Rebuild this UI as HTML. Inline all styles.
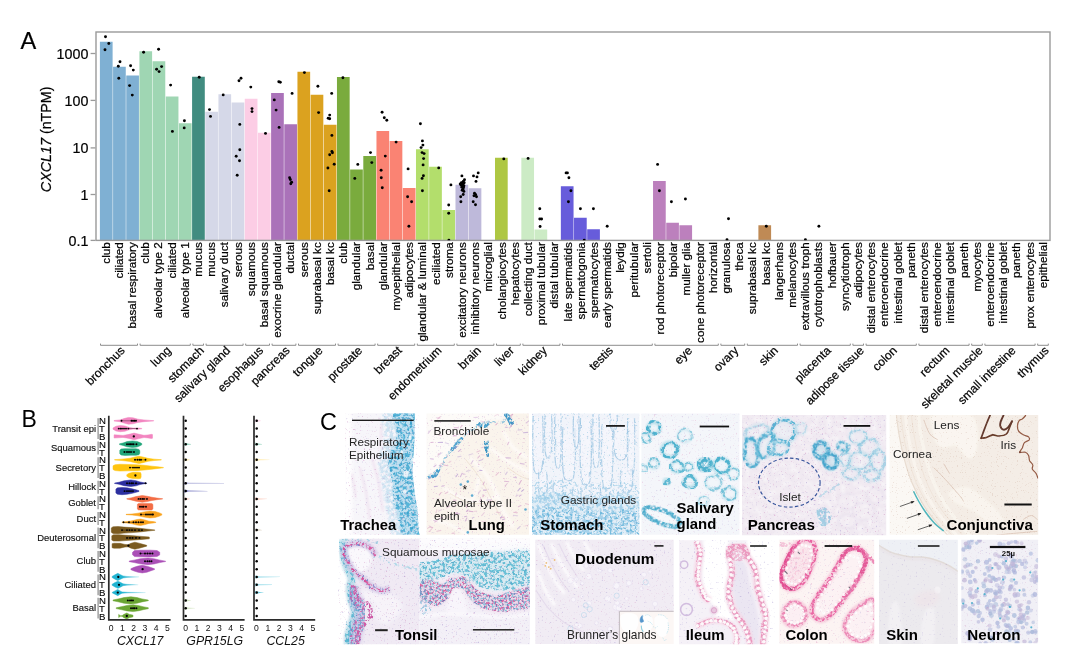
<!DOCTYPE html>
<html lang="en"><head><meta charset="utf-8"><title>CXCL17 expression figure</title>
<style>
html,body{margin:0;padding:0;background:#fff}
body{width:1080px;height:663px;overflow:hidden;font-family:"Liberation Sans", Arial, sans-serif}
svg{display:block}
</style></head><body>
<svg width="1080" height="663" viewBox="0 0 1080 663">
<rect width="1080" height="663" fill="#fff"/>
<defs><clipPath id="cp_trachea"><rect x="345" y="413.2" width="74.7" height="121.6"/></clipPath>
<clipPath id="cp_lung"><rect x="426.6" y="413.4" width="102.4" height="121.4"/></clipPath>
<clipPath id="cp_stomach"><rect x="532" y="413.4" width="107.4" height="121.4"/></clipPath>
<clipPath id="cp_salivary"><rect x="641.4" y="413.4" width="98.1" height="121.4"/></clipPath>
<clipPath id="cp_pancreas"><rect x="742" y="415" width="144.2" height="120.2"/></clipPath>
<clipPath id="cp_conj"><rect x="889.6" y="415" width="148.6" height="119.8"/></clipPath>
<clipPath id="cp_tonsil1"><rect x="338" y="538.8" width="81.6" height="105.5"/></clipPath>
<clipPath id="cp_tonsil2"><rect x="419.6" y="538.8" width="110.3" height="105.5"/></clipPath>
<clipPath id="cp_duo"><rect x="535.3" y="539.7" width="138.4" height="104.3"/></clipPath>
<clipPath id="cp_ileum"><rect x="679.1" y="540.2" width="95.3" height="104.1"/></clipPath>
<clipPath id="cp_colon"><rect x="779.3" y="539.8" width="94.9" height="104.0"/></clipPath>
<clipPath id="cp_skin"><rect x="879" y="539.8" width="78.8" height="104.2"/></clipPath>
<clipPath id="cp_neuron"><rect x="961.3" y="539.8" width="76.8" height="103.4"/></clipPath>
<filter id="spPink" x="0" y="0" width="100%" height="100%" color-interpolation-filters="sRGB"><feTurbulence type="fractalNoise" baseFrequency="0.55" numOctaves="2" seed="3"/><feColorMatrix type="matrix" values="0 0 0 0 0.753  0 0 0 0 0.439  0 0 0 0 0.690  7 0 0 0 -4.75"/><feGaussianBlur stdDeviation="0.4"/></filter>
<filter id="spPink2" x="0" y="0" width="100%" height="100%" color-interpolation-filters="sRGB"><feTurbulence type="fractalNoise" baseFrequency="0.55" numOctaves="2" seed="14"/><feColorMatrix type="matrix" values="0 0 0 0 0.851  0 0 0 0 0.522  0 0 0 0 0.710  7 0 0 0 -4.75"/><feGaussianBlur stdDeviation="0.4"/></filter>
<filter id="spPurp" x="0" y="0" width="100%" height="100%" color-interpolation-filters="sRGB"><feTurbulence type="fractalNoise" baseFrequency="0.5" numOctaves="2" seed="23"/><feColorMatrix type="matrix" values="0 0 0 0 0.561  0 0 0 0 0.486  0 0 0 0 0.769  7 0 0 0 -4.75"/><feGaussianBlur stdDeviation="0.4"/></filter>
<filter id="spBlueFine" x="0" y="0" width="100%" height="100%" color-interpolation-filters="sRGB"><feTurbulence type="fractalNoise" baseFrequency="0.55" numOctaves="2" seed="31"/><feColorMatrix type="matrix" values="0 0 0 0 0.310  0 0 0 0 0.651  0 0 0 0 0.816  7 0 0 0 -4.5"/><feGaussianBlur stdDeviation="0.4"/></filter>
<filter id="spWhite" x="0" y="0" width="100%" height="100%" color-interpolation-filters="sRGB"><feTurbulence type="fractalNoise" baseFrequency="0.22" numOctaves="2" seed="41"/><feColorMatrix type="matrix" values="0 0 0 0 1.000  0 0 0 0 1.000  0 0 0 0 1.000  6 0 0 0 -3.0"/><feGaussianBlur stdDeviation="0.8"/></filter>
<filter id="stain" x="-15%" y="-15%" width="130%" height="130%" color-interpolation-filters="sRGB"><feTurbulence type="fractalNoise" baseFrequency="0.12" numOctaves="2" seed="5" result="warp"/><feDisplacementMap in="SourceGraphic" in2="warp" scale="5" xChannelSelector="R" yChannelSelector="G" result="d"/><feGaussianBlur in="d" stdDeviation="0.5" result="db"/><feTurbulence type="fractalNoise" baseFrequency="0.42" numOctaves="3" seed="16" result="grain"/><feColorMatrix in="grain" type="matrix" values="0 0 0 0 0  0 0 0 0 0  0 0 0 0 0  5.5 0 0 0 -2.35" result="ga"/><feComposite in="db" in2="ga" operator="in"/><feGaussianBlur stdDeviation="0.4"/></filter>
<filter id="stainSoft" x="-15%" y="-15%" width="130%" height="130%" color-interpolation-filters="sRGB"><feTurbulence type="fractalNoise" baseFrequency="0.1" numOctaves="2" seed="9" result="warp"/><feDisplacementMap in="SourceGraphic" in2="warp" scale="4" xChannelSelector="R" yChannelSelector="G" result="d"/><feGaussianBlur in="d" stdDeviation="0.9" result="db"/><feTurbulence type="fractalNoise" baseFrequency="0.3" numOctaves="3" seed="20" result="grain"/><feColorMatrix in="grain" type="matrix" values="0 0 0 0 0  0 0 0 0 0  0 0 0 0 0  3.5 0 0 0 -1.1" result="ga"/><feComposite in="db" in2="ga" operator="in"/><feGaussianBlur stdDeviation="0.4"/></filter>
<filter id="stainFine" x="-15%" y="-15%" width="130%" height="130%" color-interpolation-filters="sRGB"><feTurbulence type="fractalNoise" baseFrequency="0.2" numOctaves="2" seed="17" result="warp"/><feDisplacementMap in="SourceGraphic" in2="warp" scale="2.5" xChannelSelector="R" yChannelSelector="G" result="d"/><feGaussianBlur in="d" stdDeviation="0.4" result="db"/><feTurbulence type="fractalNoise" baseFrequency="0.5" numOctaves="3" seed="28" result="grain"/><feColorMatrix in="grain" type="matrix" values="0 0 0 0 0  0 0 0 0 0  0 0 0 0 0  5 0 0 0 -2.3" result="ga"/><feComposite in="db" in2="ga" operator="in"/><feGaussianBlur stdDeviation="0.4"/></filter>
<filter id="stainDense" x="-15%" y="-15%" width="130%" height="130%" color-interpolation-filters="sRGB"><feTurbulence type="fractalNoise" baseFrequency="0.12" numOctaves="2" seed="27" result="warp"/><feDisplacementMap in="SourceGraphic" in2="warp" scale="4" xChannelSelector="R" yChannelSelector="G" result="d"/><feGaussianBlur in="d" stdDeviation="0.5" result="db"/><feTurbulence type="fractalNoise" baseFrequency="0.42" numOctaves="3" seed="38" result="grain"/><feColorMatrix in="grain" type="matrix" values="0 0 0 0 0  0 0 0 0 0  0 0 0 0 0  5 0 0 0 -1.9" result="ga"/><feComposite in="db" in2="ga" operator="in"/><feGaussianBlur stdDeviation="0.4"/></filter>
<filter id="soft" x="-2%" y="-2%" width="104%" height="104%"><feGaussianBlur stdDeviation="0.45"/></filter>
<filter id="b1" x="-20%" y="-20%" width="140%" height="140%"><feGaussianBlur stdDeviation="1.0"/></filter>
<filter id="b2" x="-20%" y="-20%" width="140%" height="140%"><feGaussianBlur stdDeviation="2.0"/></filter>
<filter id="b3" x="-20%" y="-20%" width="140%" height="140%"><feGaussianBlur stdDeviation="3.5"/></filter>
<filter id="b05" x="-20%" y="-20%" width="140%" height="140%"><feGaussianBlur stdDeviation="0.5"/></filter>
<filter id="b6" x="-20%" y="-20%" width="140%" height="140%"><feGaussianBlur stdDeviation="6"/></filter>
<filter id="stainBlob" x="-15%" y="-15%" width="130%" height="130%" color-interpolation-filters="sRGB"><feTurbulence type="fractalNoise" baseFrequency="0.12" numOctaves="2" seed="3" result="warp"/><feDisplacementMap in="SourceGraphic" in2="warp" scale="4" xChannelSelector="R" yChannelSelector="G" result="d"/><feGaussianBlur in="d" stdDeviation="0.45" result="db"/><feTurbulence type="fractalNoise" baseFrequency="0.3" numOctaves="2" seed="14" result="grain"/><feColorMatrix in="grain" type="matrix" values="0 0 0 0 0  0 0 0 0 0  0 0 0 0 0  6 0 0 0 -2.75" result="ga"/><feComposite in="db" in2="ga" operator="in"/><feGaussianBlur stdDeviation="0.4"/></filter>
<filter id="stainBlob2" x="-15%" y="-15%" width="130%" height="130%" color-interpolation-filters="sRGB"><feTurbulence type="fractalNoise" baseFrequency="0.12" numOctaves="2" seed="13" result="warp"/><feDisplacementMap in="SourceGraphic" in2="warp" scale="4" xChannelSelector="R" yChannelSelector="G" result="d"/><feGaussianBlur in="d" stdDeviation="0.4" result="db"/><feTurbulence type="fractalNoise" baseFrequency="0.4" numOctaves="2" seed="24" result="grain"/><feColorMatrix in="grain" type="matrix" values="0 0 0 0 0  0 0 0 0 0  0 0 0 0 0  7 0 0 0 -3.7" result="ga"/><feComposite in="db" in2="ga" operator="in"/><feGaussianBlur stdDeviation="0.4"/></filter>
<filter id="stainTr" x="-15%" y="-15%" width="130%" height="130%" color-interpolation-filters="sRGB"><feTurbulence type="fractalNoise" baseFrequency="0.12" numOctaves="2" seed="3" result="warp"/><feDisplacementMap in="SourceGraphic" in2="warp" scale="4" xChannelSelector="R" yChannelSelector="G" result="d"/><feGaussianBlur in="d" stdDeviation="0.45" result="db"/><feTurbulence type="fractalNoise" baseFrequency="0.3" numOctaves="2" seed="14" result="grain"/><feColorMatrix in="grain" type="matrix" values="0 0 0 0 0  0 0 0 0 0  0 0 0 0 0  6 0 0 0 -2.95" result="ga"/><feComposite in="db" in2="ga" operator="in"/><feGaussianBlur stdDeviation="0.4"/></filter>
<filter id="stainLine" x="-15%" y="-15%" width="130%" height="130%" color-interpolation-filters="sRGB"><feTurbulence type="fractalNoise" baseFrequency="0.15" numOctaves="2" seed="21" result="warp"/><feDisplacementMap in="SourceGraphic" in2="warp" scale="2.5" xChannelSelector="R" yChannelSelector="G" result="d"/><feGaussianBlur in="d" stdDeviation="0.4" result="db"/><feTurbulence type="fractalNoise" baseFrequency="0.4" numOctaves="2" seed="32" result="grain"/><feColorMatrix in="grain" type="matrix" values="0 0 0 0 0  0 0 0 0 0  0 0 0 0 0  4 0 0 0 -1.2" result="ga"/><feComposite in="db" in2="ga" operator="in"/><feGaussianBlur stdDeviation="0.4"/></filter>
<filter id="stainSal" x="-15%" y="-15%" width="130%" height="130%" color-interpolation-filters="sRGB"><feTurbulence type="fractalNoise" baseFrequency="0.1" numOctaves="2" seed="83" result="warp"/><feDisplacementMap in="SourceGraphic" in2="warp" scale="7" xChannelSelector="R" yChannelSelector="G" result="d"/><feGaussianBlur in="d" stdDeviation="0.5" result="db"/><feTurbulence type="fractalNoise" baseFrequency="0.3" numOctaves="2" seed="94" result="grain"/><feColorMatrix in="grain" type="matrix" values="0 0 0 0 0  0 0 0 0 0  0 0 0 0 0  5 0 0 0 -1.6" result="ga"/><feComposite in="db" in2="ga" operator="in"/><feGaussianBlur stdDeviation="0.4"/></filter>
<filter id="stainPan" x="-15%" y="-15%" width="130%" height="130%" color-interpolation-filters="sRGB"><feTurbulence type="fractalNoise" baseFrequency="0.1" numOctaves="2" seed="29" result="warp"/><feDisplacementMap in="SourceGraphic" in2="warp" scale="6" xChannelSelector="R" yChannelSelector="G" result="d"/><feGaussianBlur in="d" stdDeviation="0.55" result="db"/><feTurbulence type="fractalNoise" baseFrequency="0.3" numOctaves="2" seed="40" result="grain"/><feColorMatrix in="grain" type="matrix" values="0 0 0 0 0  0 0 0 0 0  0 0 0 0 0  5 0 0 0 -1.7" result="ga"/><feComposite in="db" in2="ga" operator="in"/><feGaussianBlur stdDeviation="0.4"/></filter>
<filter id="spTan" x="0" y="0" width="100%" height="100%" color-interpolation-filters="sRGB"><feTurbulence type="fractalNoise" baseFrequency="0.8" numOctaves="2" seed="51"/><feColorMatrix type="matrix" values="0 0 0 0 0.725  0 0 0 0 0.561  0 0 0 0 0.486  9 0 0 0 -5.9"/></filter>
<filter id="spMag" x="0" y="0" width="100%" height="100%" color-interpolation-filters="sRGB"><feTurbulence type="fractalNoise" baseFrequency="0.6" numOctaves="2" seed="61"/><feColorMatrix type="matrix" values="0 0 0 0 0.847  0 0 0 0 0.251  0 0 0 0 0.498  8 0 0 0 -4.8"/><feGaussianBlur stdDeviation="0.45"/></filter>
<filter id="spNavy" x="0" y="0" width="100%" height="100%" color-interpolation-filters="sRGB"><feTurbulence type="fractalNoise" baseFrequency="0.6" numOctaves="2" seed="67"/><feColorMatrix type="matrix" values="0 0 0 0 0.290  0 0 0 0 0.290  0 0 0 0 0.604  8 0 0 0 -4.9"/><feGaussianBlur stdDeviation="0.45"/></filter>
<filter id="spTeal" x="0" y="0" width="100%" height="100%" color-interpolation-filters="sRGB"><feTurbulence type="fractalNoise" baseFrequency="0.6" numOctaves="2" seed="71"/><feColorMatrix type="matrix" values="0 0 0 0 0.184  0 0 0 0 0.647  0 0 0 0 0.784  8 0 0 0 -4.7"/><feGaussianBlur stdDeviation="0.45"/></filter>
<filter id="stainPink" x="-15%" y="-15%" width="130%" height="130%" color-interpolation-filters="sRGB"><feTurbulence type="fractalNoise" baseFrequency="0.14" numOctaves="2" seed="33" result="warp"/><feDisplacementMap in="SourceGraphic" in2="warp" scale="4" xChannelSelector="R" yChannelSelector="G" result="d"/><feGaussianBlur in="d" stdDeviation="0.45" result="db"/><feTurbulence type="fractalNoise" baseFrequency="0.4" numOctaves="3" seed="44" result="grain"/><feColorMatrix in="grain" type="matrix" values="0 0 0 0 0  0 0 0 0 0  0 0 0 0 0  4.5 0 0 0 -1.7" result="ga"/><feComposite in="db" in2="ga" operator="in"/><feGaussianBlur stdDeviation="0.4"/></filter>
<filter id="stainMag" x="-15%" y="-15%" width="130%" height="130%" color-interpolation-filters="sRGB"><feTurbulence type="fractalNoise" baseFrequency="0.14" numOctaves="2" seed="43" result="warp"/><feDisplacementMap in="SourceGraphic" in2="warp" scale="3" xChannelSelector="R" yChannelSelector="G" result="d"/><feGaussianBlur in="d" stdDeviation="0.4" result="db"/><feTurbulence type="fractalNoise" baseFrequency="0.4" numOctaves="3" seed="54" result="grain"/><feColorMatrix in="grain" type="matrix" values="0 0 0 0 0  0 0 0 0 0  0 0 0 0 0  3.5 0 0 0 -1.0" result="ga"/><feComposite in="db" in2="ga" operator="in"/><feGaussianBlur stdDeviation="0.4"/></filter>
<filter id="stainBlob3" x="-15%" y="-15%" width="130%" height="130%" color-interpolation-filters="sRGB"><feTurbulence type="fractalNoise" baseFrequency="0.12" numOctaves="2" seed="37" result="warp"/><feDisplacementMap in="SourceGraphic" in2="warp" scale="5" xChannelSelector="R" yChannelSelector="G" result="d"/><feGaussianBlur in="d" stdDeviation="0.6" result="db"/><feTurbulence type="fractalNoise" baseFrequency="0.33" numOctaves="2" seed="48" result="grain"/><feColorMatrix in="grain" type="matrix" values="0 0 0 0 0  0 0 0 0 0  0 0 0 0 0  6 0 0 0 -2.9" result="ga"/><feComposite in="db" in2="ga" operator="in"/><feGaussianBlur stdDeviation="0.4"/></filter>
<filter id="stainBlob4" x="-15%" y="-15%" width="130%" height="130%" color-interpolation-filters="sRGB"><feTurbulence type="fractalNoise" baseFrequency="0.12" numOctaves="2" seed="47" result="warp"/><feDisplacementMap in="SourceGraphic" in2="warp" scale="4" xChannelSelector="R" yChannelSelector="G" result="d"/><feGaussianBlur in="d" stdDeviation="0.45" result="db"/><feTurbulence type="fractalNoise" baseFrequency="0.4" numOctaves="2" seed="58" result="grain"/><feColorMatrix in="grain" type="matrix" values="0 0 0 0 0  0 0 0 0 0  0 0 0 0 0  7 0 0 0 -3.55" result="ga"/><feComposite in="db" in2="ga" operator="in"/><feGaussianBlur stdDeviation="0.4"/></filter>
<filter id="stainBlob5" x="-15%" y="-15%" width="130%" height="130%" color-interpolation-filters="sRGB"><feTurbulence type="fractalNoise" baseFrequency="0.12" numOctaves="2" seed="57" result="warp"/><feDisplacementMap in="SourceGraphic" in2="warp" scale="4" xChannelSelector="R" yChannelSelector="G" result="d"/><feGaussianBlur in="d" stdDeviation="0.45" result="db"/><feTurbulence type="fractalNoise" baseFrequency="0.45" numOctaves="2" seed="68" result="grain"/><feColorMatrix in="grain" type="matrix" values="0 0 0 0 0  0 0 0 0 0  0 0 0 0 0  7 0 0 0 -4.0" result="ga"/><feComposite in="db" in2="ga" operator="in"/><feGaussianBlur stdDeviation="0.4"/></filter>
<filter id="stainBlob6" x="-15%" y="-15%" width="130%" height="130%" color-interpolation-filters="sRGB"><feTurbulence type="fractalNoise" baseFrequency="0.14" numOctaves="2" seed="77" result="warp"/><feDisplacementMap in="SourceGraphic" in2="warp" scale="3" xChannelSelector="R" yChannelSelector="G" result="d"/><feGaussianBlur in="d" stdDeviation="0.4" result="db"/><feTurbulence type="fractalNoise" baseFrequency="0.42" numOctaves="2" seed="88" result="grain"/><feColorMatrix in="grain" type="matrix" values="0 0 0 0 0  0 0 0 0 0  0 0 0 0 0  6 0 0 0 -2.7" result="ga"/><feComposite in="db" in2="ga" operator="in"/><feGaussianBlur stdDeviation="0.4"/></filter>
<filter id="stainIle" x="-15%" y="-15%" width="130%" height="130%" color-interpolation-filters="sRGB"><feTurbulence type="fractalNoise" baseFrequency="0.14" numOctaves="2" seed="63" result="warp"/><feDisplacementMap in="SourceGraphic" in2="warp" scale="3" xChannelSelector="R" yChannelSelector="G" result="d"/><feGaussianBlur in="d" stdDeviation="0.5" result="db"/><feTurbulence type="fractalNoise" baseFrequency="0.4" numOctaves="2" seed="74" result="grain"/><feColorMatrix in="grain" type="matrix" values="0 0 0 0 0  0 0 0 0 0  0 0 0 0 0  5 0 0 0 -1.8" result="ga"/><feComposite in="db" in2="ga" operator="in"/><feGaussianBlur stdDeviation="0.4"/></filter>
<filter id="stainCol" x="-15%" y="-15%" width="130%" height="130%" color-interpolation-filters="sRGB"><feTurbulence type="fractalNoise" baseFrequency="0.14" numOctaves="2" seed="91" result="warp"/><feDisplacementMap in="SourceGraphic" in2="warp" scale="3" xChannelSelector="R" yChannelSelector="G" result="d"/><feGaussianBlur in="d" stdDeviation="0.45" result="db"/><feTurbulence type="fractalNoise" baseFrequency="0.4" numOctaves="2" seed="102" result="grain"/><feColorMatrix in="grain" type="matrix" values="0 0 0 0 0  0 0 0 0 0  0 0 0 0 0  5 0 0 0 -1.9" result="ga"/><feComposite in="db" in2="ga" operator="in"/><feGaussianBlur stdDeviation="0.4"/></filter></defs>
<g font-family='"Liberation Sans", Arial, sans-serif'>
<text x="320" y="429.6" font-size="23.4" fill="#000">C</text>
<g clip-path="url(#cp_trachea)"><g filter="url(#soft)">
<rect x="342" y="410.2" width="80.7" height="127.6" fill="#F7F5FA"/>
<rect x="343" y="410" width="9" height="130" fill="#fff" filter="url(#b2)"/>
<path d="M359.9 467.8C360.9 471.7 364.2 483.0 365.9 491.7C367.5 500.3 369.2 514.9 369.9 519.6" fill="none" stroke="#E3C6E0" stroke-width="1.6" opacity=".55" filter="url(#b1)"/>
<path d="M371.9 457.8C373.0 462.1 377.0 474.7 378.8 483.7C380.7 492.7 382.1 506.9 382.8 511.6" fill="none" stroke="#E3C6E0" stroke-width="1.6" opacity=".55" filter="url(#b1)"/>
<path d="M351.9 473.7 L355.9 497.6" fill="none" stroke="#E3C6E0" stroke-width="1.6" opacity=".55" filter="url(#b1)"/>
<path d="M381.8 423.9 L380.2 447.8" fill="none" stroke="#E3C6E0" stroke-width="1.6" opacity=".55" filter="url(#b1)"/>
<path d="M382.8 412.0C376.8 416.3 385.5 430.2 384.8 437.9C384.1 445.5 379.5 451.2 378.8 457.8C378.2 464.4 380.0 471.1 380.8 477.7C381.7 484.4 382.6 491.0 383.8 497.6C385.0 504.3 386.7 511.3 388.2 517.6C389.7 523.9 387.4 532.5 392.8 535.5C398.2 538.5 416.0 556.1 420.7 535.5C425.3 514.9 427.0 432.6 420.7 412.0C414.4 391.4 388.8 407.7 382.8 412.0Z" fill="#A9D3EA" opacity=".6" filter="url(#stainSoft)"/>
<path d="M394.2 412.0C390.0 414.6 395.3 423.3 395.8 427.9C396.2 432.6 397.8 435.4 396.8 439.9C395.7 444.4 390.8 450.5 389.4 454.8C388.0 459.1 387.7 462.0 388.2 465.8C388.7 469.6 391.4 473.1 392.2 477.7C393.0 482.4 392.4 488.7 393.0 493.7C393.6 498.6 394.7 503.0 395.8 507.6C396.8 512.2 398.2 516.9 399.3 521.5C400.5 526.2 399.2 533.2 402.7 535.5C406.3 537.8 417.7 556.1 420.7 535.5C423.6 514.9 425.1 432.6 420.7 412.0C416.2 391.4 398.3 409.3 394.2 412.0Z" fill="#B4DBEE" opacity=".85" filter="url(#b1)"/>
<path d="M394.2 412.0C390.0 414.6 395.3 423.3 395.8 427.9C396.2 432.6 397.8 435.4 396.8 439.9C395.7 444.4 390.8 450.5 389.4 454.8C388.0 459.1 387.7 462.0 388.2 465.8C388.7 469.6 391.4 473.1 392.2 477.7C393.0 482.4 392.4 488.7 393.0 493.7C393.6 498.6 394.7 503.0 395.8 507.6C396.8 512.2 398.2 516.9 399.3 521.5C400.5 526.2 399.2 533.2 402.7 535.5C406.3 537.8 417.7 556.1 420.7 535.5C423.6 514.9 425.1 432.6 420.7 412.0C416.2 391.4 398.3 409.3 394.2 412.0Z" fill="#30A5D0" opacity=".85" filter="url(#stainTr)"/>
<path d="M394.2 412.0C390.0 414.6 395.3 423.3 395.8 427.9C396.2 432.6 397.8 435.4 396.8 439.9C395.7 444.4 390.8 450.5 389.4 454.8C388.0 459.1 387.7 462.0 388.2 465.8C388.7 469.6 391.4 473.1 392.2 477.7C393.0 482.4 392.4 488.7 393.0 493.7C393.6 498.6 394.7 503.0 395.8 507.6C396.8 512.2 398.2 516.9 399.3 521.5C400.5 526.2 399.2 533.2 402.7 535.5C406.3 537.8 417.7 556.1 420.7 535.5C423.6 514.9 425.1 432.6 420.7 412.0C416.2 391.4 398.3 409.3 394.2 412.0Z" fill="#1B8FC2" opacity=".65" filter="url(#stainBlob2)"/>
<ellipse cx="406.1" cy="473.7" rx="2.6" ry="3.0" fill="#EEF6FB" opacity=".9" filter="url(#b05)"/>
<ellipse cx="404.7" cy="491.7" rx="1.8" ry="2.4" fill="#EEF6FB" opacity=".9" filter="url(#b05)"/>
<ellipse cx="410.1" cy="437.9" rx="1.6" ry="2.4" fill="#EEF6FB" opacity=".9" filter="url(#b05)"/>
<ellipse cx="401.7" cy="451.8" rx="1.4" ry="1.8" fill="#EEF6FB" opacity=".9" filter="url(#b05)"/>
<ellipse cx="412.7" cy="459.8" rx="1.6" ry="2.0" fill="#EEF6FB" opacity=".9" filter="url(#b05)"/>
<path d="M414.9 412L414.6 440L412.4 470L414.6 492L417.3 508L419 533L422 536L422 412Z" fill="#fff" filter="url(#b05)"/>
<rect x="345" y="413.2" width="74.7" height="121.6" filter="url(#spPink)" opacity="0.4"/>
<rect x="345" y="413.2" width="74.7" height="121.6" filter="url(#spPurp)" opacity="0.3"/>
<rect x="342" y="410.2" width="80.7" height="127.6" fill="#fff" opacity="0.1"/>
</g></g>
<rect x="352" y="419.65" width="61.7" height="1.3" fill="#111"/>
<text x="349" y="445.8" font-size="11.7" fill="#232323" text-anchor="start">Respiratory</text>
<text x="349" y="459.4" font-size="11.7" fill="#232323" text-anchor="start">Epithelium</text>
<text x="340.2" y="529.9" font-size="14.8" font-weight="700" fill="#000" text-anchor="start">Trachea</text>
<g clip-path="url(#cp_lung)"><g filter="url(#soft)">
<rect x="423.6" y="410.4" width="108.4" height="127.4" fill="#FAF3EA"/>
<path d="M426.0 412.0 L426.0 476.7 L433.9 472.7 L439.9 466.7 L449.9 450.8 L456.8 440.8 L462.8 434.9 L479.7 422.9 L487.7 420.3 L499.6 420.3 L507.6 414.0 L507.6 412.0Z" fill="#FDFBF8" filter="url(#b1)"/>
<path d="M469.8 457.8C472.4 460.4 481.4 468.0 485.7 473.7C490.0 479.3 492.6 485.3 495.6 491.6C498.6 497.9 500.6 505.5 503.6 511.5C506.6 517.5 511.9 524.7 513.5 527.4" fill="none" stroke="#FFFDFA" stroke-width="3.2" opacity=".8" filter="url(#b1)"/>
<path d="M489.7 447.8C492.3 449.8 500.6 456.4 505.6 459.7C510.5 463.1 515.5 465.4 519.5 467.7C523.5 470.0 527.8 472.7 529.5 473.7" fill="none" stroke="#FFFDFA" stroke-width="3.2" opacity=".8" filter="url(#b1)"/>
<path d="M443.9 487.6C446.5 489.3 453.8 495.2 459.8 497.6C465.8 499.9 473.1 501.9 479.7 501.5C486.3 501.2 496.3 496.6 499.6 495.6" fill="none" stroke="#FFFDFA" stroke-width="3.2" opacity=".8" filter="url(#b1)"/>
<path d="M503.6 431.9C505.2 434.5 509.6 443.5 513.5 447.8C517.5 452.1 525.1 456.1 527.5 457.8" fill="none" stroke="#FFFDFA" stroke-width="3.2" opacity=".8" filter="url(#b1)"/>
<path d="M431.9 519.4C435.3 520.4 445.9 522.8 451.8 525.4C457.8 528.1 465.1 533.7 467.8 535.4" fill="none" stroke="#FFFDFA" stroke-width="3.2" opacity=".8" filter="url(#b1)"/>
<path d="M479.7 475.7C479.0 478.3 477.4 486.3 475.7 491.6C474.1 496.9 470.7 504.8 469.8 507.5" fill="none" stroke="#FFFDFA" stroke-width="3.2" opacity=".8" filter="url(#b1)"/>
<path d="M465.8 459.7C468.1 462.7 475.7 471.7 479.7 477.7C483.7 483.6 486.3 489.3 489.7 495.6C493.0 501.9 497.9 512.1 499.6 515.5" fill="none" stroke="#EAD9C6" stroke-width="1" opacity=".7" filter="url(#b05)"/>
<path d="M507.6 467.7C509.6 469.0 515.9 473.7 519.5 475.7C523.1 477.7 527.5 479.0 529.1 479.6" fill="none" stroke="#EAD9C6" stroke-width="1" opacity=".7" filter="url(#b05)"/>
<path d="M449.9 493.6C453.5 495.2 464.1 502.2 471.7 503.5C479.4 504.8 491.6 501.9 495.6 501.5" fill="none" stroke="#EAD9C6" stroke-width="1" opacity=".7" filter="url(#b05)"/>
<path d="M427.0 478.0C428.1 477.4 431.8 475.7 433.9 474.1C436.1 472.4 437.2 471.7 439.9 468.1C442.6 464.5 447.0 456.5 449.9 452.2C452.7 447.9 454.7 444.9 456.8 442.2C459.0 439.6 459.0 439.2 462.8 436.3C466.6 433.3 475.6 426.7 479.7 424.3C483.8 421.9 484.3 422.3 487.7 421.9C491.0 421.5 496.1 422.9 499.6 421.9C503.1 420.9 507.1 417.0 508.6 416.0" fill="none" stroke="#58ABD4" stroke-width="2.4" opacity=".7" filter="url(#stain)"/>
<path d="M485.3 440.8C485.6 442.2 486.7 446.1 487.3 448.8C487.8 451.4 488.3 455.4 488.5 456.8" fill="none" stroke="#2389BE" stroke-width="4" filter="url(#stainLine)"/>
<path d="M505.2 413.0C505.7 413.8 507.4 416.0 508.6 418.0C509.8 419.9 511.7 423.8 512.3 424.9" fill="none" stroke="#1F86BE" stroke-width="4.6" filter="url(#stainLine)"/>
<path d="M477.7 422.9C478.7 423.6 481.9 426.9 483.7 426.9C485.5 426.9 487.8 423.6 488.7 422.9" fill="none" stroke="#2F93C6" stroke-width="3.4" filter="url(#stainLine)"/>
<path d="M428.0 476.7C429.1 476.5 433.1 477.0 434.9 475.7C436.7 474.3 438.2 469.9 438.9 468.7" fill="none" stroke="#2F93C6" stroke-width="3.6" filter="url(#stainLine)"/>
<path d="M451.8 450.8C453.0 449.3 457.0 444.0 458.8 441.8C460.6 439.7 462.1 438.5 462.8 437.9" fill="none" stroke="#2F93C6" stroke-width="3.4" filter="url(#stainLine)"/>
<circle cx="460.8" cy="484.6" r="1.3" fill="#2F93C6" opacity=".85" filter="url(#b05)"/>
<circle cx="467.8" cy="481.6" r="1.3" fill="#2F93C6" opacity=".85" filter="url(#b05)"/>
<circle cx="472.1" cy="495.6" r="1.3" fill="#2F93C6" opacity=".85" filter="url(#b05)"/>
<circle cx="467.8" cy="532.4" r="1.3" fill="#2F93C6" opacity=".85" filter="url(#b05)"/>
<circle cx="525.5" cy="509.5" r="1.3" fill="#2F93C6" opacity=".85" filter="url(#b05)"/>
<g filter="url(#b05)">
<line x1="483.5" y1="490.1" x2="486.2" y2="490.1" stroke="#B98AC8" stroke-width="1.1" stroke-linecap="round" opacity="0.69"/>
<line x1="517.5" y1="528.8" x2="520.2" y2="526.4" stroke="#A98ACB" stroke-width="1.1" stroke-linecap="round" opacity="0.51"/>
<line x1="521.7" y1="491.4" x2="523.7" y2="489.6" stroke="#A98ACB" stroke-width="1.1" stroke-linecap="round" opacity="0.66"/>
<line x1="500.4" y1="517.9" x2="504.3" y2="517.1" stroke="#D79ABF" stroke-width="1.1" stroke-linecap="round" opacity="0.67"/>
<line x1="482.8" y1="496.9" x2="483.9" y2="495.1" stroke="#D79ABF" stroke-width="1.1" stroke-linecap="round" opacity="0.70"/>
<line x1="526.1" y1="423.0" x2="528.9" y2="420.9" stroke="#B98AC8" stroke-width="1.1" stroke-linecap="round" opacity="0.53"/>
<line x1="457.8" y1="456.9" x2="461.1" y2="456.2" stroke="#A98ACB" stroke-width="1.1" stroke-linecap="round" opacity="0.41"/>
<line x1="436.3" y1="417.7" x2="440.0" y2="418.1" stroke="#C98BC0" stroke-width="1.1" stroke-linecap="round" opacity="0.37"/>
<line x1="435.9" y1="512.7" x2="437.0" y2="509.9" stroke="#D79ABF" stroke-width="1.1" stroke-linecap="round" opacity="0.42"/>
<line x1="445.2" y1="493.4" x2="447.9" y2="491.9" stroke="#D79ABF" stroke-width="1.1" stroke-linecap="round" opacity="0.56"/>
<line x1="472.2" y1="518.1" x2="474.0" y2="517.2" stroke="#A98ACB" stroke-width="1.1" stroke-linecap="round" opacity="0.48"/>
<line x1="505.2" y1="427.2" x2="507.2" y2="427.4" stroke="#A98ACB" stroke-width="1.1" stroke-linecap="round" opacity="0.60"/>
<line x1="513.4" y1="515.4" x2="517.6" y2="515.8" stroke="#A98ACB" stroke-width="1.1" stroke-linecap="round" opacity="0.36"/>
<line x1="434.3" y1="486.6" x2="437.4" y2="486.3" stroke="#A98ACB" stroke-width="1.1" stroke-linecap="round" opacity="0.68"/>
<line x1="466.4" y1="471.4" x2="470.1" y2="470.4" stroke="#A98ACB" stroke-width="1.1" stroke-linecap="round" opacity="0.36"/>
<line x1="466.4" y1="511.4" x2="468.1" y2="509.9" stroke="#B98AC8" stroke-width="1.1" stroke-linecap="round" opacity="0.67"/>
<line x1="458.2" y1="528.4" x2="460.6" y2="528.8" stroke="#D79ABF" stroke-width="1.1" stroke-linecap="round" opacity="0.64"/>
<line x1="469.0" y1="511.1" x2="473.0" y2="511.8" stroke="#C98BC0" stroke-width="1.1" stroke-linecap="round" opacity="0.65"/>
<line x1="489.7" y1="501.6" x2="491.1" y2="500.0" stroke="#D79ABF" stroke-width="1.1" stroke-linecap="round" opacity="0.65"/>
<line x1="433.7" y1="428.0" x2="436.1" y2="428.2" stroke="#C98BC0" stroke-width="1.1" stroke-linecap="round" opacity="0.37"/>
<line x1="494.6" y1="416.1" x2="497.4" y2="414.4" stroke="#D79ABF" stroke-width="1.1" stroke-linecap="round" opacity="0.35"/>
<line x1="520.3" y1="463.4" x2="524.2" y2="464.1" stroke="#B98AC8" stroke-width="1.1" stroke-linecap="round" opacity="0.51"/>
<line x1="505.1" y1="486.1" x2="507.2" y2="483.5" stroke="#C98BC0" stroke-width="1.1" stroke-linecap="round" opacity="0.47"/>
<line x1="434.7" y1="522.0" x2="437.2" y2="520.8" stroke="#C98BC0" stroke-width="1.1" stroke-linecap="round" opacity="0.61"/>
<line x1="511.0" y1="417.8" x2="512.5" y2="414.1" stroke="#D79ABF" stroke-width="1.1" stroke-linecap="round" opacity="0.46"/>
<line x1="438.7" y1="455.0" x2="441.2" y2="453.0" stroke="#A98ACB" stroke-width="1.1" stroke-linecap="round" opacity="0.44"/>
<line x1="513.7" y1="477.4" x2="516.3" y2="477.6" stroke="#B98AC8" stroke-width="1.1" stroke-linecap="round" opacity="0.50"/>
<line x1="438.7" y1="510.9" x2="441.6" y2="509.7" stroke="#B98AC8" stroke-width="1.1" stroke-linecap="round" opacity="0.35"/>
<line x1="428.2" y1="433.4" x2="430.5" y2="430.4" stroke="#B98AC8" stroke-width="1.1" stroke-linecap="round" opacity="0.46"/>
<line x1="510.3" y1="415.7" x2="512.8" y2="414.3" stroke="#D79ABF" stroke-width="1.1" stroke-linecap="round" opacity="0.69"/>
<line x1="453.2" y1="506.8" x2="455.3" y2="504.7" stroke="#C98BC0" stroke-width="1.1" stroke-linecap="round" opacity="0.47"/>
<line x1="436.8" y1="531.4" x2="440.9" y2="530.4" stroke="#D79ABF" stroke-width="1.1" stroke-linecap="round" opacity="0.43"/>
<line x1="464.4" y1="516.8" x2="466.7" y2="516.3" stroke="#B98AC8" stroke-width="1.1" stroke-linecap="round" opacity="0.63"/>
<line x1="465.3" y1="521.0" x2="466.9" y2="517.9" stroke="#B98AC8" stroke-width="1.1" stroke-linecap="round" opacity="0.62"/>
<line x1="513.8" y1="512.4" x2="517.4" y2="512.7" stroke="#D79ABF" stroke-width="1.1" stroke-linecap="round" opacity="0.61"/>
<line x1="517.9" y1="490.8" x2="520.3" y2="488.1" stroke="#A98ACB" stroke-width="1.1" stroke-linecap="round" opacity="0.63"/>
<line x1="471.1" y1="463.7" x2="473.0" y2="460.4" stroke="#B98AC8" stroke-width="1.1" stroke-linecap="round" opacity="0.45"/>
<line x1="509.9" y1="427.5" x2="511.6" y2="425.3" stroke="#B98AC8" stroke-width="1.1" stroke-linecap="round" opacity="0.64"/>
<line x1="438.2" y1="442.5" x2="442.5" y2="442.4" stroke="#A98ACB" stroke-width="1.1" stroke-linecap="round" opacity="0.67"/>
<line x1="519.1" y1="484.3" x2="521.1" y2="480.7" stroke="#C98BC0" stroke-width="1.1" stroke-linecap="round" opacity="0.66"/>
<line x1="479.0" y1="460.7" x2="482.7" y2="459.4" stroke="#A98ACB" stroke-width="1.1" stroke-linecap="round" opacity="0.52"/>
<line x1="476.9" y1="452.0" x2="479.9" y2="450.7" stroke="#D79ABF" stroke-width="1.1" stroke-linecap="round" opacity="0.56"/>
<line x1="519.4" y1="496.1" x2="521.1" y2="495.0" stroke="#B98AC8" stroke-width="1.1" stroke-linecap="round" opacity="0.65"/>
<line x1="455.7" y1="513.1" x2="459.8" y2="513.9" stroke="#B98AC8" stroke-width="1.1" stroke-linecap="round" opacity="0.46"/>
<line x1="429.9" y1="530.9" x2="432.0" y2="528.6" stroke="#D79ABF" stroke-width="1.1" stroke-linecap="round" opacity="0.47"/>
<line x1="437.8" y1="418.8" x2="440.3" y2="416.6" stroke="#D79ABF" stroke-width="1.1" stroke-linecap="round" opacity="0.57"/>
<line x1="525.4" y1="503.6" x2="528.7" y2="504.5" stroke="#D79ABF" stroke-width="1.1" stroke-linecap="round" opacity="0.47"/>
<line x1="454.2" y1="427.8" x2="458.4" y2="427.7" stroke="#C98BC0" stroke-width="1.1" stroke-linecap="round" opacity="0.65"/>
<line x1="454.9" y1="513.8" x2="457.4" y2="512.6" stroke="#C98BC0" stroke-width="1.1" stroke-linecap="round" opacity="0.50"/>
<line x1="477.9" y1="457.8" x2="479.7" y2="455.9" stroke="#C98BC0" stroke-width="1.1" stroke-linecap="round" opacity="0.56"/>
<line x1="479.8" y1="470.4" x2="482.0" y2="470.5" stroke="#A98ACB" stroke-width="1.1" stroke-linecap="round" opacity="0.70"/>
<line x1="434.0" y1="466.7" x2="435.9" y2="465.2" stroke="#B98AC8" stroke-width="1.1" stroke-linecap="round" opacity="0.60"/>
<line x1="438.9" y1="435.3" x2="441.8" y2="435.3" stroke="#D79ABF" stroke-width="1.1" stroke-linecap="round" opacity="0.61"/>
<line x1="455.6" y1="495.3" x2="456.5" y2="493.1" stroke="#C98BC0" stroke-width="1.1" stroke-linecap="round" opacity="0.50"/>
<line x1="500.5" y1="518.0" x2="502.0" y2="516.1" stroke="#A98ACB" stroke-width="1.1" stroke-linecap="round" opacity="0.58"/>
<line x1="467.4" y1="434.3" x2="470.0" y2="433.6" stroke="#B98AC8" stroke-width="1.1" stroke-linecap="round" opacity="0.50"/>
<line x1="516.1" y1="496.0" x2="518.1" y2="495.0" stroke="#B98AC8" stroke-width="1.1" stroke-linecap="round" opacity="0.41"/>
<line x1="481.2" y1="447.8" x2="484.2" y2="447.0" stroke="#D79ABF" stroke-width="1.1" stroke-linecap="round" opacity="0.41"/>
<line x1="453.8" y1="500.1" x2="456.0" y2="500.3" stroke="#C98BC0" stroke-width="1.1" stroke-linecap="round" opacity="0.61"/>
<line x1="518.3" y1="506.7" x2="521.0" y2="505.6" stroke="#C98BC0" stroke-width="1.1" stroke-linecap="round" opacity="0.58"/>
<line x1="486.9" y1="500.1" x2="491.1" y2="499.8" stroke="#A98ACB" stroke-width="1.1" stroke-linecap="round" opacity="0.48"/>
<line x1="506.4" y1="457.9" x2="510.5" y2="458.0" stroke="#B98AC8" stroke-width="1.1" stroke-linecap="round" opacity="0.67"/>
<line x1="496.0" y1="475.2" x2="498.5" y2="472.7" stroke="#D79ABF" stroke-width="1.1" stroke-linecap="round" opacity="0.61"/>
<line x1="478.5" y1="493.4" x2="480.4" y2="490.6" stroke="#B98AC8" stroke-width="1.1" stroke-linecap="round" opacity="0.39"/>
<line x1="481.7" y1="515.6" x2="484.3" y2="512.7" stroke="#C98BC0" stroke-width="1.1" stroke-linecap="round" opacity="0.39"/>
<line x1="448.9" y1="462.5" x2="450.8" y2="461.4" stroke="#D79ABF" stroke-width="1.1" stroke-linecap="round" opacity="0.44"/>
<line x1="460.4" y1="476.7" x2="462.1" y2="473.2" stroke="#B98AC8" stroke-width="1.1" stroke-linecap="round" opacity="0.58"/>
<line x1="445.2" y1="442.8" x2="448.6" y2="443.8" stroke="#A98ACB" stroke-width="1.1" stroke-linecap="round" opacity="0.40"/>
<line x1="480.6" y1="421.0" x2="484.1" y2="421.8" stroke="#C98BC0" stroke-width="1.1" stroke-linecap="round" opacity="0.36"/>
<line x1="481.2" y1="454.8" x2="484.1" y2="455.0" stroke="#D79ABF" stroke-width="1.1" stroke-linecap="round" opacity="0.43"/>
<line x1="437.9" y1="455.1" x2="439.1" y2="453.4" stroke="#D79ABF" stroke-width="1.1" stroke-linecap="round" opacity="0.54"/>
<line x1="428.7" y1="479.2" x2="430.6" y2="476.7" stroke="#A98ACB" stroke-width="1.1" stroke-linecap="round" opacity="0.49"/>
<line x1="505.7" y1="474.6" x2="507.1" y2="472.0" stroke="#A98ACB" stroke-width="1.1" stroke-linecap="round" opacity="0.48"/>
<line x1="496.3" y1="512.1" x2="500.3" y2="512.9" stroke="#D79ABF" stroke-width="1.1" stroke-linecap="round" opacity="0.47"/>
<line x1="458.6" y1="451.3" x2="460.8" y2="449.4" stroke="#B98AC8" stroke-width="1.1" stroke-linecap="round" opacity="0.67"/>
<line x1="502.0" y1="523.5" x2="504.8" y2="522.6" stroke="#B98AC8" stroke-width="1.1" stroke-linecap="round" opacity="0.43"/>
<line x1="495.7" y1="424.9" x2="497.3" y2="423.1" stroke="#D79ABF" stroke-width="1.1" stroke-linecap="round" opacity="0.58"/>
<line x1="502.4" y1="519.7" x2="504.8" y2="518.9" stroke="#B98AC8" stroke-width="1.1" stroke-linecap="round" opacity="0.69"/>
<line x1="427.6" y1="528.4" x2="430.4" y2="526.4" stroke="#D79ABF" stroke-width="1.1" stroke-linecap="round" opacity="0.49"/>
<line x1="443.8" y1="465.0" x2="447.9" y2="465.7" stroke="#C98BC0" stroke-width="1.1" stroke-linecap="round" opacity="0.59"/>
<line x1="525.0" y1="526.1" x2="527.2" y2="525.3" stroke="#D79ABF" stroke-width="1.1" stroke-linecap="round" opacity="0.37"/>
<line x1="446.7" y1="507.9" x2="449.1" y2="506.4" stroke="#C98BC0" stroke-width="1.1" stroke-linecap="round" opacity="0.61"/>
<line x1="519.5" y1="454.8" x2="521.1" y2="453.1" stroke="#D79ABF" stroke-width="1.1" stroke-linecap="round" opacity="0.69"/>
<line x1="439.3" y1="465.4" x2="441.6" y2="466.1" stroke="#A98ACB" stroke-width="1.1" stroke-linecap="round" opacity="0.61"/>
<line x1="452.0" y1="533.2" x2="454.3" y2="533.1" stroke="#D79ABF" stroke-width="1.1" stroke-linecap="round" opacity="0.66"/>
<line x1="473.9" y1="417.5" x2="477.3" y2="417.4" stroke="#B98AC8" stroke-width="1.1" stroke-linecap="round" opacity="0.38"/>
<line x1="474.4" y1="511.4" x2="476.8" y2="511.1" stroke="#D79ABF" stroke-width="1.1" stroke-linecap="round" opacity="0.37"/>
<line x1="441.7" y1="486.3" x2="443.8" y2="485.9" stroke="#B98AC8" stroke-width="1.1" stroke-linecap="round" opacity="0.57"/>
<line x1="439.0" y1="518.9" x2="442.8" y2="517.2" stroke="#B98AC8" stroke-width="1.1" stroke-linecap="round" opacity="0.57"/>
<line x1="455.9" y1="476.7" x2="457.7" y2="474.2" stroke="#A98ACB" stroke-width="1.1" stroke-linecap="round" opacity="0.69"/>
<line x1="504.5" y1="481.2" x2="508.8" y2="481.7" stroke="#C98BC0" stroke-width="1.1" stroke-linecap="round" opacity="0.61"/>
<line x1="439.3" y1="494.9" x2="441.2" y2="492.5" stroke="#D79ABF" stroke-width="1.1" stroke-linecap="round" opacity="0.69"/>
<line x1="497.0" y1="460.6" x2="499.6" y2="459.6" stroke="#D79ABF" stroke-width="1.1" stroke-linecap="round" opacity="0.36"/>
<line x1="517.6" y1="458.3" x2="518.5" y2="456.2" stroke="#D79ABF" stroke-width="1.1" stroke-linecap="round" opacity="0.38"/>
<line x1="441.0" y1="463.8" x2="444.0" y2="462.9" stroke="#D79ABF" stroke-width="1.1" stroke-linecap="round" opacity="0.42"/>
<line x1="430.4" y1="458.7" x2="433.3" y2="459.1" stroke="#B98AC8" stroke-width="1.1" stroke-linecap="round" opacity="0.59"/>
<line x1="460.5" y1="427.8" x2="461.9" y2="425.4" stroke="#D79ABF" stroke-width="1.1" stroke-linecap="round" opacity="0.62"/>
<line x1="466.6" y1="507.5" x2="467.7" y2="504.8" stroke="#C98BC0" stroke-width="1.1" stroke-linecap="round" opacity="0.70"/>
<line x1="518.0" y1="430.0" x2="521.9" y2="429.7" stroke="#A98ACB" stroke-width="1.1" stroke-linecap="round" opacity="0.53"/>
<line x1="523.4" y1="432.7" x2="527.7" y2="432.4" stroke="#A98ACB" stroke-width="1.1" stroke-linecap="round" opacity="0.61"/>
<line x1="430.0" y1="527.0" x2="432.7" y2="527.6" stroke="#D79ABF" stroke-width="1.1" stroke-linecap="round" opacity="0.68"/>
<line x1="468.9" y1="455.0" x2="472.6" y2="453.8" stroke="#A98ACB" stroke-width="1.1" stroke-linecap="round" opacity="0.37"/>
<line x1="462.6" y1="473.8" x2="465.0" y2="474.3" stroke="#B98AC8" stroke-width="1.1" stroke-linecap="round" opacity="0.49"/>
<line x1="454.6" y1="448.3" x2="456.9" y2="446.5" stroke="#A98ACB" stroke-width="1.1" stroke-linecap="round" opacity="0.67"/>
<line x1="430.9" y1="442.5" x2="433.1" y2="442.3" stroke="#C98BC0" stroke-width="1.1" stroke-linecap="round" opacity="0.67"/>
<line x1="453.2" y1="435.9" x2="456.6" y2="435.8" stroke="#C98BC0" stroke-width="1.1" stroke-linecap="round" opacity="0.66"/>
<line x1="482.1" y1="521.5" x2="485.7" y2="521.2" stroke="#D79ABF" stroke-width="1.1" stroke-linecap="round" opacity="0.38"/>
<line x1="507.6" y1="444.7" x2="508.7" y2="442.2" stroke="#C98BC0" stroke-width="1.1" stroke-linecap="round" opacity="0.55"/>
<line x1="479.8" y1="500.9" x2="480.8" y2="499.0" stroke="#C98BC0" stroke-width="1.1" stroke-linecap="round" opacity="0.68"/>
<line x1="483.1" y1="484.4" x2="484.3" y2="482.1" stroke="#C98BC0" stroke-width="1.1" stroke-linecap="round" opacity="0.65"/>
</g>
<rect x="426.6" y="413.4" width="102.4" height="121.4" filter="url(#spPink)" opacity="0.35"/>
<rect x="426.6" y="413.4" width="102.4" height="121.4" filter="url(#spPurp)" opacity="0.25"/>
<rect x="423.6" y="410.4" width="108.4" height="127.4" fill="#fff" opacity="0.12"/>
</g></g>
<rect x="434.3" y="420.15" width="36.4" height="1.5" fill="#111"/>
<text x="433.5" y="434.9" font-size="11.8" fill="#232323" text-anchor="start">Bronchiole</text>
<text x="462.6" y="494.2" font-size="12" fill="#111" text-anchor="start">*</text>
<text x="434" y="506.9" font-size="11.8" fill="#232323" text-anchor="start">Alveolar type II</text>
<text x="434" y="520.4" font-size="11.8" fill="#232323" text-anchor="start">epith</text>
<text x="468.6" y="530.4" font-size="14.8" font-weight="700" fill="#000" text-anchor="start">Lung</text>
<g clip-path="url(#cp_stomach)"><g filter="url(#soft)">
<rect x="529" y="410.4" width="113.4" height="127.4" fill="#EEF1F9"/>
<path d="M533.2 416.0C533.1 420.8 532.5 435.9 532.7 444.8C532.8 453.8 533.2 464.9 534.1 469.7C535.0 474.5 536.7 473.7 537.9 473.7C539.2 473.7 540.9 474.5 541.8 469.7C542.6 464.9 543.0 453.8 543.2 444.8C543.4 435.9 542.8 420.8 542.7 416.0" fill="#F6F6FC" fill-opacity=".7" stroke="#86B8DC" stroke-width="1.3" opacity=".8" filter="url(#stainLine)"/>
<path d="M544.9 414.0C544.8 417.6 544.5 429.2 544.6 435.9C544.7 442.5 545.0 450.1 545.6 453.8C546.2 457.4 547.4 457.8 548.3 457.8C549.2 457.8 550.4 457.4 551.0 453.8C551.6 450.1 551.9 442.5 552.0 435.9C552.1 429.2 551.7 417.6 551.7 414.0" fill="#F6F6FC" fill-opacity=".7" stroke="#86B8DC" stroke-width="1.3" opacity=".8" filter="url(#stainLine)"/>
<path d="M562.8 427.9C562.7 432.3 562.0 446.1 562.2 454.3C562.4 462.4 562.9 472.3 564.0 476.7C565.1 481.1 567.2 480.6 568.8 480.6C570.4 480.6 572.5 481.1 573.6 476.7C574.7 472.3 575.2 462.4 575.4 454.3C575.6 446.1 574.9 432.3 574.8 427.9" fill="#F6F6FC" fill-opacity=".7" stroke="#86B8DC" stroke-width="1.3" opacity=".8" filter="url(#stainLine)"/>
<path d="M554.9 412.0C554.8 416.6 554.5 431.2 554.6 439.8C554.7 448.5 554.9 459.1 555.5 463.7C556.0 468.4 557.0 467.7 557.8 467.7C558.6 467.7 559.7 468.4 560.2 463.7C560.8 459.1 561.0 448.5 561.1 439.8C561.2 431.2 560.9 416.6 560.8 412.0" fill="#F6F6FC" fill-opacity=".7" stroke="#86B8DC" stroke-width="1.3" opacity=".8" filter="url(#stainLine)"/>
<path d="M580.5 418.0C580.4 423.5 579.8 440.8 580.0 451.3C580.2 461.7 580.6 475.1 581.6 480.6C582.5 486.2 584.3 484.6 585.7 484.6C587.1 484.6 588.9 486.2 589.8 480.6C590.8 475.1 591.2 461.7 591.4 451.3C591.6 440.8 591.0 423.5 590.9 418.0" fill="#F6F6FC" fill-opacity=".7" stroke="#86B8DC" stroke-width="1.3" opacity=".8" filter="url(#stainLine)"/>
<path d="M593.1 414.0C593.0 418.4 592.7 432.5 592.8 440.8C592.9 449.1 593.1 459.2 593.7 463.7C594.2 468.2 595.3 467.7 596.0 467.7C596.8 467.7 597.9 468.2 598.4 463.7C599.0 459.2 599.2 449.1 599.3 440.8C599.4 432.5 599.1 418.4 599.0 414.0" fill="#F6F6FC" fill-opacity=".7" stroke="#86B8DC" stroke-width="1.3" opacity=".8" filter="url(#stainLine)"/>
<path d="M602.0 423.9C601.9 429.3 601.3 446.1 601.5 456.3C601.7 466.4 602.1 479.2 603.1 484.6C604.0 490.0 605.8 488.6 607.2 488.6C608.6 488.6 610.4 490.0 611.3 484.6C612.3 479.2 612.7 466.4 612.9 456.3C613.1 446.1 612.5 429.3 612.4 423.9" fill="#F6F6FC" fill-opacity=".7" stroke="#86B8DC" stroke-width="1.3" opacity=".8" filter="url(#stainLine)"/>
<path d="M614.4 427.9C614.2 430.6 613.5 439.3 613.7 444.0C613.9 448.7 614.5 453.5 615.7 456.2C617.0 458.8 619.3 460.1 621.1 460.1C622.9 460.1 625.3 458.8 626.5 456.2C627.8 453.5 628.3 448.7 628.6 444.0C628.8 439.3 628.0 430.6 627.9 427.9" fill="#F6F6FC" fill-opacity=".7" stroke="#86B8DC" stroke-width="1.3" opacity=".8" filter="url(#stainLine)"/>
<path d="M627.7 418.0C627.6 422.7 627.2 437.5 627.4 446.3C627.5 455.1 627.7 466.0 628.4 470.7C629.0 475.4 630.2 474.7 631.1 474.7C632.0 474.7 633.2 475.4 633.8 470.7C634.4 466.0 634.7 455.1 634.8 446.3C634.9 437.5 634.5 422.7 634.5 418.0" fill="#F6F6FC" fill-opacity=".7" stroke="#86B8DC" stroke-width="1.3" opacity=".8" filter="url(#stainLine)"/>
<path d="M573.6 412.0C573.5 415.0 573.2 424.6 573.3 429.9C573.4 435.2 573.6 440.8 574.1 443.8C574.6 446.8 575.5 447.8 576.1 447.8C576.8 447.8 577.7 446.8 578.2 443.8C578.7 440.8 578.9 435.2 579.0 429.9C579.1 424.6 578.8 415.0 578.7 412.0" fill="#F6F6FC" fill-opacity=".7" stroke="#86B8DC" stroke-width="1.3" opacity=".8" filter="url(#stainLine)"/>
<path d="M610.2 412.0C610.1 413.6 609.7 419.3 609.8 421.9C610.0 424.6 610.2 426.2 610.9 427.9C611.5 429.6 612.7 431.9 613.6 431.9C614.5 431.9 615.6 429.6 616.3 427.9C616.9 426.2 617.2 424.6 617.3 421.9C617.4 419.3 617.0 413.6 616.9 412.0" fill="#F6F6FC" fill-opacity=".7" stroke="#86B8DC" stroke-width="1.3" opacity=".8" filter="url(#stainLine)"/>
<path d="M538.9 471.7C538.9 474.1 538.4 482.0 538.5 486.1C538.7 490.3 539.0 494.2 539.7 496.6C540.5 499.0 541.9 500.5 542.9 500.5C544.0 500.5 545.4 499.0 546.1 496.6C546.8 494.2 547.2 490.3 547.3 486.1C547.4 482.0 547.0 474.1 546.9 471.7" fill="#F6F6FC" fill-opacity=".7" stroke="#86B8DC" stroke-width="1.3" opacity=".8" filter="url(#stainLine)"/>
<path d="M620.9 467.7C620.8 469.9 620.2 477.0 620.4 480.6C620.6 484.3 621.0 487.4 622.0 489.6C623.1 491.7 625.0 493.6 626.5 493.6C628.0 493.6 629.9 491.7 631.0 489.6C632.0 487.4 632.4 484.3 632.6 480.6C632.8 477.0 632.2 469.9 632.1 467.7" fill="#F6F6FC" fill-opacity=".7" stroke="#86B8DC" stroke-width="1.3" opacity=".8" filter="url(#stainLine)"/>
<path d="M591.3 483.6C591.2 485.1 590.7 490.3 590.8 492.6C591.0 494.9 591.3 496.1 592.1 497.6C593.0 499.0 594.5 501.5 595.7 501.5C596.8 501.5 598.4 499.0 599.2 497.6C600.0 496.1 600.3 494.9 600.5 492.6C600.6 490.3 600.1 485.1 600.0 483.6" fill="#F6F6FC" fill-opacity=".7" stroke="#86B8DC" stroke-width="1.3" opacity=".8" filter="url(#stainLine)"/>
<path d="M553.5 479.6C553.4 481.5 552.9 487.6 553.0 490.6C553.2 493.6 553.5 495.7 554.3 497.6C555.1 499.4 556.7 501.5 557.8 501.5C559.0 501.5 560.5 499.4 561.3 497.6C562.1 495.7 562.5 493.6 562.7 490.6C562.8 487.6 562.3 481.5 562.2 479.6" fill="#F6F6FC" fill-opacity=".7" stroke="#86B8DC" stroke-width="1.3" opacity=".8" filter="url(#stainLine)"/>
<path d="M572.8 487.6C572.7 488.9 572.2 493.6 572.4 495.6C572.5 497.6 572.8 498.2 573.6 499.5C574.3 500.9 575.7 503.5 576.7 503.5C577.8 503.5 579.2 500.9 579.9 499.5C580.7 498.2 581.0 497.6 581.1 495.6C581.3 493.6 580.8 488.9 580.7 487.6" fill="#F6F6FC" fill-opacity=".7" stroke="#86B8DC" stroke-width="1.3" opacity=".8" filter="url(#stainLine)"/>
<path d="M609.6 491.6C609.5 492.6 609.1 496.2 609.2 497.6C609.3 498.9 609.6 498.5 610.4 499.5C611.1 500.5 612.5 503.5 613.6 503.5C614.6 503.5 616.0 500.5 616.7 499.5C617.5 498.5 617.8 498.9 617.9 497.6C618.1 496.2 617.6 492.6 617.5 491.6" fill="#F6F6FC" fill-opacity=".7" stroke="#86B8DC" stroke-width="1.3" opacity=".8" filter="url(#stainLine)"/>
<path d="M531.0 498.5C535.1 491.6 546.7 493.7 555.9 493.6C565.0 493.4 575.8 497.4 585.7 497.6C595.7 497.7 606.4 494.2 615.6 494.6C624.7 494.9 636.3 492.7 640.4 499.5C644.6 506.3 658.7 529.4 640.4 535.4C622.2 541.3 549.2 541.5 531.0 535.4C512.7 529.2 526.8 505.5 531.0 498.5Z" fill="#CFE6F3" opacity=".6" filter="url(#b2)"/>
<path d="M531.0 498.5C535.1 491.6 546.7 493.7 555.9 493.6C565.0 493.4 575.8 497.4 585.7 497.6C595.7 497.7 606.4 494.2 615.6 494.6C624.7 494.9 636.3 492.7 640.4 499.5C644.6 506.3 658.7 529.4 640.4 535.4C622.2 541.3 549.2 541.5 531.0 535.4C512.7 529.2 526.8 505.5 531.0 498.5Z" fill="#6DB6DE" opacity=".7" filter="url(#stainBlob)"/>
<path d="M531.0 511.5C536.8 506.8 553.4 507.5 565.8 507.5C578.2 507.5 593.2 511.3 605.6 511.5C618.0 511.6 634.6 504.5 640.4 508.5C646.2 512.5 658.7 530.9 640.4 535.4C622.2 539.8 549.2 539.3 531.0 535.4C512.7 531.4 525.2 516.1 531.0 511.5Z" fill="#3A9FD0" opacity=".8" filter="url(#stainBlob2)"/>
<path d="M531.0 483.6C535.1 480.0 546.7 479.5 555.9 479.6C565.0 479.8 575.8 484.3 585.7 484.6C595.7 484.9 606.4 481.5 615.6 481.6C624.7 481.8 636.3 482.3 640.4 485.6C644.6 488.9 658.7 498.9 640.4 501.5C622.2 504.2 549.2 504.5 531.0 501.5C512.7 498.5 526.8 487.3 531.0 483.6Z" fill="#7DBDE0" opacity=".6" filter="url(#stainBlob2)"/>
<rect x="532" y="413.4" width="107.4" height="121.4" filter="url(#spBlueFine)" opacity="0.4"/>
<rect x="532" y="413.4" width="107.4" height="121.4" filter="url(#spPurp)" opacity="0.25"/>
<rect x="529" y="410.4" width="113.4" height="127.4" fill="#fff" opacity="0.22"/>
</g></g>
<rect x="606" y="425.05" width="18.9" height="1.7" fill="#111"/>
<text x="560.8" y="504.1" font-size="11.8" fill="#232323" text-anchor="start">Gastric glands</text>
<text x="540.2" y="529.8" font-size="15" font-weight="700" fill="#000" text-anchor="start">Stomach</text>
<g clip-path="url(#cp_salivary)"><g filter="url(#soft)">
<rect x="638.4" y="410.4" width="104.1" height="127.4" fill="#F3F5FA"/>
<ellipse cx="653.9" cy="427.9" rx="6.0" ry="5.5" fill="#E4F3F8" fill-opacity=".7" stroke="#8FD0E0" stroke-width="3.8" opacity="0.70" filter="url(#b1)"/>
<ellipse cx="653.9" cy="427.9" rx="6.0" ry="5.5" fill="none" stroke="#2FA5C6" stroke-width="2.9" opacity="1" filter="url(#stainSal)"/>
<ellipse cx="684.7" cy="435.9" rx="7.0" ry="6.4" fill="#E4F3F8" fill-opacity=".7" stroke="#8FD0E0" stroke-width="2.3" opacity="0.39" filter="url(#b1)"/>
<ellipse cx="684.7" cy="435.9" rx="7.0" ry="6.4" fill="none" stroke="#2FA5C6" stroke-width="1.8" opacity="0.55" filter="url(#stainSal)"/>
<ellipse cx="669.8" cy="449.8" rx="8.0" ry="7.3" fill="#E4F3F8" fill-opacity=".7" stroke="#8FD0E0" stroke-width="3.8" opacity="0.70" filter="url(#b1)"/>
<ellipse cx="669.8" cy="449.8" rx="8.0" ry="7.3" fill="none" stroke="#2FA5C6" stroke-width="2.9" opacity="1" filter="url(#stainSal)"/>
<ellipse cx="653.9" cy="463.7" rx="5.0" ry="4.6" fill="#E4F3F8" fill-opacity=".7" stroke="#8FD0E0" stroke-width="2.7" opacity="0.49" filter="url(#b1)"/>
<ellipse cx="653.9" cy="463.7" rx="5.0" ry="4.6" fill="none" stroke="#2FA5C6" stroke-width="2.1" opacity="0.7" filter="url(#stainSal)"/>
<ellipse cx="676.8" cy="466.7" rx="6.0" ry="5.5" fill="#E4F3F8" fill-opacity=".7" stroke="#8FD0E0" stroke-width="3.1" opacity="0.59" filter="url(#b1)"/>
<ellipse cx="676.8" cy="466.7" rx="6.0" ry="5.5" fill="none" stroke="#2FA5C6" stroke-width="2.4" opacity="0.85" filter="url(#stainSal)"/>
<ellipse cx="688.7" cy="466.7" rx="4.4" ry="4.0" fill="#E4F3F8" fill-opacity=".7" stroke="#8FD0E0" stroke-width="2.7" opacity="0.49" filter="url(#b1)"/>
<ellipse cx="688.7" cy="466.7" rx="4.4" ry="4.0" fill="none" stroke="#2FA5C6" stroke-width="2.1" opacity="0.7" filter="url(#stainSal)"/>
<ellipse cx="705.0" cy="464.7" rx="6.0" ry="5.5" fill="#E4F3F8" fill-opacity=".7" stroke="#8FD0E0" stroke-width="5.4" opacity="0.70" filter="url(#b1)"/>
<ellipse cx="705.0" cy="464.7" rx="6.0" ry="5.5" fill="none" stroke="#2FA5C6" stroke-width="4.2" opacity="1" filter="url(#stainSal)"/>
<ellipse cx="721.6" cy="465.7" rx="8.0" ry="7.3" fill="#E4F3F8" fill-opacity=".7" stroke="#8FD0E0" stroke-width="3.6" opacity="0.70" filter="url(#b1)"/>
<ellipse cx="721.6" cy="465.7" rx="8.0" ry="7.3" fill="none" stroke="#2FA5C6" stroke-width="2.8" opacity="1" filter="url(#stainSal)"/>
<ellipse cx="689.7" cy="481.6" rx="6.0" ry="5.5" fill="#E4F3F8" fill-opacity=".7" stroke="#8FD0E0" stroke-width="3.6" opacity="0.63" filter="url(#b1)"/>
<ellipse cx="689.7" cy="481.6" rx="6.0" ry="5.5" fill="none" stroke="#2FA5C6" stroke-width="2.8" opacity="0.9" filter="url(#stainSal)"/>
<ellipse cx="713.6" cy="482.6" rx="8.0" ry="7.3" fill="#E4F3F8" fill-opacity=".7" stroke="#8FD0E0" stroke-width="2.7" opacity="0.42" filter="url(#b1)"/>
<ellipse cx="713.6" cy="482.6" rx="8.0" ry="7.3" fill="none" stroke="#2FA5C6" stroke-width="2.1" opacity="0.6" filter="url(#stainSal)"/>
<ellipse cx="733.5" cy="473.7" rx="6.0" ry="5.5" fill="#E4F3F8" fill-opacity=".7" stroke="#8FD0E0" stroke-width="2.7" opacity="0.45" filter="url(#b1)"/>
<ellipse cx="733.5" cy="473.7" rx="6.0" ry="5.5" fill="none" stroke="#2FA5C6" stroke-width="2.1" opacity="0.65" filter="url(#stainSal)"/>
<ellipse cx="729.5" cy="493.6" rx="7.0" ry="6.4" fill="#E4F3F8" fill-opacity=".7" stroke="#8FD0E0" stroke-width="2.9" opacity="0.49" filter="url(#b1)"/>
<ellipse cx="729.5" cy="493.6" rx="7.0" ry="6.4" fill="none" stroke="#2FA5C6" stroke-width="2.2" opacity="0.7" filter="url(#stainSal)"/>
<ellipse cx="666.8" cy="481.6" rx="2.8" ry="2.6" fill="#E4F3F8" fill-opacity=".7" stroke="#8FD0E0" stroke-width="3.2" opacity="0.63" filter="url(#b1)"/>
<ellipse cx="666.8" cy="481.6" rx="2.8" ry="2.6" fill="none" stroke="#2FA5C6" stroke-width="2.5" opacity="0.9" filter="url(#stainSal)"/>
<ellipse cx="645.9" cy="437.9" rx="4.4" ry="4.0" fill="#E4F3F8" fill-opacity=".7" stroke="#8FD0E0" stroke-width="2.7" opacity="0.49" filter="url(#b1)"/>
<ellipse cx="645.9" cy="437.9" rx="4.4" ry="4.0" fill="none" stroke="#2FA5C6" stroke-width="2.1" opacity="0.7" filter="url(#stainSal)"/>
<ellipse cx="703.7" cy="501.5" rx="5.2" ry="4.8" fill="#E4F3F8" fill-opacity=".7" stroke="#8FD0E0" stroke-width="2.3" opacity="0.35" filter="url(#b1)"/>
<ellipse cx="703.7" cy="501.5" rx="5.2" ry="4.8" fill="none" stroke="#2FA5C6" stroke-width="1.8" opacity="0.5" filter="url(#stainSal)"/>
<ellipse cx="643.0" cy="467.7" rx="3.6" ry="3.3" fill="#E4F3F8" fill-opacity=".7" stroke="#8FD0E0" stroke-width="2.2" opacity="0.35" filter="url(#b1)"/>
<ellipse cx="643.0" cy="467.7" rx="3.6" ry="3.3" fill="none" stroke="#2FA5C6" stroke-width="1.7" opacity="0.5" filter="url(#stainSal)"/>
<ellipse cx="662" cy="517" rx="20" ry="6.5" transform="rotate(22 662 517)" fill="#F4F8FB" stroke="#2F9FC4" stroke-width="4.6" filter="url(#stainLine)"/>
<ellipse cx="705" cy="464.7" rx="5" ry="5.5" fill="#2F9FC4" opacity=".55" filter="url(#stain)"/>
<rect x="641.4" y="413.4" width="98.1" height="121.4" filter="url(#spPurp)" opacity="0.35"/>
<rect x="641.4" y="413.4" width="98.1" height="121.4" filter="url(#spPink2)" opacity="0.3"/>
<rect x="638.4" y="410.4" width="104.1" height="127.4" fill="#fff" opacity="0.15"/>
</g></g>
<rect x="699.7" y="425.60" width="29.4" height="1.8" fill="#111"/>
<text x="676.6" y="512.5" font-size="14.9" font-weight="700" fill="#000" text-anchor="start">Salivary</text>
<text x="676.6" y="529.4" font-size="14.9" font-weight="700" fill="#000" text-anchor="start">gland</text>
<g clip-path="url(#cp_pancreas)"><g filter="url(#soft)">
<rect x="739" y="412" width="150.2" height="126.2" fill="#EEE6EF"/>
<rect x="742" y="415" width="144.2" height="120.2" filter="url(#spWhite)" opacity="0.5"/>
<ellipse cx="756.7" cy="432.8" rx="12.5" ry="7.6" transform="rotate(-20 756.7 432.8)" fill="#CDE8F2" fill-opacity="0.4" stroke="#A8D8E8" stroke-width="3.4000000000000004" opacity="0.33" filter="url(#b1)"/>
<ellipse cx="756.7" cy="432.8" rx="12.5" ry="7.6" transform="rotate(-20 756.7 432.8)" fill="none" stroke="#6FBBD8" stroke-width="2.2" opacity="0.55" filter="url(#stainPan)"/>
<ellipse cx="751.1" cy="452.3" rx="6.9" ry="13.9" transform="rotate(-10 751.1 452.3)" fill="#CDE8F2" fill-opacity="0.4" stroke="#A8D8E8" stroke-width="4.6" opacity="0.60" filter="url(#b1)"/>
<ellipse cx="751.1" cy="452.3" rx="6.9" ry="13.9" transform="rotate(-10 751.1 452.3)" fill="none" stroke="#2F9FC8" stroke-width="3.4" opacity="1" filter="url(#stainPan)"/>
<ellipse cx="766.4" cy="445.3" rx="8.1" ry="12.5" transform="rotate(20 766.4 445.3)" fill="#CDE8F2" fill-opacity="0.4" stroke="#A8D8E8" stroke-width="4.4" opacity="0.57" filter="url(#b1)"/>
<ellipse cx="766.4" cy="445.3" rx="8.1" ry="12.5" transform="rotate(20 766.4 445.3)" fill="none" stroke="#36A3CA" stroke-width="3.2" opacity="0.95" filter="url(#stainPan)"/>
<ellipse cx="783.8" cy="431.4" rx="11.8" ry="11.8" transform="rotate(0 783.8 431.4)" fill="#CDE8F2" fill-opacity="0.4" stroke="#A8D8E8" stroke-width="4.4" opacity="0.57" filter="url(#b1)"/>
<ellipse cx="783.8" cy="431.4" rx="11.8" ry="11.8" transform="rotate(0 783.8 431.4)" fill="none" stroke="#36A3CA" stroke-width="3.2" opacity="0.95" filter="url(#stainPan)"/>
<ellipse cx="778.2" cy="447.4" rx="10.0" ry="7.6" transform="rotate(0 778.2 447.4)" fill="#CDE8F2" fill-opacity="0.4" stroke="#A8D8E8" stroke-width="4.0" opacity="0.54" filter="url(#b1)"/>
<ellipse cx="778.2" cy="447.4" rx="10.0" ry="7.6" transform="rotate(0 778.2 447.4)" fill="none" stroke="#3FA8CE" stroke-width="2.8" opacity="0.9" filter="url(#stainPan)"/>
<ellipse cx="801.1" cy="428.7" rx="4.9" ry="5.6" transform="rotate(0 801.1 428.7)" fill="#CDE8F2" fill-opacity="0.4" stroke="#A8D8E8" stroke-width="3.0" opacity="0.30" filter="url(#b1)"/>
<ellipse cx="801.1" cy="428.7" rx="4.9" ry="5.6" transform="rotate(0 801.1 428.7)" fill="none" stroke="#8CC8E0" stroke-width="1.8" opacity="0.5" filter="url(#stainPan)"/>
<ellipse cx="821.2" cy="450.2" rx="6.9" ry="7.8" transform="rotate(-15 821.2 450.2)" fill="#8FCDE3" fill-opacity="0.6" stroke="#A8D8E8" stroke-width="5.8" opacity="0.60" filter="url(#b1)"/>
<ellipse cx="821.2" cy="450.2" rx="6.9" ry="7.8" transform="rotate(-15 821.2 450.2)" fill="none" stroke="#2496C4" stroke-width="4.6" opacity="1" filter="url(#stainLine)"/>
<ellipse cx="830.6" cy="460.9" rx="6.4" ry="7.5" transform="rotate(-15 830.6 460.9)" fill="#8FCDE3" fill-opacity="0.6" stroke="#A8D8E8" stroke-width="5.6000000000000005" opacity="0.60" filter="url(#b1)"/>
<ellipse cx="830.6" cy="460.9" rx="6.4" ry="7.5" transform="rotate(-15 830.6 460.9)" fill="none" stroke="#2496C4" stroke-width="4.4" opacity="1" filter="url(#stainLine)"/>
<ellipse cx="858.1" cy="437.0" rx="8.3" ry="6.9" transform="rotate(0 858.1 437.0)" fill="#D9EDF5" fill-opacity="0.35" stroke="#A8D8E8" stroke-width="3.5999999999999996" opacity="0.36" filter="url(#b1)"/>
<ellipse cx="858.1" cy="437.0" rx="8.3" ry="6.9" transform="rotate(0 858.1 437.0)" fill="none" stroke="#74BDDA" stroke-width="2.4" opacity="0.6" filter="url(#stainPan)"/>
<ellipse cx="869.2" cy="447.4" rx="9.7" ry="8.3" transform="rotate(0 869.2 447.4)" fill="#D9EDF5" fill-opacity="0.35" stroke="#A8D8E8" stroke-width="3.5999999999999996" opacity="0.36" filter="url(#b1)"/>
<ellipse cx="869.2" cy="447.4" rx="9.7" ry="8.3" transform="rotate(0 869.2 447.4)" fill="none" stroke="#74BDDA" stroke-width="2.4" opacity="0.6" filter="url(#stainPan)"/>
<ellipse cx="859.4" cy="460.6" rx="11.1" ry="8.1" transform="rotate(0 859.4 460.6)" fill="#D9EDF5" fill-opacity="0.35" stroke="#A8D8E8" stroke-width="3.5999999999999996" opacity="0.36" filter="url(#b1)"/>
<ellipse cx="859.4" cy="460.6" rx="11.1" ry="8.1" transform="rotate(0 859.4 460.6)" fill="none" stroke="#74BDDA" stroke-width="2.4" opacity="0.6" filter="url(#stainPan)"/>
<ellipse cx="877.5" cy="460.6" rx="6.9" ry="11.1" transform="rotate(0 877.5 460.6)" fill="#D9EDF5" fill-opacity="0.35" stroke="#A8D8E8" stroke-width="3.5999999999999996" opacity="0.36" filter="url(#b1)"/>
<ellipse cx="877.5" cy="460.6" rx="6.9" ry="11.1" transform="rotate(0 877.5 460.6)" fill="none" stroke="#74BDDA" stroke-width="2.4" opacity="0.6" filter="url(#stainPan)"/>
<ellipse cx="851.1" cy="473.8" rx="8.3" ry="5.6" transform="rotate(0 851.1 473.8)" fill="#D9EDF5" fill-opacity="0.35" stroke="#A8D8E8" stroke-width="3.5999999999999996" opacity="0.36" filter="url(#b1)"/>
<ellipse cx="851.1" cy="473.8" rx="8.3" ry="5.6" transform="rotate(0 851.1 473.8)" fill="none" stroke="#74BDDA" stroke-width="2.4" opacity="0.6" filter="url(#stainPan)"/>
<ellipse cx="871.9" cy="475.2" rx="8.3" ry="5.6" transform="rotate(0 871.9 475.2)" fill="#D9EDF5" fill-opacity="0.35" stroke="#A8D8E8" stroke-width="3.5999999999999996" opacity="0.36" filter="url(#b1)"/>
<ellipse cx="871.9" cy="475.2" rx="8.3" ry="5.6" transform="rotate(0 871.9 475.2)" fill="none" stroke="#74BDDA" stroke-width="2.4" opacity="0.6" filter="url(#stainPan)"/>
<ellipse cx="845.6" cy="459.2" rx="5.6" ry="6.9" transform="rotate(0 845.6 459.2)" fill="#D9EDF5" fill-opacity="0.35" stroke="#A8D8E8" stroke-width="3.5999999999999996" opacity="0.36" filter="url(#b1)"/>
<ellipse cx="845.6" cy="459.2" rx="5.6" ry="6.9" transform="rotate(0 845.6 459.2)" fill="none" stroke="#74BDDA" stroke-width="2.4" opacity="0.6" filter="url(#stainPan)"/>
<ellipse cx="843.1" cy="446.7" rx="5.6" ry="3.9" transform="rotate(20 843.1 446.7)" fill="#CDE8F2" fill-opacity="0.4" stroke="#A8D8E8" stroke-width="4.6" opacity="0.54" filter="url(#b1)"/>
<ellipse cx="843.1" cy="446.7" rx="5.6" ry="3.9" transform="rotate(20 843.1 446.7)" fill="none" stroke="#36A3CA" stroke-width="3.4" opacity="0.9" filter="url(#stainPan)"/>
<path d="M816.6 511.5C816.9 508.5 821.1 507.2 823.6 507.5C826.0 507.8 830.5 510.8 831.5 513.5C832.5 516.1 831.2 521.4 829.5 523.4C827.9 525.4 823.7 527.4 821.6 525.4C819.4 523.4 816.3 514.5 816.6 511.5Z" fill="#6FB8D8" opacity=".7" filter="url(#stainPan)"/>
<path d="M819.6 495.6C821.2 494.9 826.2 493.6 829.5 491.6C832.8 489.6 837.8 484.9 839.5 483.6" fill="none" stroke="#7FC0DD" stroke-width="2" opacity=".5" filter="url(#stainPan)"/>
<ellipse cx="847.4" cy="501.5" rx="10.0" ry="8.0" fill="#F3EDF4" fill-opacity=".5" stroke="#D6C9E2" stroke-width="1" opacity=".6" filter="url(#b1)"/>
<ellipse cx="863.4" cy="511.5" rx="10.9" ry="9.0" fill="#F3EDF4" fill-opacity=".5" stroke="#D6C9E2" stroke-width="1" opacity=".6" filter="url(#b1)"/>
<ellipse cx="847.4" cy="521.4" rx="9.0" ry="7.0" fill="#F3EDF4" fill-opacity=".5" stroke="#D6C9E2" stroke-width="1" opacity=".6" filter="url(#b1)"/>
<ellipse cx="875.3" cy="495.6" rx="8.0" ry="8.0" fill="#F3EDF4" fill-opacity=".5" stroke="#D6C9E2" stroke-width="1" opacity=".6" filter="url(#b1)"/>
<rect x="742" y="415" width="144.2" height="120.2" filter="url(#spPink)" opacity="0.4"/>
<rect x="742" y="415" width="144.2" height="120.2" filter="url(#spPurp)" opacity="0.4"/>
<rect x="739" y="412" width="150.2" height="126.2" fill="#fff" opacity="0.14"/>
</g></g>
<rect x="843.5" y="425.00" width="26.8" height="1.8" fill="#111"/>
<ellipse cx="789.3" cy="482.6" rx="30.8" ry="24.5" fill="none" stroke="#34529A" stroke-width="1.15" stroke-dasharray="3.4 2.3"/>
<text x="779.2" y="501.1" font-size="11.8" fill="#232323" text-anchor="start">Islet</text>
<text x="747.7" y="529.8" font-size="15.1" font-weight="700" fill="#000" text-anchor="start">Pancreas</text>
<g clip-path="url(#cp_conj)"><g filter="url(#soft)">
<rect x="886.6" y="412" width="154.6" height="125.8" fill="#F4ECE4"/>
<path d="M888.0 414.0C889.4 393.7 894.5 410.7 896.3 414.0C898.2 417.3 897.7 426.6 898.9 433.9C900.2 441.2 901.7 449.5 903.9 457.8C906.1 466.0 908.5 475.3 911.9 483.6C915.2 491.9 919.8 500.9 923.8 507.5C927.8 514.1 932.1 518.8 935.7 523.4C939.4 528.1 953.7 533.4 945.7 535.4C937.7 537.4 897.6 555.6 888.0 535.4C878.4 515.1 886.6 434.2 888.0 414.0Z" fill="#FBF8F3" filter="url(#b05)"/>
<path d="M896.3 414.0C896.8 417.3 897.7 426.6 898.9 433.9C900.2 441.2 901.7 449.6 903.9 457.8C906.1 465.9 908.5 474.7 911.9 482.6C915.2 490.6 919.8 499.0 923.8 505.5C927.8 512.0 931.8 516.5 935.7 521.4C939.7 526.4 945.7 533.0 947.7 535.4" fill="none" stroke="#E6D8CB" stroke-width="1.2" opacity="0.9" filter="url(#b05)"/>
<path d="M900.7 414.0C901.1 417.3 902.0 426.6 903.3 433.9C904.6 441.2 906.1 449.6 908.3 457.8C910.4 465.9 912.9 474.7 916.2 482.6C919.6 490.6 924.2 499.0 928.2 505.5C932.2 512.0 936.1 516.5 940.1 521.4C944.1 526.4 950.1 533.0 952.1 535.4" fill="none" stroke="#EADCCF" stroke-width="0.9" opacity="0.7" filter="url(#b05)"/>
<path d="M905.3 414.0C905.7 417.3 906.6 426.6 907.9 433.9C909.1 441.2 910.7 449.6 912.9 457.8C915.0 465.9 917.5 474.7 920.8 482.6C924.1 490.6 928.8 499.0 932.8 505.5C936.7 512.0 940.7 516.5 944.7 521.4C948.7 526.4 954.6 533.0 956.6 535.4" fill="none" stroke="#FBF6F0" stroke-width="3" opacity="0.8" filter="url(#b05)"/>
<path d="M911.3 414.0C911.7 417.3 912.6 426.6 913.9 433.9C915.1 441.2 916.7 449.6 918.8 457.8C921.0 465.9 923.5 474.7 926.8 482.6C930.1 490.6 934.7 499.0 938.7 505.5C942.7 512.0 946.7 516.5 950.7 521.4C954.6 526.4 960.6 533.0 962.6 535.4" fill="none" stroke="#E9DACD" stroke-width="0.9" opacity="0.6" filter="url(#b05)"/>
<path d="M918.2 414.0C918.7 417.3 919.6 426.6 920.8 433.9C922.1 441.2 923.6 449.6 925.8 457.8C927.9 465.9 930.4 474.7 933.8 482.6C937.1 490.6 941.7 499.0 945.7 505.5C949.7 512.0 953.7 516.5 957.6 521.4C961.6 526.4 967.6 533.0 969.6 535.4" fill="none" stroke="#FBF6F0" stroke-width="3.5" opacity="0.7" filter="url(#b05)"/>
<path d="M933.8 415.0C940.1 413.1 962.3 412.1 969.6 415.0C976.9 417.8 976.5 425.4 977.5 431.9C978.5 438.3 977.2 449.5 975.5 453.8C973.9 458.1 970.9 459.1 967.6 457.8C964.3 456.4 959.6 447.5 955.6 445.8C951.7 444.2 947.0 448.5 943.7 447.8C940.4 447.1 937.7 445.5 935.7 441.8C933.8 438.2 932.1 430.4 931.8 425.9C931.4 421.4 927.4 416.8 933.8 415.0Z" fill="#FBF7F1" opacity=".9" filter="url(#b1)"/>
<path d="M949.7 491.6C952.0 489.3 961.3 485.9 967.6 487.6C973.9 489.3 981.5 496.2 987.5 501.5C993.5 506.8 1002.1 515.1 1003.4 519.4C1004.7 523.8 1000.4 528.7 995.4 527.4C990.5 526.1 980.5 515.8 973.6 511.5C966.6 507.2 957.6 504.8 953.7 501.5C949.7 498.2 947.3 493.9 949.7 491.6Z" fill="#FBF7F1" opacity=".75" filter="url(#b1)"/>
<path d="M913.5 491.2C914.3 492.9 916.8 498.0 918.8 501.5C920.9 505.1 923.3 509.0 925.8 512.5C928.3 516.0 930.8 519.3 933.8 522.4C936.7 525.5 942.0 529.6 943.7 531.0" fill="none" stroke="#3FB0B8" stroke-width="1.5" filter="url(#b05)"/>
<path d="M990.3 414.7C989.7 416.1 988.0 419.9 986.9 422.7C985.8 425.4 984.7 428.5 983.7 431.1C982.8 433.7 981.5 437.1 981.1 438.3" fill="none" stroke="#54281A" stroke-width="1.7" stroke-linecap="round" filter="url(#b05)"/>
<path d="M981.1 438.3C982.0 438.1 984.4 438.0 986.4 437.4C988.3 436.9 990.6 435.2 992.7 434.9C994.8 434.7 996.8 436.1 999.0 436.0C1001.3 435.8 1004.7 435.4 1006.4 434.0C1008.2 432.5 1008.7 429.6 1009.6 427.4C1010.5 425.3 1011.6 422.1 1012.0 421.1" fill="none" stroke="#5A2A18" stroke-width="1.6" stroke-linecap="round" filter="url(#b05)"/>
<path d="M1003.5 415.3C1003.0 416.3 1001.3 419.8 1000.7 421.6C1000.2 423.4 999.8 424.5 1000.2 425.8C1000.6 427.2 1002.0 429.3 1003.3 429.6C1004.5 429.9 1006.4 429.1 1007.8 427.7C1009.2 426.4 1011.2 422.5 1011.9 421.4" fill="none" stroke="#54281A" stroke-width="1.9" stroke-linecap="round" filter="url(#b05)"/>
<path d="M1025.6 415.5C1025.1 416.1 1023.4 418.1 1022.3 419.0C1021.2 419.8 1019.9 419.4 1019.1 420.6C1018.3 421.7 1017.6 424.1 1017.5 425.8C1017.4 427.6 1017.6 429.6 1018.6 431.1C1019.5 432.6 1021.6 433.8 1023.3 434.8C1025.0 435.8 1027.6 436.0 1028.6 436.9C1029.6 437.8 1029.8 439.1 1029.1 440.1C1028.4 441.0 1025.5 441.4 1024.4 442.7C1023.2 444.0 1023.0 446.4 1022.3 448.0C1021.5 449.6 1019.4 451.5 1019.9 452.2C1020.5 452.9 1024.0 451.7 1025.4 452.2C1026.9 452.7 1027.9 454.0 1028.6 455.4C1029.3 456.8 1028.9 459.1 1029.6 460.7C1030.4 462.2 1032.4 463.5 1032.8 464.9C1033.3 466.3 1031.8 467.7 1032.3 469.1C1032.8 470.5 1035.0 471.8 1036.0 473.3C1036.9 474.8 1037.6 477.3 1037.9 478.1" fill="none" stroke="#8A4C34" stroke-width="1.2" stroke-linecap="round" filter="url(#b05)"/>
<circle cx="1019.9" cy="452.2" r="1" fill="#6B3220" filter="url(#b05)"/>
<path d="M923.8 419.9C924.8 422.3 927.4 430.6 929.8 433.9C932.1 437.2 936.4 438.8 937.7 439.8" fill="none" stroke="#C9A895" stroke-width="0.9" opacity=".6" filter="url(#b05)"/>
<path d="M933.8 467.7C935.4 469.4 939.4 473.0 943.7 477.7C948.0 482.3 956.3 491.6 959.6 495.6C962.9 499.5 962.9 500.5 963.6 501.5" fill="none" stroke="#C9A895" stroke-width="0.9" opacity=".6" filter="url(#b05)"/>
<path d="M943.7 463.7 L949.7 473.7" fill="none" stroke="#C9A895" stroke-width="0.9" opacity=".6" filter="url(#b05)"/>
<path d="M1023.3 519.4C1024.6 518.8 1028.9 515.5 1031.3 515.5C1033.6 515.5 1036.2 518.8 1037.2 519.4" fill="none" stroke="#C9A895" stroke-width="0.9" opacity=".6" filter="url(#b05)"/>
<path d="M995.4 535.4C998.4 535.0 1006.4 534.0 1013.4 533.4C1020.3 532.7 1033.3 531.7 1037.2 531.4" fill="none" stroke="#C9A895" stroke-width="0.9" opacity=".6" filter="url(#b05)"/>
<rect x="889.6" y="415" width="148.6" height="119.8" filter="url(#spTan)" opacity="0.22"/>
<rect x="886.6" y="412" width="154.6" height="125.8" fill="#fff" opacity="0.08"/>
</g></g>
<rect x="1004.4" y="503.50" width="27.3" height="2" fill="#111"/>
<text x="933.8" y="428.9" font-size="11.8" fill="#232323" text-anchor="start">Lens</text>
<text x="893" y="457.8" font-size="11.8" fill="#232323" text-anchor="start">Cornea</text>
<text x="1000.4" y="449.2" font-size="11.8" fill="#232323" text-anchor="start">Iris</text>
<text x="946.5" y="529.8" font-size="15.1" font-weight="700" fill="#000" text-anchor="start">Conjunctiva</text>
<line x1="899.9" y1="506.5" x2="913.9" y2="501.5" stroke="#222" stroke-width="0.7"/>
<polygon points="914.5,501.3 911.7,503.8 910.7,501.2" fill="#222"/>
<line x1="906.9" y1="518.4" x2="920.8" y2="513.5" stroke="#222" stroke-width="0.7"/>
<polygon points="921.4,513.3 918.5,515.8 917.6,513.1" fill="#222"/>
<line x1="917.8" y1="529.8" x2="931.8" y2="525" stroke="#222" stroke-width="0.7"/>
<polygon points="932.4,524.8 929.5,527.3 928.6,524.6" fill="#222"/>
<g clip-path="url(#cp_tonsil1)"><g filter="url(#soft)">
<rect x="335" y="535.8" width="87.6" height="111.5" fill="#EEE8F3"/>
<path d="M335.7 537.7C336.5 519.7 339.9 535.2 340.8 537.7C341.7 540.2 340.6 548.1 341.1 552.9C341.6 557.7 342.7 562.2 343.8 566.4C344.9 570.6 347.5 574.6 347.9 578.2C348.2 581.9 346.2 584.7 346.2 588.4C346.1 592.0 346.8 596.2 347.5 600.2C348.2 604.1 350.6 608.1 350.6 612.0C350.6 616.0 348.6 619.9 347.5 623.8C346.4 627.8 344.8 632.0 344.1 635.7C343.5 639.3 345.2 644.1 343.8 645.8C342.4 647.5 337.0 663.8 335.7 645.8C334.3 627.8 334.8 555.7 335.7 537.7Z" fill="#FFFFFF" filter="url(#b1)"/>
<path d="M348.4 550.4C349.5 547.4 356.0 547.0 359.3 547.0C362.7 547.0 366.5 548.5 368.6 550.4C370.7 552.2 372.1 555.0 372.0 558.0C371.9 560.9 369.9 565.7 367.8 568.1C365.7 570.5 361.9 572.9 359.3 572.3C356.8 571.8 354.4 568.4 352.6 564.7C350.8 561.1 347.2 553.3 348.4 550.4Z" fill="#FBF9FD" opacity=".95" filter="url(#b1)"/>
<path d="M359.3 591.7C360.7 590.3 367.8 591.3 372.9 591.7C377.9 592.2 385.0 592.3 389.7 594.3C394.5 596.2 400.2 600.0 401.6 603.6C403.0 607.1 401.0 612.0 398.2 615.4C395.4 618.8 388.6 623.8 384.7 623.8C380.7 623.8 376.4 618.8 374.5 615.4C372.7 612.0 375.4 606.1 373.7 603.6C372.0 601.0 366.8 602.2 364.4 600.2C362.0 598.2 357.9 593.2 359.3 591.7Z" fill="#F8F5FB" opacity=".8" filter="url(#b2)"/>
<path d="M341.8 539.4C342.0 541.6 342.3 548.4 343.1 552.9C343.9 557.4 345.1 562.2 346.5 566.4C347.9 570.6 351.0 574.6 351.6 578.2C352.1 581.9 349.9 584.7 349.9 588.4C349.9 592.0 350.7 596.2 351.6 600.2C352.4 604.1 354.9 608.1 354.9 612.0C354.9 616.0 352.6 619.9 351.6 623.8C350.5 627.8 349.1 632.1 348.5 635.7C348.0 639.2 348.2 643.4 348.2 645.0" fill="none" stroke="#A6D9E6" stroke-width="8" opacity=".75" filter="url(#b1)"/>
<path d="M341.8 539.4C342.0 541.6 342.3 548.4 343.1 552.9C343.9 557.4 345.1 562.2 346.5 566.4C347.9 570.6 351.0 574.6 351.6 578.2C352.1 581.9 349.9 584.7 349.9 588.4C349.9 592.0 350.7 596.2 351.6 600.2C352.4 604.1 354.9 608.1 354.9 612.0C354.9 616.0 352.6 619.9 351.6 623.8C350.5 627.8 349.1 632.1 348.5 635.7C348.0 639.2 348.2 643.4 348.2 645.0" fill="none" stroke="#46B0CC" stroke-width="6.5" filter="url(#stainBlob3)"/>
<path d="M340.8 540.1C343.0 539.9 349.8 539.3 354.3 539.4C358.8 539.4 363.8 539.8 367.8 540.4C371.7 541.0 376.2 542.4 377.9 542.8" fill="none" stroke="#7CC4DA" stroke-width="3.5" opacity=".7" filter="url(#stainBlob3)"/>
<path d="M374.5 556.3C377.1 557.1 384.7 559.6 389.7 561.3C394.8 563.0 399.9 565.0 404.9 566.4C410.0 567.8 417.6 569.2 420.1 569.8" fill="none" stroke="#8CCBE0" stroke-width="4" opacity=".7" filter="url(#stainBlob3)"/>
<path d="M347.5 620.5C348.1 622.9 350.5 630.7 350.9 634.8C351.3 638.9 350.2 643.3 350.0 645.0" fill="none" stroke="#2FA0C4" stroke-width="6" opacity=".8" filter="url(#stainBlob4)"/>
<path d="M389.7 588.4C388.6 588.8 385.5 590.9 383.0 590.9C380.5 590.9 377.4 589.9 374.5 588.4C371.7 586.8 368.6 583.7 366.1 581.6C363.6 579.5 361.6 577.7 359.3 575.7C357.1 573.7 354.7 572.5 352.6 569.8C350.5 567.1 348.1 563.0 346.7 559.6C345.3 556.3 343.7 552.0 344.1 549.5C344.6 547.0 346.7 545.4 349.2 544.4C351.7 543.5 356.2 543.3 359.3 543.6C362.4 543.9 365.4 544.7 367.8 546.1C370.2 547.5 372.6 550.4 373.7 552.0C374.8 553.7 374.4 555.6 374.5 556.3" fill="none" stroke="#C3B2DE" stroke-width="7" opacity=".55" filter="url(#b1)"/>
<path d="M351.7 586.7C351.9 588.1 351.7 592.0 352.9 595.1C354.2 598.2 357.7 602.2 359.3 605.3C361.0 608.4 362.7 610.6 362.7 613.7C362.7 616.8 360.6 620.5 359.3 623.8C358.1 627.2 356.1 630.5 355.1 634.0C354.1 637.5 353.7 643.1 353.4 645.0" fill="none" stroke="#B7A8DC" stroke-width="13" opacity=".6" filter="url(#b2)"/>
<path d="M389.7 588.4C388.6 588.8 385.5 590.9 383.0 590.9C380.5 590.9 377.4 589.9 374.5 588.4C371.7 586.8 368.6 583.7 366.1 581.6C363.6 579.5 361.6 577.7 359.3 575.7C357.1 573.7 354.7 572.5 352.6 569.8C350.5 567.1 348.1 563.0 346.7 559.6C345.3 556.3 343.7 552.0 344.1 549.5C344.6 547.0 346.7 545.4 349.2 544.4C351.7 543.5 356.2 543.3 359.3 543.6C362.4 543.9 365.4 544.7 367.8 546.1C370.2 547.5 372.6 550.4 373.7 552.0C374.8 553.7 374.4 555.6 374.5 556.3" fill="none" stroke="#5C66BC" stroke-width="6" opacity=".8" filter="url(#stainBlob5)"/>
<path d="M351.7 586.7C351.9 588.1 351.7 592.0 352.9 595.1C354.2 598.2 357.7 602.2 359.3 605.3C361.0 608.4 362.7 610.6 362.7 613.7C362.7 616.8 360.6 620.5 359.3 623.8C358.1 627.2 356.1 630.5 355.1 634.0C354.1 637.5 353.7 643.1 353.4 645.0" fill="none" stroke="#5C66BC" stroke-width="12" opacity=".85" filter="url(#stainBlob5)"/>
<path d="M351.7 586.7C351.9 588.1 351.7 592.0 352.9 595.1C354.2 598.2 357.7 602.2 359.3 605.3C361.0 608.4 362.7 610.6 362.7 613.7C362.7 616.8 360.6 620.5 359.3 623.8C358.1 627.2 356.1 630.5 355.1 634.0C354.1 637.5 353.7 643.1 353.4 645.0" fill="none" stroke="#3FA6C8" stroke-width="11" opacity=".7" filter="url(#stainFine)"/>
<path d="M389.7 588.4C388.6 588.8 385.5 590.9 383.0 590.9C380.5 590.9 377.4 589.9 374.5 588.4C371.7 586.8 368.6 583.7 366.1 581.6C363.6 579.5 361.6 577.7 359.3 575.7C357.1 573.7 354.7 572.5 352.6 569.8C350.5 567.1 348.1 563.0 346.7 559.6C345.3 556.3 343.7 552.0 344.1 549.5C344.6 547.0 346.7 545.4 349.2 544.4C351.7 543.5 356.2 543.3 359.3 543.6C362.4 543.9 365.4 544.7 367.8 546.1C370.2 547.5 372.6 550.4 373.7 552.0C374.8 553.7 374.4 555.6 374.5 556.3" fill="none" stroke="#D44C98" stroke-width="3" filter="url(#stainBlob6)"/>
<path d="M366.1 581.6C365.0 580.6 361.6 577.7 359.3 575.7C357.1 573.7 354.7 572.5 352.6 569.8C350.5 567.1 348.1 563.0 346.7 559.6C345.3 556.3 343.7 552.0 344.1 549.5C344.6 547.0 346.7 545.4 349.2 544.4C351.7 543.5 357.6 543.7 359.3 543.6" fill="none" stroke="#CE3A8C" stroke-width="2.4" filter="url(#stainBlob6)"/>
<path d="M352.6 585.0C353.0 586.1 354.3 589.5 355.1 591.7C356.0 594.0 355.8 596.5 357.6 598.5C359.5 600.5 364.0 601.9 366.1 603.6C368.2 605.3 369.8 606.4 370.3 608.6C370.9 610.9 370.5 614.5 369.5 617.1C368.5 619.6 366.1 621.3 364.4 623.8C362.7 626.4 360.5 628.9 359.3 632.3C358.2 635.7 357.9 642.1 357.6 644.1" fill="none" stroke="#C6469A" stroke-width="4.5" filter="url(#stainBlob6)"/>
<path d="M351.7 586.7C351.9 588.1 351.7 592.0 352.9 595.1C354.2 598.2 357.7 602.2 359.3 605.3C361.0 608.4 362.7 610.6 362.7 613.7C362.7 616.8 360.6 620.5 359.3 623.8C358.1 627.2 356.1 630.5 355.1 634.0C354.1 637.5 353.7 643.1 353.4 645.0" fill="none" stroke="#C6469A" stroke-width="9" opacity=".8" filter="url(#stainBlob4)"/>
<rect x="338" y="538.8" width="81.6" height="105.5" filter="url(#spPink)" opacity="0.45"/>
<rect x="338" y="538.8" width="81.6" height="105.5" filter="url(#spPurp)" opacity="0.4"/>
<rect x="335" y="535.8" width="87.6" height="111.5" fill="#fff" opacity="0.12"/>
</g></g>
<g clip-path="url(#cp_tonsil2)"><g filter="url(#soft)">
<rect x="416.6" y="535.8" width="116.3" height="111.5" fill="#F1EDF6"/>
<rect x="419.6" y="538.8" width="110.3" height="11.5" fill="#FDFCFE"/>
<path d="M419.8 550.5C424.3 551.1 437.0 547.7 446.7 547.6C456.3 547.4 463.8 549.3 477.8 549.5C491.7 549.7 521.5 549.5 530.3 548.5C539.0 547.6 548.7 544.5 530.3 543.7C511.9 542.9 438.2 542.5 419.8 543.7C401.4 544.8 415.4 549.8 419.8 550.5Z" fill="#FBFAFD" filter="url(#b1)"/>
<path d="M418.5 564.1C420.6 560.4 426.4 562.4 431.1 561.2C435.8 560.0 439.2 558.2 446.7 556.9C454.1 555.5 466.1 553.9 475.8 553.0C485.6 552.1 495.8 551.5 505.0 551.4C514.2 551.3 526.9 547.6 531.2 552.4C535.6 557.3 534.0 574.6 531.2 580.6C528.5 586.6 520.7 586.8 514.7 588.4C508.7 590.0 501.4 590.8 495.3 590.3C489.1 589.8 483.0 587.9 477.8 585.5C472.6 583.0 468.1 577.9 464.2 575.7C460.3 573.6 458.7 572.5 454.4 572.8C450.2 573.2 444.9 575.9 438.9 577.7C432.9 579.5 421.9 585.8 418.5 583.5C415.1 581.3 416.4 567.8 418.5 564.1Z" fill="#BDE3EC" opacity=".6" filter="url(#b2)"/>
<path d="M418.5 564.1C420.6 560.4 426.4 562.4 431.1 561.2C435.8 560.0 439.2 558.2 446.7 556.9C454.1 555.5 466.1 553.9 475.8 553.0C485.6 552.1 495.8 551.5 505.0 551.4C514.2 551.3 526.9 547.6 531.2 552.4C535.6 557.3 534.0 574.6 531.2 580.6C528.5 586.6 520.7 586.8 514.7 588.4C508.7 590.0 501.4 590.8 495.3 590.3C489.1 589.8 483.0 587.9 477.8 585.5C472.6 583.0 468.1 577.9 464.2 575.7C460.3 573.6 458.7 572.5 454.4 572.8C450.2 573.2 444.9 575.9 438.9 577.7C432.9 579.5 421.9 585.8 418.5 583.5C415.1 581.3 416.4 567.8 418.5 564.1Z" fill="#43B2CD" filter="url(#stainBlob3)"/>
<path d="M418.5 564.1C420.6 560.4 426.4 562.4 431.1 561.2C435.8 560.0 439.2 558.2 446.7 556.9C454.1 555.5 466.1 553.9 475.8 553.0C485.6 552.1 495.8 551.5 505.0 551.4C514.2 551.3 526.9 547.6 531.2 552.4C535.6 557.3 534.0 574.6 531.2 580.6C528.5 586.6 520.7 586.8 514.7 588.4C508.7 590.0 501.4 590.8 495.3 590.3C489.1 589.8 483.0 587.9 477.8 585.5C472.6 583.0 468.1 577.9 464.2 575.7C460.3 573.6 458.7 572.5 454.4 572.8C450.2 573.2 444.9 575.9 438.9 577.7C432.9 579.5 421.9 585.8 418.5 583.5C415.1 581.3 416.4 567.8 418.5 564.1Z" fill="#2397BE" opacity=".8" filter="url(#stainBlob5)"/>
<path d="M418.5 583.5C420.6 580.6 427.1 580.6 431.1 580.6C435.2 580.6 439.2 584.0 442.8 583.5C446.3 583.0 448.6 578.5 452.5 577.7C456.4 576.9 461.9 576.6 466.1 578.7C470.3 580.8 472.9 587.6 477.8 590.3C482.6 593.1 489.1 595.2 495.3 595.2C501.4 595.2 508.7 591.6 514.7 590.3C520.7 589.0 528.5 584.7 531.2 587.4C534.0 590.2 534.0 603.1 531.2 606.9C528.5 610.6 520.1 609.0 514.7 609.8C509.4 610.6 504.7 612.0 499.2 611.7C493.7 611.4 486.5 609.9 481.7 607.8C476.8 605.7 472.9 602.0 470.0 599.1C467.1 596.2 466.8 592.1 464.2 590.3C461.6 588.5 457.4 586.8 454.4 588.4C451.5 590.0 449.9 597.1 446.7 600.1C443.4 603.0 439.7 606.2 435.0 605.9C430.3 605.6 421.2 601.8 418.5 598.1C415.7 594.4 416.4 586.4 418.5 583.5Z" fill="#EBC3DF" opacity=".7" filter="url(#b2)"/>
<path d="M418.5 583.5C420.6 580.6 427.1 580.6 431.1 580.6C435.2 580.6 439.2 584.0 442.8 583.5C446.3 583.0 448.6 578.5 452.5 577.7C456.4 576.9 461.9 576.6 466.1 578.7C470.3 580.8 472.9 587.6 477.8 590.3C482.6 593.1 489.1 595.2 495.3 595.2C501.4 595.2 508.7 591.6 514.7 590.3C520.7 589.0 528.5 584.7 531.2 587.4C534.0 590.2 534.0 603.1 531.2 606.9C528.5 610.6 520.1 609.0 514.7 609.8C509.4 610.6 504.7 612.0 499.2 611.7C493.7 611.4 486.5 609.9 481.7 607.8C476.8 605.7 472.9 602.0 470.0 599.1C467.1 596.2 466.8 592.1 464.2 590.3C461.6 588.5 457.4 586.8 454.4 588.4C451.5 590.0 449.9 597.1 446.7 600.1C443.4 603.0 439.7 606.2 435.0 605.9C430.3 605.6 421.2 601.8 418.5 598.1C415.7 594.4 416.4 586.4 418.5 583.5Z" fill="#D9408A" filter="url(#stainBlob4)"/>
<path d="M418.5 583.5C420.6 580.6 427.1 580.6 431.1 580.6C435.2 580.6 439.2 584.0 442.8 583.5C446.3 583.0 448.6 578.5 452.5 577.7C456.4 576.9 461.9 576.6 466.1 578.7C470.3 580.8 472.9 587.6 477.8 590.3C482.6 593.1 489.1 595.2 495.3 595.2C501.4 595.2 508.7 591.6 514.7 590.3C520.7 589.0 528.5 584.7 531.2 587.4C534.0 590.2 534.0 603.1 531.2 606.9C528.5 610.6 520.1 609.0 514.7 609.8C509.4 610.6 504.7 612.0 499.2 611.7C493.7 611.4 486.5 609.9 481.7 607.8C476.8 605.7 472.9 602.0 470.0 599.1C467.1 596.2 466.8 592.1 464.2 590.3C461.6 588.5 457.4 586.8 454.4 588.4C451.5 590.0 449.9 597.1 446.7 600.1C443.4 603.0 439.7 606.2 435.0 605.9C430.3 605.6 421.2 601.8 418.5 598.1C415.7 594.4 416.4 586.4 418.5 583.5Z" fill="#4450A6" opacity=".85" filter="url(#stainBlob5)"/>
<path d="M418.5 583.5C420.6 580.6 427.1 580.6 431.1 580.6C435.2 580.6 439.2 584.0 442.8 583.5C446.3 583.0 448.6 578.5 452.5 577.7C456.4 576.9 461.9 576.6 466.1 578.7C470.3 580.8 472.9 587.6 477.8 590.3C482.6 593.1 489.1 595.2 495.3 595.2C501.4 595.2 508.7 591.6 514.7 590.3C520.7 589.0 528.5 584.7 531.2 587.4C534.0 590.2 534.0 603.1 531.2 606.9C528.5 610.6 520.1 609.0 514.7 609.8C509.4 610.6 504.7 612.0 499.2 611.7C493.7 611.4 486.5 609.9 481.7 607.8C476.8 605.7 472.9 602.0 470.0 599.1C467.1 596.2 466.8 592.1 464.2 590.3C461.6 588.5 457.4 586.8 454.4 588.4C451.5 590.0 449.9 597.1 446.7 600.1C443.4 603.0 439.7 606.2 435.0 605.9C430.3 605.6 421.2 601.8 418.5 598.1C415.7 594.4 416.4 586.4 418.5 583.5Z" fill="#49AFCB" opacity=".7" filter="url(#stainFine)"/>
<path d="M418.5 588.4C419.4 585.5 425.1 592.6 427.2 596.2C429.3 599.7 432.1 606.9 431.1 609.8C430.1 612.7 423.5 617.2 421.4 613.7C419.3 610.1 417.5 591.3 418.5 588.4Z" fill="#3F9FC8" opacity=".6" filter="url(#stainBlob4)"/>
<path d="M447.6 613.7C444.9 611.1 448.4 602.2 449.6 598.1C450.7 594.1 452.7 590.7 454.4 589.4C456.2 588.1 458.7 588.5 460.3 590.3C461.9 592.1 463.2 596.2 464.2 600.1C465.1 603.9 468.9 611.4 466.1 613.7C463.4 615.9 450.4 616.3 447.6 613.7Z" fill="#F7F3FA" filter="url(#b1)"/>
<path d="M418.5 617.6C423.2 616.9 436.8 614.0 446.7 613.7C456.5 613.3 468.1 615.0 477.8 615.6C487.5 616.3 496.1 617.9 505.0 617.6C513.9 617.2 526.9 614.3 531.2 613.7" fill="none" stroke="#FAF8FC" stroke-width="4" opacity=".8" filter="url(#b1)"/>
<rect x="419.6" y="538.8" width="110.3" height="105.5" filter="url(#spPurp)" opacity="0.6"/>
<rect x="419.6" y="538.8" width="110.3" height="105.5" filter="url(#spPink)" opacity="0.35"/>
<rect x="416.6" y="535.8" width="116.3" height="111.5" fill="#fff" opacity="0.2"/>
</g></g>
<text x="382.1" y="556.3" font-size="11.8" fill="#232323" text-anchor="start">Squamous mucosae</text>
<rect x="375.1" y="629.20" width="12.6" height="2" fill="#222"/>
<text x="395" y="639.5" font-size="14.8" font-weight="700" fill="#000" text-anchor="start">Tonsil</text>
<rect x="472.9" y="629.05" width="41.4" height="1.5" fill="#222"/>
<g clip-path="url(#cp_duo)"><g filter="url(#soft)">
<rect x="532.3" y="536.7" width="144.4" height="110.3" fill="#EDE6F0"/>
<path d="M537.6 543.6C538.9 546.5 542.4 554.8 545.3 561.0C548.2 567.1 551.7 574.8 555.0 580.3C558.2 585.7 563.0 591.5 564.6 593.8" fill="none" stroke="#FBF9FC" stroke-width="3.4" opacity=".95" filter="url(#b1)"/>
<path d="M551.1 543.6C552.7 546.8 557.5 557.1 560.7 562.9C564.0 568.7 567.5 574.1 570.4 578.3C573.3 582.5 576.8 586.4 578.1 588.0" fill="none" stroke="#FBF9FC" stroke-width="3.4" opacity=".95" filter="url(#b1)"/>
<path d="M566.5 541.7C567.8 544.2 571.4 552.3 574.3 557.1C577.2 561.9 582.3 568.4 583.9 570.6" fill="none" stroke="#FBF9FC" stroke-width="3.4" opacity=".95" filter="url(#b1)"/>
<path d="M537.6 570.6C538.9 573.8 542.4 584.1 545.3 589.9C548.2 595.7 553.3 602.8 555.0 605.4" fill="none" stroke="#FBF9FC" stroke-width="3.4" opacity=".95" filter="url(#b1)"/>
<path d="M583.9 541.7C584.9 543.3 587.1 548.1 589.7 551.3C592.3 554.5 597.8 559.3 599.4 561.0" fill="none" stroke="#FBF9FC" stroke-width="3.4" opacity=".95" filter="url(#b1)"/>
<path d="M543.4 545.5C544.7 548.4 548.2 557.1 551.1 562.9C554.0 568.7 557.7 575.4 560.7 580.3C563.8 585.1 568.0 589.9 569.4 591.8" fill="none" stroke="#CDBBDD" stroke-width="1.1" opacity=".5" filter="url(#b05)"/>
<path d="M558.8 543.6C560.3 546.5 564.4 555.5 567.5 561.0C570.6 566.4 575.5 573.8 577.2 576.4" fill="none" stroke="#CDBBDD" stroke-width="1.1" opacity=".5" filter="url(#b05)"/>
<path d="M535.7 589.9C537.9 593.1 544.3 603.8 549.2 609.2C554.0 614.7 558.8 618.9 564.6 622.7C570.4 626.6 580.7 630.8 583.9 632.4" fill="none" stroke="#CDBBDD" stroke-width="1.1" opacity=".5" filter="url(#b05)"/>
<circle cx="615.8" cy="607.0" r="3.1" fill="#F7F4FA" stroke="#D5CBE6" stroke-width=".5" opacity=".8" filter="url(#b05)"/>
<circle cx="617.1" cy="603.1" r="2.5" fill="#F7F4FA" stroke="#D5CBE6" stroke-width=".5" opacity=".8" filter="url(#b05)"/>
<circle cx="588.9" cy="603.4" r="2.6" fill="#F7F4FA" stroke="#D5CBE6" stroke-width=".5" opacity=".8" filter="url(#b05)"/>
<circle cx="650.0" cy="571.9" r="2.1" fill="#F7F4FA" stroke="#D5CBE6" stroke-width=".5" opacity=".8" filter="url(#b05)"/>
<circle cx="579.5" cy="625.8" r="2.7" fill="#F7F4FA" stroke="#D5CBE6" stroke-width=".5" opacity=".8" filter="url(#b05)"/>
<circle cx="574.6" cy="638.8" r="3.1" fill="#F7F4FA" stroke="#D5CBE6" stroke-width=".5" opacity=".8" filter="url(#b05)"/>
<circle cx="586.2" cy="565.9" r="2.4" fill="#F7F4FA" stroke="#D5CBE6" stroke-width=".5" opacity=".8" filter="url(#b05)"/>
<circle cx="576.4" cy="579.1" r="2.0" fill="#F7F4FA" stroke="#D5CBE6" stroke-width=".5" opacity=".8" filter="url(#b05)"/>
<circle cx="573.4" cy="599.7" r="2.3" fill="#F7F4FA" stroke="#D5CBE6" stroke-width=".5" opacity=".8" filter="url(#b05)"/>
<circle cx="655.0" cy="603.9" r="2.6" fill="#F7F4FA" stroke="#D5CBE6" stroke-width=".5" opacity=".8" filter="url(#b05)"/>
<circle cx="616.3" cy="585.8" r="3.2" fill="#F7F4FA" stroke="#D5CBE6" stroke-width=".5" opacity=".8" filter="url(#b05)"/>
<circle cx="641.5" cy="588.6" r="2.0" fill="#F7F4FA" stroke="#D5CBE6" stroke-width=".5" opacity=".8" filter="url(#b05)"/>
<circle cx="599.4" cy="570.1" r="2.8" fill="#F7F4FA" stroke="#D5CBE6" stroke-width=".5" opacity=".8" filter="url(#b05)"/>
<circle cx="610.6" cy="628.6" r="2.2" fill="#F7F4FA" stroke="#D5CBE6" stroke-width=".5" opacity=".8" filter="url(#b05)"/>
<circle cx="570.5" cy="580.6" r="3.1" fill="#F7F4FA" stroke="#D5CBE6" stroke-width=".5" opacity=".8" filter="url(#b05)"/>
<circle cx="610.3" cy="570.3" r="2.6" fill="#F7F4FA" stroke="#D5CBE6" stroke-width=".5" opacity=".8" filter="url(#b05)"/>
<circle cx="648.6" cy="585.1" r="1.7" fill="#F7F4FA" stroke="#D5CBE6" stroke-width=".5" opacity=".8" filter="url(#b05)"/>
<circle cx="603.8" cy="637.4" r="2.8" fill="#F7F4FA" stroke="#D5CBE6" stroke-width=".5" opacity=".8" filter="url(#b05)"/>
<circle cx="582.2" cy="583.4" r="1.8" fill="#F7F4FA" stroke="#D5CBE6" stroke-width=".5" opacity=".8" filter="url(#b05)"/>
<circle cx="576.4" cy="624.8" r="1.9" fill="#F7F4FA" stroke="#D5CBE6" stroke-width=".5" opacity=".8" filter="url(#b05)"/>
<circle cx="626.5" cy="598.5" r="1.9" fill="#F7F4FA" stroke="#D5CBE6" stroke-width=".5" opacity=".8" filter="url(#b05)"/>
<circle cx="643.9" cy="574.7" r="2.6" fill="#F7F4FA" stroke="#D5CBE6" stroke-width=".5" opacity=".8" filter="url(#b05)"/>
<circle cx="582.1" cy="596.5" r="1.9" fill="#F7F4FA" stroke="#D5CBE6" stroke-width=".5" opacity=".8" filter="url(#b05)"/>
<circle cx="597.5" cy="637.9" r="2.9" fill="#F7F4FA" stroke="#D5CBE6" stroke-width=".5" opacity=".8" filter="url(#b05)"/>
<circle cx="600.9" cy="631.4" r="1.9" fill="#F7F4FA" stroke="#D5CBE6" stroke-width=".5" opacity=".8" filter="url(#b05)"/>
<circle cx="610.0" cy="629.1" r="2.6" fill="#F7F4FA" stroke="#D5CBE6" stroke-width=".5" opacity=".8" filter="url(#b05)"/>
<circle cx="580.5" cy="639.3" r="1.9" fill="#F7F4FA" stroke="#D5CBE6" stroke-width=".5" opacity=".8" filter="url(#b05)"/>
<circle cx="596.3" cy="623.0" r="2.1" fill="#F7F4FA" stroke="#D5CBE6" stroke-width=".5" opacity=".8" filter="url(#b05)"/>
<circle cx="600.1" cy="570.3" r="1.7" fill="#F7F4FA" stroke="#D5CBE6" stroke-width=".5" opacity=".8" filter="url(#b05)"/>
<circle cx="628.9" cy="583.1" r="2.6" fill="#F7F4FA" stroke="#D5CBE6" stroke-width=".5" opacity=".8" filter="url(#b05)"/>
<circle cx="607.7" cy="598.9" r="3.1" fill="#F7F4FA" stroke="#D5CBE6" stroke-width=".5" opacity=".8" filter="url(#b05)"/>
<circle cx="619.0" cy="608.1" r="3.0" fill="#F7F4FA" stroke="#D5CBE6" stroke-width=".5" opacity=".8" filter="url(#b05)"/>
<circle cx="588.8" cy="576.4" r="3.1" fill="#F7F4FA" stroke="#D5CBE6" stroke-width=".5" opacity=".8" filter="url(#b05)"/>
<circle cx="585.8" cy="605.4" r="2.6" fill="none" stroke="#9CC8E4" stroke-width=".8" opacity=".7" filter="url(#b05)"/>
<circle cx="589.7" cy="609.2" r="2.6" fill="none" stroke="#9CC8E4" stroke-width=".8" opacity=".7" filter="url(#b05)"/>
<circle cx="583.9" cy="615.0" r="2.6" fill="none" stroke="#9CC8E4" stroke-width=".8" opacity=".7" filter="url(#b05)"/>
<circle cx="616.7" cy="595.7" r="2.6" fill="none" stroke="#9CC8E4" stroke-width=".8" opacity=".7" filter="url(#b05)"/>
<circle cx="645.7" cy="582.2" r="2.6" fill="none" stroke="#9CC8E4" stroke-width=".8" opacity=".7" filter="url(#b05)"/>
<circle cx="570.4" cy="628.5" r="2.6" fill="none" stroke="#9CC8E4" stroke-width=".8" opacity=".7" filter="url(#b05)"/>
<circle cx="545.3" cy="565.8" r="0.9" fill="#E6A23A" opacity=".9"/>
<circle cx="548.8" cy="567.1" r="0.9" fill="#E6A23A" opacity=".9"/>
<circle cx="550.7" cy="568.7" r="0.9" fill="#E6A23A" opacity=".9"/>
<circle cx="554.6" cy="560.0" r="0.9" fill="#E6A23A" opacity=".9"/>
<circle cx="546.3" cy="562.9" r="0.9" fill="#E6A23A" opacity=".9"/>
<rect x="535.3" y="539.7" width="138.4" height="104.3" filter="url(#spPurp)" opacity="0.4"/>
<rect x="535.3" y="539.7" width="138.4" height="104.3" filter="url(#spPink)" opacity="0.3"/>
<rect x="619.4" y="611.3" width="54.6" height="33" fill="#FBF5F2"/>
<path d="M619.4 644.3V611.3H674" fill="none" stroke="#ADA4AA" stroke-width="1"/>
<path d="M621.3 615.1C622.7 613.5 626.3 613.2 628.9 613.2C631.4 613.2 634.8 613.5 636.4 615.1C638.0 616.7 638.4 620.1 638.3 622.6C638.2 625.1 637.2 628.5 635.6 630.2C634.1 631.8 631.0 632.6 628.9 632.4C626.7 632.3 624.2 631.0 622.8 629.4C621.4 627.8 620.8 625.0 620.6 622.6C620.3 620.2 619.9 616.7 621.3 615.1Z" fill="#FFFFFF" opacity=".95" filter="url(#b05)"/>
<path d="M642.4 615.8C643.4 614.3 646.1 614.3 647.7 614.7C649.3 615.1 651.4 616.3 652.2 618.1C653.0 619.9 653.1 623.4 652.6 625.6C652.1 627.9 650.7 630.8 649.2 631.7C647.8 632.6 645.2 632.2 643.9 630.9C642.7 629.7 641.9 626.6 641.7 624.1C641.4 621.6 641.4 617.4 642.4 615.8Z" fill="#FFFFFF" opacity=".95" filter="url(#b05)"/>
<path d="M655.2 617.3C656.4 616.0 659.3 614.5 661.3 614.7C663.3 615.0 666.1 616.8 667.3 618.9C668.5 620.9 668.7 624.4 668.4 627.1C668.2 629.9 667.3 633.9 665.8 635.4C664.4 637.0 661.4 637.1 659.8 636.2C658.1 635.3 656.9 632.4 656.0 630.2C655.1 627.9 654.6 624.8 654.5 622.6C654.4 620.5 654.1 618.7 655.2 617.3Z" fill="#FFFFFF" opacity=".95" filter="url(#b05)"/>
<path d="M642.3 615.5C641.9 615.5 640.4 617.7 640.2 618.9C639.9 620.0 640.1 621.8 640.6 622.2C641.2 622.7 643.2 622.1 643.6 621.5C643.9 620.9 642.8 619.5 642.6 618.5C642.4 617.5 642.7 615.4 642.3 615.5Z" fill="#1C72BA" stroke="#1C72BA" stroke-width=".5"/>
<path d="M641.3 625.6C641.4 626.2 641.4 628.0 641.7 629.0C642.0 630.0 642.9 631.2 643.2 631.7" fill="none" stroke="#4FB8D0" stroke-width="1.1" opacity=".85" filter="url(#b05)"/>
<path d="M643.2 616.2C643.9 616.0 646.4 614.6 647.7 614.7C649.0 614.8 650.5 616.6 651.1 617.0" fill="none" stroke="#86CBE0" stroke-width=".8" stroke-dasharray="1.2 1" opacity=".8" filter="url(#b05)"/>
<path d="M647.7 621.1C648.2 621.4 649.9 622.0 650.7 622.6C651.5 623.3 652.3 624.5 652.6 624.9" fill="none" stroke="#86CBE0" stroke-width=".8" stroke-dasharray="1.2 1" opacity=".8" filter="url(#b05)"/>
<path d="M658.3 614.7C659.1 614.8 662.0 614.8 663.5 615.5C665.1 616.2 666.7 618.3 667.3 618.9" fill="none" stroke="#86CBE0" stroke-width=".8" stroke-dasharray="1.2 1" opacity=".8" filter="url(#b05)"/>
<path d="M668.1 622.6C668.1 623.6 668.7 626.8 668.4 628.7C668.2 630.5 666.9 633.1 666.6 633.9" fill="none" stroke="#86CBE0" stroke-width=".8" stroke-dasharray="1.2 1" opacity=".8" filter="url(#b05)"/>
<path d="M662.8 637.7C663.1 638.2 664.1 640.5 664.7 640.7C665.2 641.0 665.9 639.5 666.2 639.2" fill="none" stroke="#86CBE0" stroke-width=".8" stroke-dasharray="1.2 1" opacity=".8" filter="url(#b05)"/>
<path d="M653.0 626.4C653.4 626.6 654.5 627.9 655.2 627.9C656.0 627.9 657.1 626.6 657.5 626.4" fill="none" stroke="#86CBE0" stroke-width=".8" stroke-dasharray="1.2 1" opacity=".8" filter="url(#b05)"/>
<rect x="532.3" y="536.7" width="144.4" height="110.3" fill="#fff" opacity="0.25"/>
</g></g>
<rect x="654.4" y="545.15" width="9.1" height="1.5" fill="#111"/>
<text x="575" y="563.9" font-size="15.2" font-weight="700" fill="#000" text-anchor="start">Duodenum</text>
<text x="567.1" y="638.6" font-size="11.9" fill="#232323" text-anchor="start">Brunner’s glands</text>
<g clip-path="url(#cp_ileum)"><g filter="url(#soft)">
<rect x="676.1" y="537.2" width="101.3" height="110.1" fill="#F3EEF6"/>
<path d="M705.6 538.5C709.5 536.4 724.0 535.6 727.5 538.5C731.0 541.5 726.5 550.5 726.7 556.3C726.8 562.0 728.6 567.5 728.4 573.2C728.1 578.8 725.3 584.4 725.3 590.1C725.3 595.7 726.9 602.2 728.4 606.9C729.9 611.7 734.6 616.5 734.3 618.8C734.0 621.0 729.6 620.6 726.7 620.5C723.7 620.3 718.9 620.7 716.5 617.9C714.1 615.1 713.7 606.5 712.3 603.6C710.9 600.6 709.6 603.0 708.1 600.2C706.5 597.4 703.9 592.3 703.0 586.7C702.2 581.0 702.9 572.3 703.0 566.4C703.2 560.5 703.4 555.8 703.9 551.2C704.3 546.6 701.6 540.6 705.6 538.5Z" fill="#FFFFFF" filter="url(#b1)"/>
<path d="M748.6 538.5C753.1 535.6 772.6 520.7 777.4 538.5C782.1 556.4 779.2 627.9 777.4 645.8C775.5 663.7 767.9 650.6 766.4 645.8C764.8 641.0 768.3 624.1 768.1 617.1C767.8 610.0 766.1 608.6 764.7 603.6C763.3 598.5 760.7 592.3 759.6 586.7C758.5 581.0 759.5 574.9 757.9 569.8C756.4 564.7 751.9 561.5 750.3 556.3C748.8 551.1 744.1 541.5 748.6 538.5Z" fill="#FFFFFF" filter="url(#b1)"/>
<path d="M736.8 559.6C738.6 558.5 743.0 560.2 745.3 564.7C747.5 569.2 748.6 580.2 750.3 586.7C752.0 593.2 754.0 597.4 755.4 603.6C756.8 609.8 758.3 616.8 758.8 623.8C759.2 630.9 758.9 642.1 757.9 645.8C756.9 649.5 754.7 648.3 752.9 645.8C751.0 643.3 749.1 635.4 746.9 630.6C744.8 625.8 742.2 621.6 740.2 617.1C738.2 612.6 736.4 608.6 735.1 603.6C733.9 598.5 732.7 592.0 732.6 586.7C732.4 581.3 733.6 576.0 734.3 571.5C735.0 567.0 735.0 560.8 736.8 559.6Z" fill="#E7E0EF" filter="url(#b1)"/>
<path d="M730.4 558.0C730.7 560.5 732.4 567.8 732.1 573.2C731.8 578.5 728.7 584.4 728.7 590.1C728.7 595.7 730.4 602.3 732.1 606.9C733.8 611.6 736.4 614.0 738.8 617.9C741.3 621.9 745.0 626.1 746.9 630.6C748.9 635.1 749.8 642.6 750.3 645.0" fill="none" stroke="#F4CCDF" stroke-width="7.4" opacity=".8" filter="url(#b1)"/>
<path d="M730.4 558.0C730.7 560.5 732.4 567.8 732.1 573.2C731.8 578.5 728.7 584.4 728.7 590.1C728.7 595.7 730.4 602.3 732.1 606.9C733.8 611.6 736.4 614.0 738.8 617.9C741.3 621.9 745.0 626.1 746.9 630.6C748.9 635.1 749.8 642.6 750.3 645.0" fill="none" stroke="#E577A9" stroke-width="5.4" opacity=".9" filter="url(#stainIle)"/>
<path d="M746.9 556.3C748.3 558.5 753.4 564.7 755.1 569.8C756.7 574.9 755.9 581.0 757.1 586.7C758.3 592.3 760.7 598.5 762.1 603.6C763.6 608.6 765.2 612.6 765.5 617.1C765.9 621.6 764.7 625.9 764.2 630.6C763.7 635.2 762.8 642.6 762.5 645.0" fill="none" stroke="#F4CCDF" stroke-width="7.4" opacity=".8" filter="url(#b1)"/>
<path d="M746.9 556.3C748.3 558.5 753.4 564.7 755.1 569.8C756.7 574.9 755.9 581.0 757.1 586.7C758.3 592.3 760.7 598.5 762.1 603.6C763.6 608.6 765.2 612.6 765.5 617.1C765.9 621.6 764.7 625.9 764.2 630.6C763.7 635.2 762.8 642.6 762.5 645.0" fill="none" stroke="#E577A9" stroke-width="5.4" opacity=".9" filter="url(#stainIle)"/>
<path d="M730.4 558.8C730.3 557.5 728.9 553.3 729.7 551.2C730.5 549.1 733.0 547.1 735.1 546.5C737.3 545.8 740.7 545.5 742.7 547.1C744.7 548.8 746.5 554.8 747.3 556.3" fill="none" stroke="#F4CCDF" stroke-width="9" opacity=".8" filter="url(#b1)"/>
<path d="M730.4 558.8C730.3 557.5 728.9 553.3 729.7 551.2C730.5 549.1 733.0 547.1 735.1 546.5C737.3 545.8 740.7 545.5 742.7 547.1C744.7 548.8 746.5 554.8 747.3 556.3" fill="none" stroke="#E577A9" stroke-width="7" opacity=".9" filter="url(#stainIle)"/>
<path d="M696.6 541.1C697.2 543.0 699.8 548.7 700.0 552.9C700.2 557.1 698.4 562.2 698.0 566.4C697.5 570.6 696.7 574.3 697.3 578.2C697.8 582.2 699.9 586.7 701.3 590.1C702.7 593.4 704.3 596.4 705.7 598.2C707.2 599.9 709.4 600.1 710.1 600.5" fill="none" stroke="#F4CCDF" stroke-width="7.2" opacity=".8" filter="url(#b1)"/>
<path d="M696.6 541.1C697.2 543.0 699.8 548.7 700.0 552.9C700.2 557.1 698.4 562.2 698.0 566.4C697.5 570.6 696.7 574.3 697.3 578.2C697.8 582.2 699.9 586.7 701.3 590.1C702.7 593.4 704.3 596.4 705.7 598.2C707.2 599.9 709.4 600.1 710.1 600.5" fill="none" stroke="#E577A9" stroke-width="5.2" opacity=".9" filter="url(#stainIle)"/>
<path d="M696.3 626.4C698.5 625.4 705.3 621.6 709.8 620.8C714.3 620.0 719.4 620.4 723.3 621.5C727.2 622.5 730.8 624.6 733.1 627.2C735.3 629.9 736.4 634.4 736.8 637.4C737.2 640.3 735.7 643.7 735.5 645.0" fill="none" stroke="#F4CCDF" stroke-width="6.4" opacity=".8" filter="url(#b1)"/>
<path d="M696.3 626.4C698.5 625.4 705.3 621.6 709.8 620.8C714.3 620.0 719.4 620.4 723.3 621.5C727.2 622.5 730.8 624.6 733.1 627.2C735.3 629.9 736.4 634.4 736.8 637.4C737.2 640.3 735.7 643.7 735.5 645.0" fill="none" stroke="#E577A9" stroke-width="4.4" opacity=".9" filter="url(#stainIle)"/>
<path d="M730.9 556.3C730.5 554.4 733.9 551.1 736.0 550.4C738.1 549.7 741.9 550.8 743.6 552.0C745.3 553.3 746.9 556.4 746.1 558.0C745.3 559.5 741.0 561.6 738.5 561.3C736.0 561.1 731.3 558.1 730.9 556.3Z" fill="#E890B8" opacity=".7" filter="url(#stainIle)"/>
<circle cx="729.9" cy="559.5" r="1.8" fill="#FFFFFF" opacity=".92" filter="url(#b05)"/>
<circle cx="730.4" cy="564.6" r="1.8" fill="#FFFFFF" opacity=".92" filter="url(#b05)"/>
<circle cx="731.0" cy="569.8" r="1.8" fill="#FFFFFF" opacity=".92" filter="url(#b05)"/>
<circle cx="731.0" cy="574.9" r="1.8" fill="#FFFFFF" opacity=".92" filter="url(#b05)"/>
<circle cx="729.9" cy="580.6" r="1.8" fill="#FFFFFF" opacity=".92" filter="url(#b05)"/>
<circle cx="728.7" cy="586.3" r="1.8" fill="#FFFFFF" opacity=".92" filter="url(#b05)"/>
<circle cx="728.3" cy="591.7" r="1.8" fill="#FFFFFF" opacity=".92" filter="url(#b05)"/>
<circle cx="729.5" cy="597.5" r="1.8" fill="#FFFFFF" opacity=".92" filter="url(#b05)"/>
<circle cx="730.6" cy="603.2" r="1.8" fill="#FFFFFF" opacity=".92" filter="url(#b05)"/>
<circle cx="732.1" cy="608.0" r="1.8" fill="#FFFFFF" opacity=".92" filter="url(#b05)"/>
<circle cx="734.4" cy="611.8" r="1.8" fill="#FFFFFF" opacity=".92" filter="url(#b05)"/>
<circle cx="736.7" cy="615.5" r="1.8" fill="#FFFFFF" opacity=".92" filter="url(#b05)"/>
<circle cx="738.9" cy="619.2" r="1.8" fill="#FFFFFF" opacity=".92" filter="url(#b05)"/>
<circle cx="741.7" cy="623.5" r="1.8" fill="#FFFFFF" opacity=".92" filter="url(#b05)"/>
<circle cx="744.5" cy="627.8" r="1.8" fill="#FFFFFF" opacity=".92" filter="url(#b05)"/>
<circle cx="746.6" cy="632.0" r="1.8" fill="#FFFFFF" opacity=".92" filter="url(#b05)"/>
<circle cx="747.7" cy="636.9" r="1.8" fill="#FFFFFF" opacity=".92" filter="url(#b05)"/>
<circle cx="748.9" cy="641.8" r="1.8" fill="#FFFFFF" opacity=".92" filter="url(#b05)"/>
<circle cx="748.6" cy="557.6" r="1.8" fill="#FFFFFF" opacity=".92" filter="url(#b05)"/>
<circle cx="751.3" cy="562.2" r="1.8" fill="#FFFFFF" opacity=".92" filter="url(#b05)"/>
<circle cx="754.1" cy="566.8" r="1.8" fill="#FFFFFF" opacity=".92" filter="url(#b05)"/>
<circle cx="756.1" cy="571.5" r="1.8" fill="#FFFFFF" opacity=".92" filter="url(#b05)"/>
<circle cx="756.7" cy="577.2" r="1.8" fill="#FFFFFF" opacity=".92" filter="url(#b05)"/>
<circle cx="757.4" cy="583.0" r="1.8" fill="#FFFFFF" opacity=".92" filter="url(#b05)"/>
<circle cx="758.4" cy="588.4" r="1.8" fill="#FFFFFF" opacity=".92" filter="url(#b05)"/>
<circle cx="760.1" cy="594.1" r="1.8" fill="#FFFFFF" opacity=".92" filter="url(#b05)"/>
<circle cx="761.8" cy="599.9" r="1.8" fill="#FFFFFF" opacity=".92" filter="url(#b05)"/>
<circle cx="763.3" cy="604.9" r="1.8" fill="#FFFFFF" opacity=".92" filter="url(#b05)"/>
<circle cx="764.4" cy="609.5" r="1.8" fill="#FFFFFF" opacity=".92" filter="url(#b05)"/>
<circle cx="765.6" cy="614.1" r="1.8" fill="#FFFFFF" opacity=".92" filter="url(#b05)"/>
<circle cx="766.2" cy="618.4" r="1.8" fill="#FFFFFF" opacity=".92" filter="url(#b05)"/>
<circle cx="765.7" cy="623.0" r="1.8" fill="#FFFFFF" opacity=".92" filter="url(#b05)"/>
<circle cx="765.3" cy="627.6" r="1.8" fill="#FFFFFF" opacity=".92" filter="url(#b05)"/>
<circle cx="764.8" cy="632.0" r="1.8" fill="#FFFFFF" opacity=".92" filter="url(#b05)"/>
<circle cx="764.2" cy="636.9" r="1.8" fill="#FFFFFF" opacity=".92" filter="url(#b05)"/>
<circle cx="763.7" cy="641.8" r="1.8" fill="#FFFFFF" opacity=".92" filter="url(#b05)"/>
<circle cx="697.7" cy="542.2" r="1.8" fill="#FFFFFF" opacity=".92" filter="url(#b05)"/>
<circle cx="698.9" cy="546.3" r="1.8" fill="#FFFFFF" opacity=".92" filter="url(#b05)"/>
<circle cx="700.0" cy="550.3" r="1.8" fill="#FFFFFF" opacity=".92" filter="url(#b05)"/>
<circle cx="700.6" cy="554.2" r="1.8" fill="#FFFFFF" opacity=".92" filter="url(#b05)"/>
<circle cx="699.9" cy="558.8" r="1.8" fill="#FFFFFF" opacity=".92" filter="url(#b05)"/>
<circle cx="699.2" cy="563.4" r="1.8" fill="#FFFFFF" opacity=".92" filter="url(#b05)"/>
<circle cx="698.7" cy="567.6" r="1.8" fill="#FFFFFF" opacity=".92" filter="url(#b05)"/>
<circle cx="698.5" cy="571.6" r="1.8" fill="#FFFFFF" opacity=".92" filter="url(#b05)"/>
<circle cx="698.2" cy="575.6" r="1.8" fill="#FFFFFF" opacity=".92" filter="url(#b05)"/>
<circle cx="698.5" cy="579.4" r="1.8" fill="#FFFFFF" opacity=".92" filter="url(#b05)"/>
<circle cx="699.9" cy="583.4" r="1.8" fill="#FFFFFF" opacity=".92" filter="url(#b05)"/>
<circle cx="701.2" cy="587.5" r="1.8" fill="#FFFFFF" opacity=".92" filter="url(#b05)"/>
<circle cx="702.6" cy="590.9" r="1.8" fill="#FFFFFF" opacity=".92" filter="url(#b05)"/>
<circle cx="704.1" cy="593.6" r="1.8" fill="#FFFFFF" opacity=".92" filter="url(#b05)"/>
<circle cx="705.6" cy="596.4" r="1.8" fill="#FFFFFF" opacity=".92" filter="url(#b05)"/>
<circle cx="707.0" cy="598.4" r="1.8" fill="#FFFFFF" opacity=".92" filter="url(#b05)"/>
<circle cx="708.5" cy="599.2" r="1.8" fill="#FFFFFF" opacity=".92" filter="url(#b05)"/>
<circle cx="710.0" cy="600.0" r="1.8" fill="#FFFFFF" opacity=".92" filter="url(#b05)"/>
<circle cx="697.6" cy="625.8" r="1.8" fill="#FFFFFF" opacity=".92" filter="url(#b05)"/>
<circle cx="702.2" cy="623.9" r="1.8" fill="#FFFFFF" opacity=".92" filter="url(#b05)"/>
<circle cx="706.8" cy="622.0" r="1.8" fill="#FFFFFF" opacity=".92" filter="url(#b05)"/>
<circle cx="711.1" cy="620.9" r="1.8" fill="#FFFFFF" opacity=".92" filter="url(#b05)"/>
<circle cx="715.7" cy="621.1" r="1.8" fill="#FFFFFF" opacity=".92" filter="url(#b05)"/>
<circle cx="720.3" cy="621.3" r="1.8" fill="#FFFFFF" opacity=".92" filter="url(#b05)"/>
<circle cx="724.3" cy="622.0" r="1.8" fill="#FFFFFF" opacity=".92" filter="url(#b05)"/>
<circle cx="727.6" cy="624.0" r="1.8" fill="#FFFFFF" opacity=".92" filter="url(#b05)"/>
<circle cx="730.9" cy="626.0" r="1.8" fill="#FFFFFF" opacity=".92" filter="url(#b05)"/>
<circle cx="733.5" cy="628.2" r="1.8" fill="#FFFFFF" opacity=".92" filter="url(#b05)"/>
<circle cx="734.7" cy="631.7" r="1.8" fill="#FFFFFF" opacity=".92" filter="url(#b05)"/>
<circle cx="736.0" cy="635.1" r="1.8" fill="#FFFFFF" opacity=".92" filter="url(#b05)"/>
<circle cx="736.7" cy="638.1" r="1.8" fill="#FFFFFF" opacity=".92" filter="url(#b05)"/>
<circle cx="736.2" cy="640.7" r="1.8" fill="#FFFFFF" opacity=".92" filter="url(#b05)"/>
<circle cx="735.8" cy="643.3" r="1.8" fill="#FFFFFF" opacity=".92" filter="url(#b05)"/>
<circle cx="684.1" cy="564.7" r="3.7" fill="#F3EEF7" stroke="#C0A2D2" stroke-width="1.5" opacity=".85" filter="url(#b05)"/>
<circle cx="686.5" cy="609.5" r="5.9" fill="#F3EEF7" stroke="#C0A2D2" stroke-width="1.5" opacity=".85" filter="url(#b05)"/>
<circle cx="714.0" cy="610.3" r="3.8" fill="#DDA6CC" opacity=".75" filter="url(#b1)"/>
<circle cx="714.0" cy="610.3" r="2.6" fill="none" stroke="#C978B0" stroke-width="1" opacity=".7" filter="url(#b05)"/>
<rect x="679.1" y="540.2" width="95.3" height="104.1" filter="url(#spPurp)" opacity="0.45"/>
<rect x="676.1" y="537.2" width="101.3" height="110.1" fill="#fff" opacity="0.2"/>
</g></g>
<rect x="750.1" y="545.25" width="16.7" height="1.5" fill="#111"/>
<text x="685.7" y="639.5" font-size="14.9" font-weight="700" fill="#000" text-anchor="start">Ileum</text>
<g clip-path="url(#cp_colon)"><g filter="url(#soft)">
<rect x="776.3" y="536.8" width="100.9" height="110.0" fill="#FBF1F0"/>
<path d="M794.6 546.1C791.8 549.7 788.4 556.3 786.1 561.3C783.9 566.4 781.2 572.3 781.1 576.5C780.9 580.8 783.0 584.6 785.3 586.7C787.5 588.7 791.3 589.8 794.6 588.7C797.8 587.6 801.9 584.0 804.7 580.3C807.5 576.5 809.7 571.0 811.5 566.4C813.2 561.8 815.0 557.0 815.2 552.9C815.3 548.8 814.3 544.0 812.3 541.9C810.3 539.8 806.0 539.5 803.0 540.2C800.1 540.9 797.4 542.6 794.6 546.1Z" fill="#F9DCE6" stroke="#F4B4CE" stroke-width="6.2" opacity=".85" filter="url(#b1)"/>
<path d="M794.6 546.1C791.8 549.7 788.4 556.3 786.1 561.3C783.9 566.4 781.2 572.3 781.1 576.5C780.9 580.8 783.0 584.6 785.3 586.7C787.5 588.7 791.3 589.8 794.6 588.7C797.8 587.6 801.9 584.0 804.7 580.3C807.5 576.5 809.7 571.0 811.5 566.4C813.2 561.8 815.0 557.0 815.2 552.9C815.3 548.8 814.3 544.0 812.3 541.9C810.3 539.8 806.0 539.5 803.0 540.2C800.1 540.9 797.4 542.6 794.6 546.1Z" fill="none" stroke="#E33B88" stroke-width="4.2" filter="url(#stainCol)"/>
<path d="M843.6 554.6C840.3 558.7 837.1 567.2 833.4 573.2C829.8 579.1 825.0 585.0 821.6 590.1C818.2 595.1 814.8 599.6 813.2 603.6C811.6 607.5 810.9 611.0 812.0 613.7C813.1 616.4 816.9 619.6 819.9 620.0C822.9 620.3 826.7 618.5 830.1 615.7C833.4 613.0 836.8 607.8 840.2 603.6C843.6 599.3 846.9 594.8 850.3 590.1C853.7 585.3 857.9 579.6 860.5 574.9C863.0 570.1 865.5 565.3 865.9 561.3C866.2 557.4 864.7 553.4 862.5 551.2C860.3 549.0 856.0 547.6 852.9 548.2C849.7 548.7 846.8 550.4 843.6 554.6Z" fill="#FCEFF2" stroke="#F4B4CE" stroke-width="6.2" opacity=".85" filter="url(#b1)"/>
<path d="M843.6 554.6C840.3 558.7 837.1 567.2 833.4 573.2C829.8 579.1 825.0 585.0 821.6 590.1C818.2 595.1 814.8 599.6 813.2 603.6C811.6 607.5 810.9 611.0 812.0 613.7C813.1 616.4 816.9 619.6 819.9 620.0C822.9 620.3 826.7 618.5 830.1 615.7C833.4 613.0 836.8 607.8 840.2 603.6C843.6 599.3 846.9 594.8 850.3 590.1C853.7 585.3 857.9 579.6 860.5 574.9C863.0 570.1 865.5 565.3 865.9 561.3C866.2 557.4 864.7 553.4 862.5 551.2C860.3 549.0 856.0 547.6 852.9 548.2C849.7 548.7 846.8 550.4 843.6 554.6Z" fill="none" stroke="#E4408C" stroke-width="4.2" filter="url(#stainCol)"/>
<path d="M794.6 602.2C791.8 602.4 788.0 604.8 786.1 606.9C784.2 609.1 783.0 612.7 783.1 615.4C783.2 618.1 784.6 621.2 786.5 623.0C788.4 624.7 791.9 625.9 794.6 625.9C797.3 625.8 800.8 624.5 802.7 622.5C804.6 620.5 806.0 616.8 806.1 614.0C806.1 611.3 804.9 608.1 803.0 606.1C801.1 604.1 797.4 602.1 794.6 602.2Z" fill="#FCEBF0" stroke="#F4B4CE" stroke-width="5.2" opacity=".85" filter="url(#b1)"/>
<path d="M794.6 602.2C791.8 602.4 788.0 604.8 786.1 606.9C784.2 609.1 783.0 612.7 783.1 615.4C783.2 618.1 784.6 621.2 786.5 623.0C788.4 624.7 791.9 625.9 794.6 625.9C797.3 625.8 800.8 624.5 802.7 622.5C804.6 620.5 806.0 616.8 806.1 614.0C806.1 611.3 804.9 608.1 803.0 606.1C801.1 604.1 797.4 602.1 794.6 602.2Z" fill="none" stroke="#E76AA2" stroke-width="3.2" filter="url(#stainCol)"/>
<path d="M873.1 599.9C870.6 597.3 864.5 602.7 860.5 605.3C856.4 607.8 851.6 611.7 849.0 615.4C846.3 619.1 844.2 623.6 844.4 627.2C844.6 630.9 847.4 635.0 850.3 637.4C853.3 639.7 858.7 641.3 862.1 641.1C865.6 640.8 868.7 639.4 870.9 636.0C873.2 632.6 875.3 626.5 875.7 620.5C876.0 614.4 875.7 602.4 873.1 599.9Z" fill="#FCEEF2" stroke="#F4B4CE" stroke-width="5.4" opacity=".85" filter="url(#b1)"/>
<path d="M873.1 599.9C870.6 597.3 864.5 602.7 860.5 605.3C856.4 607.8 851.6 611.7 849.0 615.4C846.3 619.1 844.2 623.6 844.4 627.2C844.6 630.9 847.4 635.0 850.3 637.4C853.3 639.7 858.7 641.3 862.1 641.1C865.6 640.8 868.7 639.4 870.9 636.0C873.2 632.6 875.3 626.5 875.7 620.5C876.0 614.4 875.7 602.4 873.1 599.9Z" fill="none" stroke="#E86CA4" stroke-width="3.4" filter="url(#stainCol)"/>
<path d="M794.6 546.1C793.2 548.7 788.4 556.3 786.1 561.3C783.9 566.4 781.2 572.3 781.1 576.5C780.9 580.8 783.0 584.6 785.3 586.7C787.5 588.7 793.0 588.4 794.6 588.7" fill="none" stroke="#DA1F74" stroke-width="4" filter="url(#stainMag)"/>
<path d="M840.2 563.0C840.8 561.6 841.5 557.1 843.6 554.6C845.7 552.1 849.7 548.7 852.9 548.2C856.0 547.6 860.3 549.0 862.5 551.2C864.7 553.4 866.1 557.5 865.9 561.3C865.7 565.1 862.1 571.9 861.3 574.0" fill="none" stroke="#DC2A7A" stroke-width="4.4" filter="url(#stainMag)"/>
<path d="M861.3 574.0C859.8 576.4 855.0 584.1 852.0 588.4C849.1 592.6 845.0 597.5 843.6 599.3" fill="none" stroke="#E0468C" stroke-width="3" opacity=".8" filter="url(#stainMag)"/>
<path d="M865.5 554.6C866.4 555.1 869.0 556.6 870.6 558.0C872.1 559.4 874.1 562.2 874.8 563.0" fill="none" stroke="#E86CA4" stroke-width="4" filter="url(#stainCol)"/>
<path d="M779.4 542.8C780.5 543.3 784.0 546.0 786.1 546.1C788.2 546.3 791.1 544.0 792.0 543.6" fill="none" stroke="#EE9ABF" stroke-width="5" opacity=".7" filter="url(#stainCol)"/>
<path d="M796.3 551.2C792.9 554.0 790.9 561.6 789.5 566.4C788.1 571.2 787.0 577.1 787.8 579.9C788.7 582.7 792.0 584.1 794.6 583.3C797.1 582.5 800.6 578.5 803.0 574.9C805.4 571.2 807.8 565.6 808.9 561.3C810.1 557.1 811.9 551.2 809.8 549.5C807.7 547.8 799.6 548.4 796.3 551.2Z" fill="#F4A9C8" opacity=".5" filter="url(#stainBlob4)"/>
<circle cx="795.4" cy="549.7" r="1.5" fill="#FFFFFF" opacity=".85" filter="url(#b05)"/>
<circle cx="792.1" cy="555.8" r="1.5" fill="#FFFFFF" opacity=".85" filter="url(#b05)"/>
<circle cx="788.7" cy="561.9" r="1.5" fill="#FFFFFF" opacity=".85" filter="url(#b05)"/>
<circle cx="786.6" cy="568.0" r="1.5" fill="#FFFFFF" opacity=".85" filter="url(#b05)"/>
<circle cx="784.6" cy="574.1" r="1.5" fill="#FFFFFF" opacity=".85" filter="url(#b05)"/>
<circle cx="786.3" cy="578.1" r="1.5" fill="#FFFFFF" opacity=".85" filter="url(#b05)"/>
<circle cx="788.0" cy="582.2" r="1.5" fill="#FFFFFF" opacity=".85" filter="url(#b05)"/>
<circle cx="791.7" cy="583.0" r="1.5" fill="#FFFFFF" opacity=".85" filter="url(#b05)"/>
<circle cx="795.4" cy="583.8" r="1.5" fill="#FFFFFF" opacity=".85" filter="url(#b05)"/>
<circle cx="799.5" cy="580.4" r="1.5" fill="#FFFFFF" opacity=".85" filter="url(#b05)"/>
<circle cx="803.5" cy="577.0" r="1.5" fill="#FFFFFF" opacity=".85" filter="url(#b05)"/>
<circle cx="806.2" cy="571.5" r="1.5" fill="#FFFFFF" opacity=".85" filter="url(#b05)"/>
<circle cx="808.9" cy="565.9" r="1.5" fill="#FFFFFF" opacity=".85" filter="url(#b05)"/>
<circle cx="810.4" cy="560.5" r="1.5" fill="#FFFFFF" opacity=".85" filter="url(#b05)"/>
<circle cx="811.9" cy="555.1" r="1.5" fill="#FFFFFF" opacity=".85" filter="url(#b05)"/>
<circle cx="810.8" cy="550.7" r="1.5" fill="#FFFFFF" opacity=".85" filter="url(#b05)"/>
<circle cx="809.6" cy="546.4" r="1.5" fill="#FFFFFF" opacity=".85" filter="url(#b05)"/>
<circle cx="805.9" cy="545.7" r="1.5" fill="#FFFFFF" opacity=".85" filter="url(#b05)"/>
<circle cx="802.2" cy="545.0" r="1.5" fill="#FFFFFF" opacity=".85" filter="url(#b05)"/>
<circle cx="798.8" cy="547.4" r="1.5" fill="#FFFFFF" opacity=".85" filter="url(#b05)"/>
<circle cx="842.6" cy="560.6" r="1.5" fill="#FFFFFF" opacity=".85" filter="url(#b05)"/>
<circle cx="838.6" cy="568.0" r="1.5" fill="#FFFFFF" opacity=".85" filter="url(#b05)"/>
<circle cx="834.5" cy="575.5" r="1.5" fill="#FFFFFF" opacity=".85" filter="url(#b05)"/>
<circle cx="829.8" cy="582.2" r="1.5" fill="#FFFFFF" opacity=".85" filter="url(#b05)"/>
<circle cx="825.1" cy="589.0" r="1.5" fill="#FFFFFF" opacity=".85" filter="url(#b05)"/>
<circle cx="821.7" cy="594.4" r="1.5" fill="#FFFFFF" opacity=".85" filter="url(#b05)"/>
<circle cx="818.3" cy="599.8" r="1.5" fill="#FFFFFF" opacity=".85" filter="url(#b05)"/>
<circle cx="817.8" cy="603.8" r="1.5" fill="#FFFFFF" opacity=".85" filter="url(#b05)"/>
<circle cx="817.4" cy="607.9" r="1.5" fill="#FFFFFF" opacity=".85" filter="url(#b05)"/>
<circle cx="820.5" cy="610.4" r="1.5" fill="#FFFFFF" opacity=".85" filter="url(#b05)"/>
<circle cx="823.7" cy="612.9" r="1.5" fill="#FFFFFF" opacity=".85" filter="url(#b05)"/>
<circle cx="827.8" cy="611.2" r="1.5" fill="#FFFFFF" opacity=".85" filter="url(#b05)"/>
<circle cx="831.8" cy="609.5" r="1.5" fill="#FFFFFF" opacity=".85" filter="url(#b05)"/>
<circle cx="835.9" cy="604.6" r="1.5" fill="#FFFFFF" opacity=".85" filter="url(#b05)"/>
<circle cx="839.9" cy="599.8" r="1.5" fill="#FFFFFF" opacity=".85" filter="url(#b05)"/>
<circle cx="844.0" cy="594.4" r="1.5" fill="#FFFFFF" opacity=".85" filter="url(#b05)"/>
<circle cx="848.0" cy="589.0" r="1.5" fill="#FFFFFF" opacity=".85" filter="url(#b05)"/>
<circle cx="852.1" cy="582.9" r="1.5" fill="#FFFFFF" opacity=".85" filter="url(#b05)"/>
<circle cx="856.2" cy="576.8" r="1.5" fill="#FFFFFF" opacity=".85" filter="url(#b05)"/>
<circle cx="858.3" cy="571.4" r="1.5" fill="#FFFFFF" opacity=".85" filter="url(#b05)"/>
<circle cx="860.5" cy="566.0" r="1.5" fill="#FFFFFF" opacity=".85" filter="url(#b05)"/>
<circle cx="859.1" cy="561.9" r="1.5" fill="#FFFFFF" opacity=".85" filter="url(#b05)"/>
<circle cx="857.8" cy="557.9" r="1.5" fill="#FFFFFF" opacity=".85" filter="url(#b05)"/>
<circle cx="853.9" cy="556.7" r="1.5" fill="#FFFFFF" opacity=".85" filter="url(#b05)"/>
<circle cx="850.1" cy="555.5" r="1.5" fill="#FFFFFF" opacity=".85" filter="url(#b05)"/>
<circle cx="846.4" cy="558.0" r="1.5" fill="#FFFFFF" opacity=".85" filter="url(#b05)"/>
<circle cx="794.6" cy="604.7" r="1.5" fill="#FFFFFF" opacity=".85" filter="url(#b05)"/>
<circle cx="791.2" cy="606.6" r="1.5" fill="#FFFFFF" opacity=".85" filter="url(#b05)"/>
<circle cx="787.8" cy="608.5" r="1.5" fill="#FFFFFF" opacity=".85" filter="url(#b05)"/>
<circle cx="786.6" cy="611.8" r="1.5" fill="#FFFFFF" opacity=".85" filter="url(#b05)"/>
<circle cx="785.4" cy="615.2" r="1.5" fill="#FFFFFF" opacity=".85" filter="url(#b05)"/>
<circle cx="786.7" cy="618.3" r="1.5" fill="#FFFFFF" opacity=".85" filter="url(#b05)"/>
<circle cx="788.1" cy="621.3" r="1.5" fill="#FFFFFF" opacity=".85" filter="url(#b05)"/>
<circle cx="791.3" cy="622.4" r="1.5" fill="#FFFFFF" opacity=".85" filter="url(#b05)"/>
<circle cx="794.6" cy="623.6" r="1.5" fill="#FFFFFF" opacity=".85" filter="url(#b05)"/>
<circle cx="797.8" cy="622.2" r="1.5" fill="#FFFFFF" opacity=".85" filter="url(#b05)"/>
<circle cx="801.1" cy="620.9" r="1.5" fill="#FFFFFF" opacity=".85" filter="url(#b05)"/>
<circle cx="802.4" cy="617.5" r="1.5" fill="#FFFFFF" opacity=".85" filter="url(#b05)"/>
<circle cx="803.8" cy="614.1" r="1.5" fill="#FFFFFF" opacity=".85" filter="url(#b05)"/>
<circle cx="802.6" cy="611.0" r="1.5" fill="#FFFFFF" opacity=".85" filter="url(#b05)"/>
<circle cx="801.3" cy="607.8" r="1.5" fill="#FFFFFF" opacity=".85" filter="url(#b05)"/>
<circle cx="798.0" cy="606.2" r="1.5" fill="#FFFFFF" opacity=".85" filter="url(#b05)"/>
<circle cx="870.7" cy="604.4" r="1.5" fill="#FFFFFF" opacity=".85" filter="url(#b05)"/>
<circle cx="865.6" cy="606.6" r="1.5" fill="#FFFFFF" opacity=".85" filter="url(#b05)"/>
<circle cx="860.5" cy="608.8" r="1.5" fill="#FFFFFF" opacity=".85" filter="url(#b05)"/>
<circle cx="855.9" cy="612.8" r="1.5" fill="#FFFFFF" opacity=".85" filter="url(#b05)"/>
<circle cx="851.3" cy="616.9" r="1.5" fill="#FFFFFF" opacity=".85" filter="url(#b05)"/>
<circle cx="849.5" cy="621.6" r="1.5" fill="#FFFFFF" opacity=".85" filter="url(#b05)"/>
<circle cx="847.7" cy="626.3" r="1.5" fill="#FFFFFF" opacity=".85" filter="url(#b05)"/>
<circle cx="850.0" cy="630.4" r="1.5" fill="#FFFFFF" opacity=".85" filter="url(#b05)"/>
<circle cx="852.4" cy="634.4" r="1.5" fill="#FFFFFF" opacity=".85" filter="url(#b05)"/>
<circle cx="857.1" cy="635.9" r="1.5" fill="#FFFFFF" opacity=".85" filter="url(#b05)"/>
<circle cx="861.9" cy="637.4" r="1.5" fill="#FFFFFF" opacity=".85" filter="url(#b05)"/>
<circle cx="865.4" cy="635.4" r="1.5" fill="#FFFFFF" opacity=".85" filter="url(#b05)"/>
<circle cx="868.9" cy="633.4" r="1.5" fill="#FFFFFF" opacity=".85" filter="url(#b05)"/>
<circle cx="870.8" cy="627.1" r="1.5" fill="#FFFFFF" opacity=".85" filter="url(#b05)"/>
<circle cx="872.7" cy="620.9" r="1.5" fill="#FFFFFF" opacity=".85" filter="url(#b05)"/>
<circle cx="871.7" cy="612.7" r="1.5" fill="#FFFFFF" opacity=".85" filter="url(#b05)"/>
<line x1="798.1" y1="552.2" x2="799.5" y2="553.6" stroke="#2a2a3a" stroke-width="1.1" stroke-linecap="round" opacity=".85"/>
<line x1="785.1" y1="571.3" x2="787.1" y2="573.3" stroke="#2a2a3a" stroke-width="1.1" stroke-linecap="round" opacity=".85"/>
<line x1="790.4" y1="588.8" x2="791.3" y2="589.6" stroke="#2a2a3a" stroke-width="1.1" stroke-linecap="round" opacity=".85"/>
<line x1="849.1" y1="587.2" x2="849.8" y2="587.9" stroke="#2a2a3a" stroke-width="1.1" stroke-linecap="round" opacity=".85"/>
<line x1="786.7" y1="610.1" x2="787.2" y2="610.6" stroke="#2a2a3a" stroke-width="1.1" stroke-linecap="round" opacity=".85"/>
<rect x="779.3" y="539.8" width="94.9" height="104.0" filter="url(#spPink2)" opacity="0.45"/>
<rect x="779.3" y="539.8" width="94.9" height="104.0" filter="url(#spPurp)" opacity="0.3"/>
<rect x="776.3" y="536.8" width="100.9" height="110.0" fill="#fff" opacity="0.22"/>
</g></g>
<rect x="824.6" y="545.10" width="27.6" height="1.8" fill="#111"/>
<text x="785.5" y="639.5" font-size="14.9" font-weight="700" fill="#000" text-anchor="start">Colon</text>
<g clip-path="url(#cp_skin)"><g filter="url(#soft)">
<rect x="876" y="536.8" width="84.8" height="110.2" fill="#ECEAEE"/>
<path d="M877.7 537.8C864.1 539.1 876.0 543.5 877.7 545.6C879.3 547.7 884.5 549.1 887.4 550.5C890.3 551.8 891.3 552.7 895.2 553.8C899.1 554.8 905.9 556.3 910.7 556.9C915.6 557.5 919.8 556.6 924.3 557.3C928.9 557.9 933.7 559.3 937.9 560.8C942.2 562.2 946.1 564.2 949.6 566.0C953.1 567.9 957.4 576.6 958.9 571.9C960.5 567.2 972.5 543.5 958.9 537.8C945.4 532.2 891.2 536.5 877.7 537.8Z" fill="#EEF0F5"/>
<path d="M878.6 545.2C880.1 546.1 884.6 549.0 887.4 550.5C890.1 551.9 891.3 552.7 895.2 553.8C899.1 554.8 905.9 556.3 910.7 556.9C915.6 557.5 919.8 556.6 924.3 557.3C928.9 557.9 933.7 559.3 937.9 560.8C942.2 562.2 946.2 564.2 949.6 566.0C953.0 567.9 956.9 570.9 958.4 571.9" fill="none" stroke="#DCD3CA" stroke-width="1.5" opacity=".75" filter="url(#b05)"/>
<path d="M878.6 547.2C880.1 548.0 884.6 551.0 887.4 552.4C890.1 553.8 891.3 554.7 895.2 555.7C899.1 556.8 905.9 558.2 910.7 558.8C915.6 559.4 919.8 558.6 924.3 559.2C928.9 559.9 933.7 561.3 937.9 562.7C942.2 564.2 946.2 566.1 949.6 568.0C953.0 569.8 956.9 572.8 958.4 573.8" fill="none" stroke="#E8E2E6" stroke-width="2.4" opacity=".8" filter="url(#b1)"/>
<path d="M889.3 643.8C887.2 639.8 888.5 626.1 888.9 619.5C889.4 612.9 890.9 606.9 892.2 603.9C893.6 601.0 895.8 600.4 897.1 602.0C898.4 603.6 899.2 606.7 900.0 613.7C900.8 620.6 903.8 638.8 902.0 643.8C900.2 648.8 891.5 647.9 889.3 643.8Z" fill="#F3F1F4" opacity=".9" filter="url(#b1)"/>
<path d="M921.4 643.8C919.6 639.8 921.3 625.5 922.4 619.5C923.5 613.5 926.3 609.5 928.2 607.8C930.2 606.2 932.9 606.9 934.1 609.8C935.2 612.7 935.2 619.7 935.0 625.3C934.9 631.0 935.3 640.7 933.1 643.8C930.8 646.9 923.2 647.9 921.4 643.8Z" fill="#F3F1F4" opacity=".9" filter="url(#b1)"/>
<ellipse cx="937.5" cy="590" rx="3" ry="3.6" fill="#F4F2F5" opacity=".9" filter="url(#b05)"/>
<path d="M914.6 596.2C916.6 593.6 926.0 590.3 930.2 590.3C934.4 590.3 939.6 593.6 939.9 596.2C940.2 598.8 935.7 604.3 932.1 605.9C928.5 607.5 921.4 607.5 918.5 605.9C915.6 604.3 912.7 598.8 914.6 596.2Z" fill="#EFE3E8" opacity=".6" filter="url(#b2)"/>
<rect x="879" y="539.8" width="78.8" height="104.2" filter="url(#spPurp)" opacity="0.22"/>
</g></g>
<rect x="917.9" y="545.25" width="21.6" height="1.5" fill="#111"/>
<text x="886.2" y="639.5" font-size="15" font-weight="700" fill="#000" text-anchor="start">Skin</text>
<g clip-path="url(#cp_neuron)"><g filter="url(#soft)">
<rect x="958.3" y="536.8" width="82.8" height="109.4" fill="#F0EFF5"/>
<g filter="url(#b05)">
<circle cx="973.9" cy="611.5" r="2.3" fill="#A2B2D8" opacity="0.50"/>
<circle cx="1010.0" cy="589.6" r="2.0" fill="#9FB4D6" opacity="0.57"/>
<circle cx="1000.6" cy="592.3" r="2.2" fill="#A6B0D8" opacity="0.55"/>
<circle cx="979.4" cy="540.1" r="2.3" fill="#A6B0D8" opacity="0.79"/>
<circle cx="989.8" cy="600.7" r="1.8" fill="#A2B2D8" opacity="0.69"/>
<circle cx="1022.2" cy="563.9" r="2.2" fill="#A6B0D8" opacity="0.73"/>
<circle cx="1018.0" cy="630.8" r="1.9" fill="#AAB6DC" opacity="0.69"/>
<circle cx="1008.6" cy="543.3" r="2.0" fill="#B0B0D8" opacity="0.75"/>
<circle cx="986.5" cy="591.5" r="2.2" fill="#B0B0D8" opacity="0.66"/>
<circle cx="970.2" cy="638.8" r="1.9" fill="#B0B0D8" opacity="0.78"/>
<circle cx="970.9" cy="636.3" r="2.0" fill="#A2B2D8" opacity="0.56"/>
<circle cx="996.1" cy="597.2" r="2.3" fill="#BCB0D4" opacity="0.73"/>
<circle cx="987.6" cy="590.2" r="2.4" fill="#9FB4D6" opacity="0.77"/>
<circle cx="1035.7" cy="632.8" r="1.8" fill="#A2B2D8" opacity="0.56"/>
<circle cx="1019.2" cy="619.1" r="2.0" fill="#BCB0D4" opacity="0.72"/>
<circle cx="1005.9" cy="615.7" r="1.9" fill="#A6B0D8" opacity="0.67"/>
<circle cx="970.7" cy="589.3" r="2.4" fill="#BCB0D4" opacity="0.61"/>
<circle cx="1024.8" cy="560.7" r="2.3" fill="#B0B0D8" opacity="0.52"/>
<circle cx="1032.2" cy="632.1" r="2.2" fill="#A6B0D8" opacity="0.76"/>
<circle cx="992.7" cy="577.8" r="2.4" fill="#A6B0D8" opacity="0.77"/>
<circle cx="995.9" cy="579.9" r="2.2" fill="#B0B0D8" opacity="0.74"/>
<circle cx="1037.7" cy="580.0" r="2.4" fill="#AAB6DC" opacity="0.73"/>
<circle cx="963.3" cy="549.5" r="2.3" fill="#A6B0D8" opacity="0.80"/>
<circle cx="1016.4" cy="643.1" r="2.2" fill="#9FB4D6" opacity="0.67"/>
<circle cx="999.4" cy="590.9" r="2.2" fill="#A6B0D8" opacity="0.76"/>
<circle cx="1003.6" cy="617.6" r="2.5" fill="#BCB0D4" opacity="0.48"/>
<circle cx="978.3" cy="603.1" r="2.1" fill="#AAB6DC" opacity="0.75"/>
<circle cx="1004.0" cy="604.5" r="2.4" fill="#BCB0D4" opacity="0.71"/>
<circle cx="1032.5" cy="575.8" r="1.9" fill="#A2B2D8" opacity="0.67"/>
<circle cx="1007.1" cy="571.7" r="2.5" fill="#A2B2D8" opacity="0.47"/>
<circle cx="969.2" cy="546.6" r="2.4" fill="#B0B0D8" opacity="0.77"/>
<circle cx="1023.8" cy="620.6" r="2.3" fill="#AAB6DC" opacity="0.54"/>
<circle cx="990.1" cy="610.9" r="2.0" fill="#AAB6DC" opacity="0.71"/>
<circle cx="1013.2" cy="633.3" r="2.1" fill="#AAB6DC" opacity="0.47"/>
<circle cx="1034.9" cy="582.1" r="1.9" fill="#B0B0D8" opacity="0.76"/>
<circle cx="1037.2" cy="639.8" r="2.1" fill="#BCB0D4" opacity="0.55"/>
<circle cx="1006.6" cy="631.6" r="2.4" fill="#9FB4D6" opacity="0.64"/>
<circle cx="999.0" cy="578.8" r="2.0" fill="#B0B0D8" opacity="0.69"/>
<circle cx="998.4" cy="626.8" r="2.0" fill="#AAB6DC" opacity="0.66"/>
<circle cx="965.3" cy="566.6" r="2.1" fill="#BCB0D4" opacity="0.71"/>
<circle cx="983.5" cy="583.4" r="2.2" fill="#A2B2D8" opacity="0.52"/>
<circle cx="1030.3" cy="642.1" r="1.9" fill="#AAB6DC" opacity="0.63"/>
<circle cx="1034.9" cy="594.5" r="2.4" fill="#A6B0D8" opacity="0.78"/>
<circle cx="1017.2" cy="542.7" r="1.9" fill="#BCB0D4" opacity="0.60"/>
<circle cx="1029.0" cy="602.3" r="2.2" fill="#B0B0D8" opacity="0.63"/>
<circle cx="984.9" cy="595.4" r="1.9" fill="#AAB6DC" opacity="0.68"/>
<circle cx="982.5" cy="619.7" r="2.2" fill="#A6B0D8" opacity="0.75"/>
<circle cx="1013.9" cy="639.0" r="2.2" fill="#A6B0D8" opacity="0.52"/>
<circle cx="963.1" cy="601.5" r="2.2" fill="#9FB4D6" opacity="0.45"/>
<circle cx="1010.7" cy="628.4" r="2.3" fill="#AAB6DC" opacity="0.79"/>
<circle cx="1006.2" cy="566.5" r="2.3" fill="#B0B0D8" opacity="0.67"/>
<circle cx="992.4" cy="639.5" r="2.3" fill="#9FB4D6" opacity="0.75"/>
<circle cx="1030.8" cy="553.7" r="2.1" fill="#AAB6DC" opacity="0.69"/>
<circle cx="968.5" cy="542.4" r="2.1" fill="#A6B0D8" opacity="0.70"/>
<circle cx="995.6" cy="554.4" r="2.5" fill="#BCB0D4" opacity="0.52"/>
<circle cx="1027.9" cy="607.9" r="2.3" fill="#A2B2D8" opacity="0.78"/>
<circle cx="971.0" cy="595.8" r="2.2" fill="#BCB0D4" opacity="0.62"/>
<circle cx="986.2" cy="591.2" r="2.2" fill="#B0B0D8" opacity="0.47"/>
<circle cx="990.3" cy="613.6" r="2.1" fill="#A2B2D8" opacity="0.79"/>
<circle cx="1003.5" cy="544.6" r="2.2" fill="#AAB6DC" opacity="0.47"/>
<circle cx="1015.9" cy="630.7" r="2.3" fill="#B0B0D8" opacity="0.75"/>
<circle cx="1020.7" cy="622.0" r="1.9" fill="#9FB4D6" opacity="0.73"/>
<circle cx="961.9" cy="588.0" r="2.0" fill="#AAB6DC" opacity="0.51"/>
<circle cx="1015.9" cy="566.1" r="2.2" fill="#9FB4D6" opacity="0.77"/>
<circle cx="1014.8" cy="572.4" r="2.2" fill="#A6B0D8" opacity="0.78"/>
<circle cx="964.5" cy="580.2" r="2.4" fill="#BCB0D4" opacity="0.74"/>
<circle cx="999.9" cy="596.9" r="2.2" fill="#B0B0D8" opacity="0.51"/>
<circle cx="1000.3" cy="616.2" r="2.1" fill="#A2B2D8" opacity="0.61"/>
<circle cx="1035.6" cy="572.0" r="1.8" fill="#B0B0D8" opacity="0.50"/>
<circle cx="1015.0" cy="594.5" r="2.5" fill="#BCB0D4" opacity="0.68"/>
<circle cx="1036.3" cy="576.7" r="2.1" fill="#BCB0D4" opacity="0.73"/>
<circle cx="985.7" cy="643.1" r="2.1" fill="#A6B0D8" opacity="0.69"/>
<circle cx="969.5" cy="547.7" r="1.9" fill="#AAB6DC" opacity="0.74"/>
<circle cx="1023.8" cy="618.8" r="1.9" fill="#A2B2D8" opacity="0.46"/>
<circle cx="995.7" cy="604.4" r="2.5" fill="#9FB4D6" opacity="0.57"/>
<circle cx="962.8" cy="606.8" r="2.1" fill="#9FB4D6" opacity="0.62"/>
<circle cx="995.3" cy="593.6" r="1.9" fill="#9FB4D6" opacity="0.77"/>
<circle cx="991.2" cy="581.5" r="1.8" fill="#AAB6DC" opacity="0.65"/>
<circle cx="980.2" cy="613.0" r="1.9" fill="#AAB6DC" opacity="0.62"/>
<circle cx="1024.0" cy="615.1" r="2.0" fill="#A6B0D8" opacity="0.61"/>
<circle cx="996.3" cy="564.4" r="2.1" fill="#BCB0D4" opacity="0.74"/>
<circle cx="990.9" cy="590.4" r="2.3" fill="#AAB6DC" opacity="0.73"/>
<circle cx="1009.8" cy="640.0" r="2.1" fill="#9FB4D6" opacity="0.77"/>
<circle cx="1016.4" cy="632.4" r="2.3" fill="#9FB4D6" opacity="0.70"/>
<circle cx="1021.1" cy="605.0" r="2.0" fill="#BCB0D4" opacity="0.54"/>
<circle cx="1019.5" cy="609.3" r="2.2" fill="#AAB6DC" opacity="0.60"/>
<circle cx="1027.2" cy="612.5" r="2.3" fill="#9FB4D6" opacity="0.72"/>
<circle cx="1013.7" cy="565.3" r="2.1" fill="#A2B2D8" opacity="0.76"/>
<circle cx="1031.7" cy="579.9" r="2.4" fill="#B0B0D8" opacity="0.56"/>
<circle cx="1008.5" cy="625.6" r="2.4" fill="#A2B2D8" opacity="0.71"/>
<circle cx="1035.3" cy="642.7" r="2.0" fill="#BCB0D4" opacity="0.46"/>
<circle cx="961.8" cy="572.3" r="2.2" fill="#A2B2D8" opacity="0.47"/>
<circle cx="985.2" cy="580.5" r="1.9" fill="#BCB0D4" opacity="0.78"/>
<circle cx="972.4" cy="597.3" r="2.1" fill="#BCB0D4" opacity="0.57"/>
<circle cx="967.4" cy="571.3" r="2.0" fill="#A2B2D8" opacity="0.48"/>
<circle cx="969.6" cy="639.2" r="2.4" fill="#B0B0D8" opacity="0.64"/>
<circle cx="1015.3" cy="561.2" r="2.5" fill="#B0B0D8" opacity="0.58"/>
<circle cx="987.0" cy="606.5" r="2.1" fill="#AAB6DC" opacity="0.79"/>
<circle cx="1013.6" cy="566.9" r="2.2" fill="#BCB0D4" opacity="0.49"/>
<circle cx="1034.3" cy="573.3" r="2.2" fill="#B0B0D8" opacity="0.48"/>
<circle cx="1013.6" cy="560.6" r="2.2" fill="#9FB4D6" opacity="0.79"/>
<circle cx="1007.2" cy="568.6" r="2.1" fill="#BCB0D4" opacity="0.73"/>
<circle cx="990.4" cy="637.6" r="2.0" fill="#B0B0D8" opacity="0.46"/>
<circle cx="997.1" cy="585.2" r="2.3" fill="#B0B0D8" opacity="0.47"/>
<circle cx="1008.7" cy="569.0" r="2.2" fill="#AAB6DC" opacity="0.69"/>
<circle cx="974.7" cy="579.8" r="1.9" fill="#A6B0D8" opacity="0.77"/>
<circle cx="1015.4" cy="541.8" r="2.0" fill="#A6B0D8" opacity="0.74"/>
<circle cx="999.8" cy="543.9" r="2.4" fill="#A6B0D8" opacity="0.69"/>
<circle cx="1008.0" cy="612.6" r="2.4" fill="#B0B0D8" opacity="0.77"/>
<circle cx="979.7" cy="540.6" r="2.4" fill="#BCB0D4" opacity="0.57"/>
<circle cx="996.2" cy="632.8" r="2.1" fill="#BCB0D4" opacity="0.71"/>
<circle cx="1024.4" cy="594.8" r="2.0" fill="#A6B0D8" opacity="0.64"/>
<circle cx="975.7" cy="581.7" r="1.9" fill="#BCB0D4" opacity="0.64"/>
<circle cx="1003.7" cy="563.2" r="2.2" fill="#A2B2D8" opacity="0.78"/>
<circle cx="1022.9" cy="627.5" r="2.1" fill="#A6B0D8" opacity="0.65"/>
<circle cx="1032.3" cy="631.7" r="2.0" fill="#9FB4D6" opacity="0.69"/>
<circle cx="962.6" cy="600.3" r="2.0" fill="#A2B2D8" opacity="0.56"/>
<circle cx="967.5" cy="633.4" r="2.3" fill="#B0B0D8" opacity="0.79"/>
<circle cx="1018.6" cy="618.8" r="2.4" fill="#AAB6DC" opacity="0.46"/>
<circle cx="1007.9" cy="604.3" r="2.0" fill="#B0B0D8" opacity="0.59"/>
<circle cx="997.5" cy="623.0" r="2.2" fill="#A6B0D8" opacity="0.79"/>
<circle cx="987.2" cy="567.8" r="2.0" fill="#9FB4D6" opacity="0.67"/>
<circle cx="988.4" cy="570.8" r="1.9" fill="#AAB6DC" opacity="0.57"/>
<circle cx="1009.4" cy="632.4" r="2.1" fill="#A2B2D8" opacity="0.47"/>
<circle cx="966.7" cy="546.8" r="2.5" fill="#9FB4D6" opacity="0.75"/>
<circle cx="1000.6" cy="610.3" r="2.0" fill="#9FB4D6" opacity="0.57"/>
<circle cx="975.9" cy="567.8" r="1.8" fill="#BCB0D4" opacity="0.70"/>
<circle cx="965.8" cy="543.6" r="2.2" fill="#BCB0D4" opacity="0.78"/>
<circle cx="999.3" cy="610.6" r="1.9" fill="#AAB6DC" opacity="0.46"/>
<circle cx="1011.4" cy="556.2" r="2.5" fill="#A6B0D8" opacity="0.50"/>
<circle cx="969.3" cy="636.6" r="2.0" fill="#A6B0D8" opacity="0.50"/>
<circle cx="1002.6" cy="582.3" r="2.4" fill="#AAB6DC" opacity="0.53"/>
<circle cx="1014.3" cy="615.5" r="2.4" fill="#9FB4D6" opacity="0.74"/>
<circle cx="1002.2" cy="605.1" r="1.9" fill="#A2B2D8" opacity="0.75"/>
<circle cx="974.6" cy="613.6" r="2.0" fill="#B0B0D8" opacity="0.50"/>
<circle cx="999.2" cy="556.6" r="2.0" fill="#BCB0D4" opacity="0.68"/>
<circle cx="1026.6" cy="623.7" r="2.0" fill="#A2B2D8" opacity="0.59"/>
<circle cx="1030.9" cy="610.5" r="1.9" fill="#AAB6DC" opacity="0.51"/>
<circle cx="991.2" cy="637.8" r="2.4" fill="#A2B2D8" opacity="0.76"/>
<circle cx="1033.2" cy="622.4" r="1.8" fill="#A2B2D8" opacity="0.54"/>
<circle cx="988.3" cy="603.6" r="2.0" fill="#AAB6DC" opacity="0.65"/>
<circle cx="1007.9" cy="618.4" r="2.1" fill="#9FB4D6" opacity="0.66"/>
<circle cx="1011.0" cy="556.6" r="2.0" fill="#AAB6DC" opacity="0.45"/>
<circle cx="1032.8" cy="595.6" r="2.2" fill="#AAB6DC" opacity="0.46"/>
<circle cx="1003.9" cy="620.5" r="2.1" fill="#BCB0D4" opacity="0.69"/>
<circle cx="1018.1" cy="631.6" r="2.1" fill="#AAB6DC" opacity="0.50"/>
<circle cx="975.0" cy="595.9" r="2.5" fill="#BCB0D4" opacity="0.60"/>
<circle cx="1023.9" cy="577.5" r="2.3" fill="#B0B0D8" opacity="0.64"/>
<circle cx="971.3" cy="542.6" r="2.5" fill="#AAB6DC" opacity="0.46"/>
<circle cx="993.8" cy="600.2" r="2.1" fill="#AAB6DC" opacity="0.79"/>
<circle cx="1012.4" cy="561.7" r="2.1" fill="#A2B2D8" opacity="0.60"/>
<circle cx="969.5" cy="636.3" r="1.9" fill="#A6B0D8" opacity="0.54"/>
<circle cx="970.7" cy="564.7" r="2.0" fill="#9FB4D6" opacity="0.52"/>
<circle cx="993.9" cy="606.4" r="2.0" fill="#BCB0D4" opacity="0.70"/>
<circle cx="1020.5" cy="617.9" r="2.0" fill="#B0B0D8" opacity="0.79"/>
<circle cx="1011.3" cy="566.1" r="2.4" fill="#A2B2D8" opacity="0.69"/>
<circle cx="994.3" cy="579.1" r="2.1" fill="#9FB4D6" opacity="0.63"/>
<circle cx="998.9" cy="567.4" r="2.5" fill="#B0B0D8" opacity="0.70"/>
<circle cx="1002.6" cy="587.5" r="2.1" fill="#AAB6DC" opacity="0.48"/>
<circle cx="1022.9" cy="616.4" r="1.9" fill="#A2B2D8" opacity="0.76"/>
<circle cx="1017.4" cy="643.1" r="2.4" fill="#AAB6DC" opacity="0.75"/>
<circle cx="990.2" cy="580.7" r="2.2" fill="#BCB0D4" opacity="0.58"/>
<circle cx="961.6" cy="608.9" r="2.0" fill="#B0B0D8" opacity="0.58"/>
<circle cx="1005.9" cy="599.7" r="2.2" fill="#B0B0D8" opacity="0.63"/>
<circle cx="1037.9" cy="560.3" r="2.4" fill="#A2B2D8" opacity="0.55"/>
<circle cx="978.7" cy="616.1" r="2.2" fill="#A2B2D8" opacity="0.66"/>
<circle cx="1023.7" cy="590.0" r="1.8" fill="#9FB4D6" opacity="0.72"/>
<circle cx="989.7" cy="625.7" r="2.1" fill="#BCB0D4" opacity="0.49"/>
<circle cx="999.7" cy="587.8" r="2.3" fill="#B0B0D8" opacity="0.69"/>
<circle cx="991.2" cy="605.2" r="2.3" fill="#A6B0D8" opacity="0.52"/>
<circle cx="1007.2" cy="611.9" r="2.3" fill="#BCB0D4" opacity="0.48"/>
<circle cx="1027.7" cy="617.9" r="2.2" fill="#BCB0D4" opacity="0.51"/>
<circle cx="990.1" cy="565.8" r="1.9" fill="#BCB0D4" opacity="0.46"/>
<circle cx="1021.3" cy="622.3" r="1.9" fill="#9FB4D6" opacity="0.62"/>
<circle cx="1009.9" cy="555.0" r="2.2" fill="#B0B0D8" opacity="0.62"/>
<circle cx="1025.1" cy="567.3" r="2.1" fill="#AAB6DC" opacity="0.52"/>
<circle cx="1013.7" cy="570.5" r="2.3" fill="#A6B0D8" opacity="0.80"/>
<circle cx="978.0" cy="561.3" r="2.2" fill="#9FB4D6" opacity="0.71"/>
<circle cx="999.5" cy="614.0" r="1.9" fill="#B0B0D8" opacity="0.56"/>
<circle cx="978.0" cy="611.2" r="2.2" fill="#9FB4D6" opacity="0.72"/>
<circle cx="987.0" cy="607.3" r="2.4" fill="#AAB6DC" opacity="0.48"/>
<circle cx="989.6" cy="559.9" r="1.9" fill="#A2B2D8" opacity="0.70"/>
<circle cx="1011.6" cy="542.0" r="1.8" fill="#AAB6DC" opacity="0.54"/>
<circle cx="1016.9" cy="601.6" r="2.2" fill="#BCB0D4" opacity="0.60"/>
<circle cx="995.4" cy="591.9" r="2.5" fill="#A6B0D8" opacity="0.60"/>
<circle cx="1035.2" cy="578.7" r="2.5" fill="#B0B0D8" opacity="0.56"/>
<circle cx="1010.1" cy="605.9" r="2.1" fill="#9FB4D6" opacity="0.61"/>
<circle cx="989.4" cy="575.8" r="1.9" fill="#9FB4D6" opacity="0.70"/>
<circle cx="1019.3" cy="605.9" r="2.2" fill="#BCB0D4" opacity="0.70"/>
<circle cx="996.4" cy="593.2" r="2.2" fill="#A6B0D8" opacity="0.66"/>
<circle cx="978.4" cy="621.9" r="1.8" fill="#B0B0D8" opacity="0.62"/>
<circle cx="1010.7" cy="587.1" r="2.3" fill="#A6B0D8" opacity="0.75"/>
<circle cx="978.3" cy="600.8" r="2.1" fill="#B0B0D8" opacity="0.57"/>
<circle cx="986.5" cy="562.2" r="2.5" fill="#A6B0D8" opacity="0.75"/>
<circle cx="965.0" cy="559.2" r="2.3" fill="#9FB4D6" opacity="0.50"/>
<circle cx="972.9" cy="604.7" r="2.0" fill="#A6B0D8" opacity="0.61"/>
<circle cx="1026.4" cy="562.8" r="1.9" fill="#A2B2D8" opacity="0.47"/>
<circle cx="969.9" cy="595.4" r="1.9" fill="#B0B0D8" opacity="0.50"/>
<circle cx="970.2" cy="581.9" r="2.4" fill="#AAB6DC" opacity="0.73"/>
<circle cx="1019.7" cy="560.9" r="2.2" fill="#A2B2D8" opacity="0.61"/>
<circle cx="1015.0" cy="595.8" r="2.2" fill="#B0B0D8" opacity="0.46"/>
<circle cx="967.8" cy="565.0" r="2.4" fill="#A6B0D8" opacity="0.60"/>
<circle cx="1005.6" cy="624.9" r="2.0" fill="#A2B2D8" opacity="0.68"/>
<circle cx="1001.2" cy="608.8" r="2.4" fill="#A6B0D8" opacity="0.53"/>
<circle cx="962.0" cy="571.3" r="2.0" fill="#AAB6DC" opacity="0.62"/>
<circle cx="1021.6" cy="543.3" r="2.0" fill="#BCB0D4" opacity="0.55"/>
<circle cx="1005.8" cy="558.7" r="2.4" fill="#B0B0D8" opacity="0.60"/>
<circle cx="1020.9" cy="614.6" r="2.3" fill="#BCB0D4" opacity="0.66"/>
<circle cx="1002.0" cy="556.8" r="1.8" fill="#A2B2D8" opacity="0.73"/>
<circle cx="987.5" cy="608.8" r="2.0" fill="#BCB0D4" opacity="0.67"/>
<circle cx="1011.7" cy="580.3" r="2.2" fill="#9FB4D6" opacity="0.51"/>
<circle cx="968.2" cy="573.6" r="2.2" fill="#B0B0D8" opacity="0.48"/>
<circle cx="1022.2" cy="618.2" r="2.4" fill="#BCB0D4" opacity="0.58"/>
<circle cx="972.7" cy="571.9" r="2.1" fill="#AAB6DC" opacity="0.78"/>
<circle cx="969.9" cy="608.6" r="2.4" fill="#A2B2D8" opacity="0.67"/>
<circle cx="995.3" cy="563.9" r="2.0" fill="#B0B0D8" opacity="0.69"/>
<circle cx="990.0" cy="629.8" r="2.3" fill="#A6B0D8" opacity="0.53"/>
<circle cx="993.9" cy="611.6" r="2.2" fill="#AAB6DC" opacity="0.57"/>
<circle cx="1009.5" cy="589.0" r="1.8" fill="#BCB0D4" opacity="0.72"/>
<circle cx="1004.0" cy="577.6" r="2.2" fill="#A2B2D8" opacity="0.64"/>
<circle cx="976.5" cy="591.2" r="2.2" fill="#A6B0D8" opacity="0.74"/>
<circle cx="984.7" cy="574.1" r="2.0" fill="#AAB6DC" opacity="0.73"/>
<circle cx="976.7" cy="543.1" r="1.8" fill="#9FB4D6" opacity="0.67"/>
<circle cx="1012.5" cy="563.8" r="2.5" fill="#BCB0D4" opacity="0.77"/>
<circle cx="1011.2" cy="586.6" r="2.5" fill="#B0B0D8" opacity="0.60"/>
<circle cx="1017.8" cy="594.7" r="2.5" fill="#B0B0D8" opacity="0.63"/>
<circle cx="990.1" cy="568.9" r="2.4" fill="#B0B0D8" opacity="0.60"/>
<circle cx="1006.9" cy="626.3" r="1.9" fill="#B0B0D8" opacity="0.77"/>
<circle cx="1014.4" cy="589.7" r="1.9" fill="#B0B0D8" opacity="0.50"/>
<circle cx="972.5" cy="610.4" r="2.5" fill="#A2B2D8" opacity="0.73"/>
<circle cx="1020.6" cy="610.1" r="1.9" fill="#BCB0D4" opacity="0.75"/>
<circle cx="1035.3" cy="631.2" r="2.1" fill="#A6B0D8" opacity="0.71"/>
<circle cx="980.2" cy="643.5" r="1.9" fill="#B0B0D8" opacity="0.59"/>
<circle cx="986.4" cy="579.3" r="2.4" fill="#BCB0D4" opacity="0.49"/>
<circle cx="1009.3" cy="568.2" r="1.9" fill="#BCB0D4" opacity="0.53"/>
<circle cx="1018.4" cy="621.9" r="2.2" fill="#AAB6DC" opacity="0.68"/>
<circle cx="1028.3" cy="632.7" r="2.1" fill="#A6B0D8" opacity="0.58"/>
<circle cx="1024.5" cy="641.6" r="2.2" fill="#BCB0D4" opacity="0.67"/>
<circle cx="999.6" cy="612.8" r="2.2" fill="#B0B0D8" opacity="0.45"/>
<circle cx="994.3" cy="608.9" r="2.4" fill="#B0B0D8" opacity="0.55"/>
<circle cx="971.8" cy="540.2" r="2.0" fill="#A2B2D8" opacity="0.66"/>
<circle cx="965.0" cy="606.0" r="2.3" fill="#B0B0D8" opacity="0.70"/>
<circle cx="969.8" cy="592.9" r="2.4" fill="#AAB6DC" opacity="0.55"/>
<circle cx="984.0" cy="586.2" r="2.3" fill="#9FB4D6" opacity="0.63"/>
<circle cx="1016.0" cy="582.8" r="2.1" fill="#AAB6DC" opacity="0.72"/>
<circle cx="991.4" cy="615.6" r="2.4" fill="#9FB4D6" opacity="0.59"/>
<circle cx="970.2" cy="576.1" r="2.1" fill="#AAB6DC" opacity="0.63"/>
<circle cx="1015.2" cy="626.6" r="1.9" fill="#A2B2D8" opacity="0.56"/>
<circle cx="1036.5" cy="566.5" r="2.4" fill="#BCB0D4" opacity="0.61"/>
<circle cx="1009.3" cy="572.3" r="2.0" fill="#B0B0D8" opacity="0.48"/>
</g>
<circle cx="972.0" cy="603.0" r="1.1" fill="#2FA3C6" opacity=".85" filter="url(#b05)"/>
<circle cx="963.2" cy="603.6" r="1.1" fill="#2FA3C6" opacity=".85" filter="url(#b05)"/>
<circle cx="1003.1" cy="579.6" r="1.1" fill="#2FA3C6" opacity=".85" filter="url(#b05)"/>
<circle cx="1030.3" cy="572.4" r="1.1" fill="#2FA3C6" opacity=".85" filter="url(#b05)"/>
<circle cx="1009.9" cy="606.9" r="1.1" fill="#2FA3C6" opacity=".85" filter="url(#b05)"/>
<circle cx="984.6" cy="594.2" r="1.1" fill="#2FA3C6" opacity=".85" filter="url(#b05)"/>
<circle cx="1014.2" cy="579.6" r="1.1" fill="#2FA3C6" opacity=".85" filter="url(#b05)"/>
<circle cx="1031.3" cy="627.3" r="1.1" fill="#2FA3C6" opacity=".85" filter="url(#b05)"/>
<circle cx="1006.0" cy="561.2" r="1.1" fill="#2FA3C6" opacity=".85" filter="url(#b05)"/>
<circle cx="977.8" cy="588.4" r="1.1" fill="#2FA3C6" opacity=".85" filter="url(#b05)"/>
<circle cx="1000.2" cy="618.5" r="1.1" fill="#2FA3C6" opacity=".85" filter="url(#b05)"/>
<circle cx="1019.6" cy="590.3" r="1.1" fill="#2FA3C6" opacity=".85" filter="url(#b05)"/>
<circle cx="992.4" cy="568.0" r="1.1" fill="#2FA3C6" opacity=".85" filter="url(#b05)"/>
<rect x="961.3" y="539.8" width="76.8" height="103.4" filter="url(#spPink)" opacity="0.25"/>
<rect x="961.3" y="539.8" width="76.8" height="103.4" filter="url(#spPurp)" opacity="0.25"/>
<rect x="958.3" y="536.8" width="82.8" height="109.4" fill="#fff" opacity="0.1"/>
</g></g>
<rect x="989.9" y="545.90" width="35.5" height="2.2" fill="#111"/>
<text x="1008.4" y="555.7" font-size="7.8" font-weight="700" fill="#111" text-anchor="middle">25µ</text>
<text x="967.3" y="639.5" font-size="15.2" font-weight="700" fill="#000" text-anchor="start">Neuron</text>
</g>
<g font-family='"Liberation Sans", Arial, sans-serif' fill="#000" stroke="#000" stroke-width="0.22" paint-order="stroke">
<rect x="99.90" y="41.75" width="12.7" height="198.65" fill="#7FB0D3" stroke="none"/>
<rect x="113.07" y="66.75" width="12.7" height="173.65" fill="#7FB0D3" stroke="none"/>
<rect x="126.24" y="75.50" width="12.7" height="164.90" fill="#7FB0D3" stroke="none"/>
<rect x="139.41" y="51.25" width="12.7" height="189.15" fill="#9FD6B3" stroke="none"/>
<rect x="152.58" y="61.25" width="12.7" height="179.15" fill="#9FD6B3" stroke="none"/>
<rect x="165.75" y="96.50" width="12.7" height="143.90" fill="#9FD6B3" stroke="none"/>
<rect x="178.92" y="123.25" width="12.7" height="117.15" fill="#9FD6B3" stroke="none"/>
<rect x="192.09" y="76.75" width="12.7" height="163.65" fill="#418C80" stroke="none"/>
<rect x="205.26" y="111.75" width="12.7" height="128.65" fill="#D5D8E8" stroke="none"/>
<rect x="218.43" y="94.25" width="12.7" height="146.15" fill="#D5D8E8" stroke="none"/>
<rect x="231.60" y="102.50" width="12.7" height="137.90" fill="#D5D8E8" stroke="none"/>
<rect x="244.77" y="98.75" width="12.7" height="141.65" fill="#FCCDE5" stroke="none"/>
<rect x="257.94" y="132.75" width="12.7" height="107.65" fill="#FCCDE5" stroke="none"/>
<rect x="271.11" y="93.00" width="12.7" height="147.40" fill="#AA72B9" stroke="none"/>
<rect x="284.28" y="124.25" width="12.7" height="116.15" fill="#AA72B9" stroke="none"/>
<rect x="297.45" y="71.75" width="12.7" height="168.65" fill="#DBA21F" stroke="none"/>
<rect x="310.62" y="94.75" width="12.7" height="145.65" fill="#DBA21F" stroke="none"/>
<rect x="323.79" y="124.75" width="12.7" height="115.65" fill="#DBA21F" stroke="none"/>
<rect x="336.96" y="77.00" width="12.7" height="163.40" fill="#7AAB3D" stroke="none"/>
<rect x="350.13" y="169.50" width="12.7" height="70.90" fill="#7AAB3D" stroke="none"/>
<rect x="363.30" y="156.00" width="12.7" height="84.40" fill="#7AAB3D" stroke="none"/>
<rect x="376.47" y="131.00" width="12.7" height="109.40" fill="#FA8373" stroke="none"/>
<rect x="389.64" y="141.00" width="12.7" height="99.40" fill="#FA8373" stroke="none"/>
<rect x="402.81" y="188.00" width="12.7" height="52.40" fill="#FA8373" stroke="none"/>
<rect x="415.98" y="149.25" width="12.7" height="91.15" fill="#B3DE6C" stroke="none"/>
<rect x="429.15" y="166.75" width="12.7" height="73.65" fill="#B3DE6C" stroke="none"/>
<rect x="442.32" y="210.00" width="12.7" height="30.40" fill="#B3DE6C" stroke="none"/>
<rect x="455.49" y="184.75" width="12.7" height="55.65" fill="#BEB9DA" stroke="none"/>
<rect x="468.66" y="188.25" width="12.7" height="52.15" fill="#BEB9DA" stroke="none"/>
<rect x="495.00" y="157.75" width="12.7" height="82.65" fill="#AEC743" stroke="none"/>
<rect x="521.34" y="157.75" width="12.7" height="82.65" fill="#CCEBC5" stroke="none"/>
<rect x="534.51" y="229.50" width="12.7" height="10.90" fill="#CCEBC5" stroke="none"/>
<rect x="560.85" y="186.25" width="12.7" height="54.15" fill="#675CDB" stroke="none"/>
<rect x="574.02" y="217.75" width="12.7" height="22.65" fill="#675CDB" stroke="none"/>
<rect x="587.19" y="229.25" width="12.7" height="11.15" fill="#675CDB" stroke="none"/>
<rect x="653.04" y="181.00" width="12.7" height="59.40" fill="#BC80BD" stroke="none"/>
<rect x="666.21" y="222.75" width="12.7" height="17.65" fill="#BC80BD" stroke="none"/>
<rect x="679.38" y="225.25" width="12.7" height="15.15" fill="#BC80BD" stroke="none"/>
<rect x="758.40" y="225.25" width="12.7" height="15.15" fill="#BF8A55" stroke="none"/>
<rect x="96.0" y="32.0" width="954.0" height="208.4" fill="none" stroke="#9a9a9a" stroke-width="1.4"/>
<clipPath id="cpA"><rect x="96" y="32" width="954" height="208.2"/></clipPath>
<g fill="#000" stroke="none" clip-path="url(#cpA)">
<circle cx="105.5" cy="36.8" r="1.45"/>
<circle cx="108.8" cy="43.5" r="1.45"/>
<circle cx="105.0" cy="49.8" r="1.45"/>
<circle cx="120.0" cy="61.8" r="1.45"/>
<circle cx="118.3" cy="66.3" r="1.45"/>
<circle cx="118.8" cy="78.3" r="1.45"/>
<circle cx="130.6" cy="65.8" r="1.45"/>
<circle cx="133.3" cy="70.1" r="1.45"/>
<circle cx="129.6" cy="85.6" r="1.45"/>
<circle cx="132.3" cy="95.1" r="1.45"/>
<circle cx="143.6" cy="52.3" r="1.45"/>
<circle cx="158.6" cy="49.3" r="1.45"/>
<circle cx="161.6" cy="66.6" r="1.45"/>
<circle cx="156.6" cy="69.3" r="1.45"/>
<circle cx="159.1" cy="71.6" r="1.45"/>
<circle cx="170.6" cy="85.1" r="1.45"/>
<circle cx="172.4" cy="131.4" r="1.45"/>
<circle cx="184.4" cy="120.7" r="1.45"/>
<circle cx="184.2" cy="127.9" r="1.45"/>
<circle cx="199.2" cy="77.3" r="1.45"/>
<circle cx="209.5" cy="109.6" r="1.45"/>
<circle cx="210.5" cy="116.4" r="1.45"/>
<circle cx="223.2" cy="94.9" r="1.45"/>
<circle cx="241.0" cy="78.3" r="1.45"/>
<circle cx="239.0" cy="80.8" r="1.45"/>
<circle cx="239.8" cy="124.4" r="1.45"/>
<circle cx="239.8" cy="149.7" r="1.45"/>
<circle cx="236.2" cy="156.2" r="1.45"/>
<circle cx="239.5" cy="160.7" r="1.45"/>
<circle cx="237.2" cy="175.3" r="1.45"/>
<circle cx="250.8" cy="87.1" r="1.45"/>
<circle cx="252.0" cy="108.6" r="1.45"/>
<circle cx="252.0" cy="111.6" r="1.45"/>
<circle cx="265.5" cy="133.4" r="1.45"/>
<circle cx="278.8" cy="81.8" r="1.45"/>
<circle cx="280.3" cy="82.3" r="1.45"/>
<circle cx="274.3" cy="99.9" r="1.45"/>
<circle cx="276.1" cy="110.1" r="1.45"/>
<circle cx="279.1" cy="127.4" r="1.45"/>
<circle cx="292.1" cy="93.4" r="1.45"/>
<circle cx="289.6" cy="177.8" r="1.45"/>
<circle cx="290.3" cy="179.5" r="1.45"/>
<circle cx="291.6" cy="182.3" r="1.45"/>
<circle cx="290.8" cy="183.8" r="1.45"/>
<circle cx="304.4" cy="72.6" r="1.45"/>
<circle cx="317.9" cy="86.3" r="1.45"/>
<circle cx="318.6" cy="112.6" r="1.45"/>
<circle cx="331.7" cy="93.4" r="1.45"/>
<circle cx="329.7" cy="115.1" r="1.45"/>
<circle cx="328.2" cy="118.2" r="1.45"/>
<circle cx="329.7" cy="118.7" r="1.45"/>
<circle cx="331.9" cy="135.4" r="1.45"/>
<circle cx="331.9" cy="151.5" r="1.45"/>
<circle cx="332.4" cy="152.7" r="1.45"/>
<circle cx="329.7" cy="154.7" r="1.45"/>
<circle cx="334.2" cy="164.2" r="1.45"/>
<circle cx="327.9" cy="168.0" r="1.45"/>
<circle cx="329.2" cy="190.8" r="1.45"/>
<circle cx="342.9" cy="77.8" r="1.45"/>
<circle cx="357.8" cy="164.4" r="1.45"/>
<circle cx="354.8" cy="178.4" r="1.45"/>
<circle cx="370.5" cy="152.6" r="1.45"/>
<circle cx="371.8" cy="162.6" r="1.45"/>
<circle cx="382.1" cy="112.3" r="1.45"/>
<circle cx="384.3" cy="117.8" r="1.45"/>
<circle cx="386.8" cy="120.3" r="1.45"/>
<circle cx="385.3" cy="156.1" r="1.45"/>
<circle cx="381.1" cy="170.2" r="1.45"/>
<circle cx="381.3" cy="177.7" r="1.45"/>
<circle cx="382.3" cy="187.7" r="1.45"/>
<circle cx="396.1" cy="142.1" r="1.45"/>
<circle cx="408.1" cy="168.9" r="1.45"/>
<circle cx="407.6" cy="196.7" r="1.45"/>
<circle cx="411.6" cy="201.7" r="1.45"/>
<circle cx="408.9" cy="226.3" r="1.45"/>
<circle cx="420.4" cy="123.8" r="1.45"/>
<circle cx="422.4" cy="140.9" r="1.45"/>
<circle cx="422.9" cy="145.1" r="1.45"/>
<circle cx="421.1" cy="147.6" r="1.45"/>
<circle cx="422.1" cy="152.6" r="1.45"/>
<circle cx="424.1" cy="153.6" r="1.45"/>
<circle cx="423.6" cy="158.6" r="1.45"/>
<circle cx="423.1" cy="164.9" r="1.45"/>
<circle cx="423.4" cy="175.7" r="1.45"/>
<circle cx="422.1" cy="178.4" r="1.45"/>
<circle cx="422.4" cy="190.7" r="1.45"/>
<circle cx="438.7" cy="167.9" r="1.45"/>
<circle cx="450.9" cy="184.9" r="1.45"/>
<circle cx="448.7" cy="205.0" r="1.45"/>
<circle cx="448.7" cy="213.2" r="1.45"/>
<circle cx="448.9" cy="240.3" r="1.45"/>
<circle cx="461.9" cy="175.9" r="1.45"/>
<circle cx="464.5" cy="179.7" r="1.45"/>
<circle cx="463.2" cy="181.4" r="1.45"/>
<circle cx="461.4" cy="182.7" r="1.45"/>
<circle cx="460.2" cy="183.9" r="1.45"/>
<circle cx="462.7" cy="184.7" r="1.45"/>
<circle cx="463.9" cy="185.7" r="1.45"/>
<circle cx="461.9" cy="187.2" r="1.45"/>
<circle cx="463.2" cy="188.9" r="1.45"/>
<circle cx="463.9" cy="191.4" r="1.45"/>
<circle cx="463.2" cy="194.5" r="1.45"/>
<circle cx="460.7" cy="196.7" r="1.45"/>
<circle cx="460.9" cy="201.7" r="1.45"/>
<circle cx="461.2" cy="185.2" r="1.45"/>
<circle cx="462.4" cy="183.2" r="1.45"/>
<circle cx="463.4" cy="187.2" r="1.45"/>
<circle cx="462.2" cy="190.2" r="1.45"/>
<circle cx="464.2" cy="182.7" r="1.45"/>
<circle cx="473.5" cy="175.9" r="1.45"/>
<circle cx="478.2" cy="172.9" r="1.45"/>
<circle cx="477.0" cy="176.9" r="1.45"/>
<circle cx="476.0" cy="181.4" r="1.45"/>
<circle cx="474.5" cy="193.2" r="1.45"/>
<circle cx="475.7" cy="194.7" r="1.45"/>
<circle cx="474.0" cy="195.7" r="1.45"/>
<circle cx="476.5" cy="196.7" r="1.45"/>
<circle cx="473.2" cy="201.7" r="1.45"/>
<circle cx="475.5" cy="204.7" r="1.45"/>
<circle cx="503.8" cy="158.9" r="1.45"/>
<circle cx="528.1" cy="158.4" r="1.45"/>
<circle cx="539.8" cy="208.7" r="1.45"/>
<circle cx="539.8" cy="219.0" r="1.45"/>
<circle cx="541.6" cy="219.0" r="1.45"/>
<circle cx="540.1" cy="226.5" r="1.45"/>
<circle cx="566.1" cy="172.9" r="1.45"/>
<circle cx="567.4" cy="172.9" r="1.45"/>
<circle cx="568.9" cy="177.7" r="1.45"/>
<circle cx="570.9" cy="190.7" r="1.45"/>
<circle cx="568.4" cy="201.7" r="1.45"/>
<circle cx="580.4" cy="208.7" r="1.45"/>
<circle cx="584.2" cy="240.3" r="1.45"/>
<circle cx="593.4" cy="208.7" r="1.45"/>
<circle cx="607.2" cy="226.3" r="1.45"/>
<circle cx="657.6" cy="164.4" r="1.45"/>
<circle cx="659.4" cy="190.7" r="1.45"/>
<circle cx="671.4" cy="201.7" r="1.45"/>
<circle cx="685.4" cy="199.0" r="1.45"/>
<circle cx="728.5" cy="218.7" r="1.45"/>
<circle cx="727.0" cy="239.8" r="1.45"/>
<circle cx="766.3" cy="226.3" r="1.45"/>
<circle cx="805.4" cy="239.8" r="1.45"/>
<circle cx="818.9" cy="226.3" r="1.45"/>
</g>
<line x1="90.6" x2="95.4" y1="53.5" y2="53.5" stroke="#9a9a9a" stroke-width="1.3"/>
<text x="88.4" y="58.6" font-size="14.3" text-anchor="end">1000</text>
<line x1="90.6" x2="95.4" y1="100.4" y2="100.4" stroke="#9a9a9a" stroke-width="1.3"/>
<text x="88.4" y="105.5" font-size="14.3" text-anchor="end">100</text>
<line x1="90.6" x2="95.4" y1="147.9" y2="147.9" stroke="#9a9a9a" stroke-width="1.3"/>
<text x="88.4" y="153.0" font-size="14.3" text-anchor="end">10</text>
<line x1="90.6" x2="95.4" y1="194.5" y2="194.5" stroke="#9a9a9a" stroke-width="1.3"/>
<text x="88.4" y="199.6" font-size="14.3" text-anchor="end">1</text>
<line x1="90.6" x2="95.4" y1="240.4" y2="240.4" stroke="#9a9a9a" stroke-width="1.3"/>
<text x="88.4" y="245.5" font-size="14.3" text-anchor="end">0.1</text>
<text transform="translate(51,139.3) rotate(-90)" font-size="14.3" text-anchor="middle"><tspan font-style="italic">CXCL17</tspan> (nTPM)</text>
<text x="20.6" y="48.8" font-size="23.6" fill="#000">A</text>
<text transform="translate(109.50,242.2) rotate(-90)" font-size="11.7" text-anchor="end">club</text>
<text transform="translate(122.70,242.2) rotate(-90)" font-size="11.7" text-anchor="end">ciliated</text>
<text transform="translate(135.90,242.2) rotate(-90)" font-size="11.7" text-anchor="end">basal respiratory</text>
<text transform="translate(149.10,242.2) rotate(-90)" font-size="11.7" text-anchor="end">club</text>
<text transform="translate(162.30,242.2) rotate(-90)" font-size="11.7" text-anchor="end">alveolar type 2</text>
<text transform="translate(175.50,242.2) rotate(-90)" font-size="11.7" text-anchor="end">ciliated</text>
<text transform="translate(188.70,242.2) rotate(-90)" font-size="11.7" text-anchor="end">alveolar type 1</text>
<text transform="translate(201.90,242.2) rotate(-90)" font-size="11.7" text-anchor="end">mucus</text>
<text transform="translate(215.10,242.2) rotate(-90)" font-size="11.7" text-anchor="end">mucus</text>
<text transform="translate(228.30,242.2) rotate(-90)" font-size="11.7" text-anchor="end">salivary duct</text>
<text transform="translate(241.50,242.2) rotate(-90)" font-size="11.7" text-anchor="end">serous</text>
<text transform="translate(254.70,242.2) rotate(-90)" font-size="11.7" text-anchor="end">squamous</text>
<text transform="translate(267.90,242.2) rotate(-90)" font-size="11.7" text-anchor="end">basal squamous</text>
<text transform="translate(281.10,242.2) rotate(-90)" font-size="11.7" text-anchor="end">exocrine glandular</text>
<text transform="translate(294.30,242.2) rotate(-90)" font-size="11.7" text-anchor="end">ductal</text>
<text transform="translate(307.50,242.2) rotate(-90)" font-size="11.7" text-anchor="end">serous</text>
<text transform="translate(320.70,242.2) rotate(-90)" font-size="11.7" text-anchor="end">suprabasal kc</text>
<text transform="translate(333.90,242.2) rotate(-90)" font-size="11.7" text-anchor="end">basal kc</text>
<text transform="translate(347.10,242.2) rotate(-90)" font-size="11.7" text-anchor="end">club</text>
<text transform="translate(360.30,242.2) rotate(-90)" font-size="11.7" text-anchor="end">glandular</text>
<text transform="translate(373.50,242.2) rotate(-90)" font-size="11.7" text-anchor="end">basal</text>
<text transform="translate(386.70,242.2) rotate(-90)" font-size="11.7" text-anchor="end">glandular</text>
<text transform="translate(399.90,242.2) rotate(-90)" font-size="11.7" text-anchor="end">myoepithelial</text>
<text transform="translate(413.10,242.2) rotate(-90)" font-size="11.7" text-anchor="end">adipocytes</text>
<text transform="translate(426.30,242.2) rotate(-90)" font-size="11.7" text-anchor="end">glandular &amp; luminal</text>
<text transform="translate(439.50,242.2) rotate(-90)" font-size="11.7" text-anchor="end">eciliated</text>
<text transform="translate(452.70,242.2) rotate(-90)" font-size="11.7" text-anchor="end">stroma</text>
<text transform="translate(465.90,242.2) rotate(-90)" font-size="11.7" text-anchor="end">excitatory neurons</text>
<text transform="translate(479.10,242.2) rotate(-90)" font-size="11.7" text-anchor="end">inhibitory neurons</text>
<text transform="translate(492.30,242.2) rotate(-90)" font-size="11.7" text-anchor="end">microglial</text>
<text transform="translate(505.50,242.2) rotate(-90)" font-size="11.7" text-anchor="end">cholangiocytes</text>
<text transform="translate(518.70,242.2) rotate(-90)" font-size="11.7" text-anchor="end">hepatocytes</text>
<text transform="translate(531.90,242.2) rotate(-90)" font-size="11.7" text-anchor="end">collecting duct</text>
<text transform="translate(545.10,242.2) rotate(-90)" font-size="11.7" text-anchor="end">proximal tubular</text>
<text transform="translate(558.30,242.2) rotate(-90)" font-size="11.7" text-anchor="end">distal tubular</text>
<text transform="translate(571.50,242.2) rotate(-90)" font-size="11.7" text-anchor="end">late spermatids</text>
<text transform="translate(584.70,242.2) rotate(-90)" font-size="11.7" text-anchor="end">spermatogonia</text>
<text transform="translate(597.90,242.2) rotate(-90)" font-size="11.7" text-anchor="end">spermatocytes</text>
<text transform="translate(611.10,242.2) rotate(-90)" font-size="11.7" text-anchor="end">early spermatids</text>
<text transform="translate(624.30,242.2) rotate(-90)" font-size="11.7" text-anchor="end">leydig</text>
<text transform="translate(637.50,242.2) rotate(-90)" font-size="11.7" text-anchor="end">peritubular</text>
<text transform="translate(650.70,242.2) rotate(-90)" font-size="11.7" text-anchor="end">sertoli</text>
<text transform="translate(663.90,242.2) rotate(-90)" font-size="11.7" text-anchor="end">rod photoreceptor</text>
<text transform="translate(677.10,242.2) rotate(-90)" font-size="11.7" text-anchor="end">bipolar</text>
<text transform="translate(690.30,242.2) rotate(-90)" font-size="11.7" text-anchor="end">muller glia</text>
<text transform="translate(703.50,242.2) rotate(-90)" font-size="11.7" text-anchor="end">cone photoreceptor</text>
<text transform="translate(716.70,242.2) rotate(-90)" font-size="11.7" text-anchor="end">horizontal</text>
<text transform="translate(729.90,242.2) rotate(-90)" font-size="11.7" text-anchor="end">granulosa</text>
<text transform="translate(743.10,242.2) rotate(-90)" font-size="11.7" text-anchor="end">theca</text>
<text transform="translate(756.30,242.2) rotate(-90)" font-size="11.7" text-anchor="end">suprabasal kc</text>
<text transform="translate(769.50,242.2) rotate(-90)" font-size="11.7" text-anchor="end">basal kc</text>
<text transform="translate(782.70,242.2) rotate(-90)" font-size="11.7" text-anchor="end">langerhans</text>
<text transform="translate(795.90,242.2) rotate(-90)" font-size="11.7" text-anchor="end">melanocytes</text>
<text transform="translate(809.10,242.2) rotate(-90)" font-size="11.7" text-anchor="end">extravillous troph</text>
<text transform="translate(822.30,242.2) rotate(-90)" font-size="11.7" text-anchor="end">cytotrophoblasts</text>
<text transform="translate(835.50,242.2) rotate(-90)" font-size="11.7" text-anchor="end">hofbauer</text>
<text transform="translate(848.70,242.2) rotate(-90)" font-size="11.7" text-anchor="end">syncytiotroph</text>
<text transform="translate(861.90,242.2) rotate(-90)" font-size="11.7" text-anchor="end">adipocytes</text>
<text transform="translate(875.10,242.2) rotate(-90)" font-size="11.7" text-anchor="end">distal enterocytes</text>
<text transform="translate(888.30,242.2) rotate(-90)" font-size="11.7" text-anchor="end">enteroendocrine</text>
<text transform="translate(901.50,242.2) rotate(-90)" font-size="11.7" text-anchor="end">intestinal goblet</text>
<text transform="translate(914.70,242.2) rotate(-90)" font-size="11.7" text-anchor="end">paneth</text>
<text transform="translate(927.90,242.2) rotate(-90)" font-size="11.7" text-anchor="end">distal enterocytes</text>
<text transform="translate(941.10,242.2) rotate(-90)" font-size="11.7" text-anchor="end">enteroendocrine</text>
<text transform="translate(954.30,242.2) rotate(-90)" font-size="11.7" text-anchor="end">intestinal goblet</text>
<text transform="translate(967.50,242.2) rotate(-90)" font-size="11.7" text-anchor="end">paneth</text>
<text transform="translate(980.70,242.2) rotate(-90)" font-size="11.7" text-anchor="end">myocytes</text>
<text transform="translate(993.90,242.2) rotate(-90)" font-size="11.7" text-anchor="end">enteroendocrine</text>
<text transform="translate(1007.10,242.2) rotate(-90)" font-size="11.7" text-anchor="end">intestinal goblet</text>
<text transform="translate(1020.30,242.2) rotate(-90)" font-size="11.7" text-anchor="end">paneth</text>
<text transform="translate(1033.50,242.2) rotate(-90)" font-size="11.7" text-anchor="end">prox enterocytes</text>
<text transform="translate(1046.70,242.2) rotate(-90)" font-size="11.7" text-anchor="end">epithelial</text>
<path d="M100.5 343.6V345.3H137.5V343.6" fill="none" stroke="#8c8c8c" stroke-width="1"/>
<text transform="translate(125.4,351.2) rotate(-45)" font-size="12" text-anchor="end">bronchus</text>
<path d="M140.1 343.6V345.3H190.3V343.6" fill="none" stroke="#8c8c8c" stroke-width="1"/>
<text transform="translate(171.6,351.2) rotate(-45)" font-size="12" text-anchor="end">lung</text>
<path d="M192.9 343.6V345.3H203.5V343.6" fill="none" stroke="#8c8c8c" stroke-width="1"/>
<text transform="translate(204.6,351.2) rotate(-45)" font-size="12" text-anchor="end">stomach</text>
<path d="M206.1 343.6V345.3H243.1V343.6" fill="none" stroke="#8c8c8c" stroke-width="1"/>
<text transform="translate(231.0,351.2) rotate(-45)" font-size="12" text-anchor="end">salivary gland</text>
<path d="M245.7 343.6V345.3H269.5V343.6" fill="none" stroke="#8c8c8c" stroke-width="1"/>
<text transform="translate(264.0,351.2) rotate(-45)" font-size="12" text-anchor="end">esophagus</text>
<path d="M272.1 343.6V345.3H295.9V343.6" fill="none" stroke="#8c8c8c" stroke-width="1"/>
<text transform="translate(290.4,351.2) rotate(-45)" font-size="12" text-anchor="end">pancreas</text>
<path d="M298.5 343.6V345.3H335.5V343.6" fill="none" stroke="#8c8c8c" stroke-width="1"/>
<text transform="translate(323.4,351.2) rotate(-45)" font-size="12" text-anchor="end">tongue</text>
<path d="M338.1 343.6V345.3H375.1V343.6" fill="none" stroke="#8c8c8c" stroke-width="1"/>
<text transform="translate(363.0,351.2) rotate(-45)" font-size="12" text-anchor="end">prostate</text>
<path d="M377.7 343.6V345.3H414.7V343.6" fill="none" stroke="#8c8c8c" stroke-width="1"/>
<text transform="translate(402.6,351.2) rotate(-45)" font-size="12" text-anchor="end">breast</text>
<path d="M417.3 343.6V345.3H454.3V343.6" fill="none" stroke="#8c8c8c" stroke-width="1"/>
<text transform="translate(442.2,351.2) rotate(-45)" font-size="12" text-anchor="end">endometrium</text>
<path d="M456.9 343.6V345.3H493.9V343.6" fill="none" stroke="#8c8c8c" stroke-width="1"/>
<text transform="translate(481.8,351.2) rotate(-45)" font-size="12" text-anchor="end">brain</text>
<path d="M496.5 343.6V345.3H520.3V343.6" fill="none" stroke="#8c8c8c" stroke-width="1"/>
<text transform="translate(514.8,351.2) rotate(-45)" font-size="12" text-anchor="end">liver</text>
<path d="M522.9 343.6V345.3H559.9V343.6" fill="none" stroke="#8c8c8c" stroke-width="1"/>
<text transform="translate(547.8,351.2) rotate(-45)" font-size="12" text-anchor="end">kidney</text>
<path d="M562.5 343.6V345.3H652.3V343.6" fill="none" stroke="#8c8c8c" stroke-width="1"/>
<text transform="translate(613.8,351.2) rotate(-45)" font-size="12" text-anchor="end">testis</text>
<path d="M654.9 343.6V345.3H718.3V343.6" fill="none" stroke="#8c8c8c" stroke-width="1"/>
<text transform="translate(693.0,351.2) rotate(-45)" font-size="12" text-anchor="end">eye</text>
<path d="M720.9 343.6V345.3H744.7V343.6" fill="none" stroke="#8c8c8c" stroke-width="1"/>
<text transform="translate(739.2,351.2) rotate(-45)" font-size="12" text-anchor="end">ovary</text>
<path d="M747.3 343.6V345.3H797.5V343.6" fill="none" stroke="#8c8c8c" stroke-width="1"/>
<text transform="translate(778.8,351.2) rotate(-45)" font-size="12" text-anchor="end">skin</text>
<path d="M800.1 343.6V345.3H850.3V343.6" fill="none" stroke="#8c8c8c" stroke-width="1"/>
<text transform="translate(831.6,351.2) rotate(-45)" font-size="12" text-anchor="end">placenta</text>
<path d="M852.9 343.6V345.3H863.5V343.6" fill="none" stroke="#8c8c8c" stroke-width="1"/>
<text transform="translate(864.6,351.2) rotate(-45)" font-size="12" text-anchor="end">adipose tissue</text>
<path d="M866.1 343.6V345.3H916.3V343.6" fill="none" stroke="#8c8c8c" stroke-width="1"/>
<text transform="translate(897.6,351.2) rotate(-45)" font-size="12" text-anchor="end">colon</text>
<path d="M918.9 343.6V345.3H969.1V343.6" fill="none" stroke="#8c8c8c" stroke-width="1"/>
<text transform="translate(950.4,351.2) rotate(-45)" font-size="12" text-anchor="end">rectum</text>
<path d="M971.7 343.6V345.3H982.3V343.6" fill="none" stroke="#8c8c8c" stroke-width="1"/>
<text transform="translate(983.4,351.2) rotate(-45)" font-size="12" text-anchor="end">skeletal muscle</text>
<path d="M984.9 343.6V345.3H1035.1V343.6" fill="none" stroke="#8c8c8c" stroke-width="1"/>
<text transform="translate(1016.4,351.2) rotate(-45)" font-size="12" text-anchor="end">small intestine</text>
<path d="M1037.7 343.6V345.3H1048.3V343.6" fill="none" stroke="#8c8c8c" stroke-width="1"/>
<text transform="translate(1049.4,351.2) rotate(-45)" font-size="12" text-anchor="end">thymus</text>
</g>
<g font-family='"Liberation Sans", Arial, sans-serif' fill="#111">
<text x="21.4" y="426.6" font-size="23" fill="#000">B</text>
<text x="96" y="431.7" font-size="9.45" text-anchor="end" fill="#111" stroke="#111" stroke-width=".15">Transit epi</text>
<line x1="98.1" x2="98.1" y1="418.2" y2="439.0" stroke="#8a8a8a" stroke-width="1.2"/>
<text x="98.9" y="424.2" font-size="9.6" fill="#000" stroke="#000" stroke-width=".12">N</text>
<polygon points="114.1,420.50 120.0,419.90 124.0,418.60 128.4,417.40 133.0,417.80 138.0,419.20 144.0,419.90 150.0,420.40 153.7,420.65 153.7,420.95 150.0,421.20 144.0,421.70 138.0,422.40 133.0,423.80 128.4,424.20 124.0,423.00 120.0,421.70 114.1,421.10" fill="#F285C0" stroke="#F285C0" stroke-width="0.5" stroke-linejoin="round"/>
<line x1="121.5" x2="136.0" y1="420.8" y2="420.8" stroke="#000" stroke-width="0.5" opacity=".7"/>
<circle cx="121.5" cy="420.8" r="0.95" fill="#000"/>
<circle cx="131.5" cy="420.8" r="0.95" fill="#000"/>
<circle cx="133.0" cy="420.8" r="0.95" fill="#000"/>
<circle cx="134.5" cy="420.8" r="0.95" fill="#000"/>
<circle cx="136.0" cy="420.8" r="0.95" fill="#000"/>
<text x="98.9" y="432.1" font-size="9.6" fill="#000" stroke="#000" stroke-width=".12">T</text>
<polygon points="113.0,428.01 116.0,426.21 120.3,425.51 125.0,426.01 129.0,427.41 133.0,428.11 138.0,428.06 141.8,428.41 141.8,428.81 138.0,429.16 133.0,429.11 129.0,429.81 125.0,431.21 120.3,431.71 116.0,431.01 113.0,429.21" fill="#F285C0" stroke="#F285C0" stroke-width="0.5" stroke-linejoin="round"/>
<line x1="118.7" x2="137.0" y1="428.6" y2="428.6" stroke="#000" stroke-width="0.5" opacity=".7"/>
<circle cx="118.7" cy="428.6" r="0.95" fill="#000"/>
<circle cx="120.5" cy="428.6" r="0.95" fill="#000"/>
<circle cx="122.0" cy="428.6" r="0.95" fill="#000"/>
<circle cx="124.0" cy="428.6" r="0.95" fill="#000"/>
<circle cx="126.0" cy="428.6" r="0.95" fill="#000"/>
<circle cx="128.4" cy="428.6" r="0.95" fill="#000"/>
<circle cx="137.0" cy="428.6" r="0.95" fill="#000"/>
<text x="98.9" y="439.9" font-size="9.6" fill="#000" stroke="#000" stroke-width=".12">B</text>
<polygon points="114.1,434.82 118.0,435.02 123.0,435.42 128.0,434.62 134.1,433.12 139.0,434.22 144.0,435.32 148.0,434.92 151.5,434.32 152.5,434.62 152.5,438.22 151.5,438.52 148.0,437.92 144.0,437.52 139.0,438.62 134.1,439.72 128.0,438.22 123.0,437.42 118.0,437.82 114.1,438.02" fill="#F285C0" stroke="#F285C0" stroke-width="0.5" stroke-linejoin="round"/>
<circle cx="133.8" cy="436.4" r="1.15" fill="#000"/>
<text x="96" y="451.2" font-size="9.45" text-anchor="end" fill="#111" stroke="#111" stroke-width=".15">Squamous</text>
<line x1="98.1" x2="98.1" y1="441.6" y2="454.6" stroke="#8a8a8a" stroke-width="1.2"/>
<text x="98.9" y="447.7" font-size="9.6" fill="#000" stroke="#000" stroke-width=".12">N</text>
<polygon points="119.5,443.82 123.0,443.02 127.0,441.62 132.5,440.92 137.0,441.42 140.0,442.62 141.8,443.62 141.8,444.82 140.0,445.82 137.0,447.02 132.5,447.52 127.0,446.82 123.0,445.42 119.5,444.62" fill="#22A67A" stroke="#22A67A" stroke-width="0.5" stroke-linejoin="round"/>
<line x1="127.0" x2="136.5" y1="444.2" y2="444.2" stroke="#000" stroke-width="0.5" opacity=".7"/>
<circle cx="127.0" cy="444.2" r="0.95" fill="#000"/>
<circle cx="129.0" cy="444.2" r="0.95" fill="#000"/>
<circle cx="130.5" cy="444.2" r="0.95" fill="#000"/>
<circle cx="132.0" cy="444.2" r="0.95" fill="#000"/>
<circle cx="133.5" cy="444.2" r="0.95" fill="#000"/>
<circle cx="136.5" cy="444.2" r="0.95" fill="#000"/>
<text x="98.9" y="455.5" font-size="9.6" fill="#000" stroke="#000" stroke-width=".12">T</text>
<polygon points="119.8,450.23 121.0,449.03 125.0,448.63 131.0,448.83 136.0,448.73 139.0,449.43 139.8,450.83 139.8,453.23 139.0,454.63 136.0,455.33 131.0,455.23 125.0,455.43 121.0,455.03 119.8,453.83" fill="#22A67A" stroke="#22A67A" stroke-width="0.5" stroke-linejoin="round"/>
<line x1="124.4" x2="134.0" y1="452.0" y2="452.0" stroke="#000" stroke-width="0.5" opacity=".7"/>
<circle cx="124.4" cy="452.0" r="0.95" fill="#000"/>
<circle cx="127.0" cy="452.0" r="0.95" fill="#000"/>
<circle cx="129.0" cy="452.0" r="0.95" fill="#000"/>
<circle cx="131.0" cy="452.0" r="0.95" fill="#000"/>
<circle cx="134.0" cy="452.0" r="0.95" fill="#000"/>
<text x="96" y="470.7" font-size="9.45" text-anchor="end" fill="#111" stroke="#111" stroke-width=".15">Secretory</text>
<line x1="98.1" x2="98.1" y1="457.2" y2="478.1" stroke="#8a8a8a" stroke-width="1.2"/>
<text x="98.9" y="463.3" font-size="9.6" fill="#000" stroke="#000" stroke-width=".12">N</text>
<polygon points="114.6,459.64 122.0,459.14 130.0,458.24 135.0,456.94 139.0,456.24 143.0,457.04 148.0,458.34 154.0,459.14 161.3,459.69 161.3,459.99 154.0,460.54 148.0,461.34 143.0,462.64 139.0,463.44 135.0,462.74 130.0,461.44 122.0,460.54 114.6,460.04" fill="#FFC40F" stroke="#FFC40F" stroke-width="0.5" stroke-linejoin="round"/>
<line x1="135.0" x2="145.5" y1="459.8" y2="459.8" stroke="#000" stroke-width="0.5" opacity=".7"/>
<circle cx="135.0" cy="459.8" r="0.95" fill="#000"/>
<circle cx="137.5" cy="459.8" r="0.95" fill="#000"/>
<circle cx="139.5" cy="459.8" r="0.95" fill="#000"/>
<circle cx="141.0" cy="459.8" r="0.95" fill="#000"/>
<circle cx="145.5" cy="459.8" r="0.95" fill="#000"/>
<text x="98.9" y="471.1" font-size="9.6" fill="#000" stroke="#000" stroke-width=".12">T</text>
<polygon points="113.0,465.85 115.0,464.75 120.0,464.25 128.0,464.45 136.0,464.65 144.0,465.25 152.0,466.15 158.0,466.85 163.4,467.45 163.4,467.85 158.0,468.45 152.0,469.15 144.0,470.05 136.0,470.65 128.0,470.85 120.0,471.05 115.0,470.55 113.0,469.45" fill="#FFC40F" stroke="#FFC40F" stroke-width="0.5" stroke-linejoin="round"/>
<line x1="130.0" x2="139.0" y1="467.6" y2="467.6" stroke="#000" stroke-width="0.5" opacity=".7"/>
<circle cx="130.0" cy="467.6" r="0.95" fill="#000"/>
<circle cx="133.0" cy="467.6" r="0.95" fill="#000"/>
<circle cx="135.0" cy="467.6" r="0.95" fill="#000"/>
<circle cx="137.0" cy="467.6" r="0.95" fill="#000"/>
<circle cx="139.0" cy="467.6" r="0.95" fill="#000"/>
<text x="98.9" y="478.9" font-size="9.6" fill="#000" stroke="#000" stroke-width=".12">B</text>
<polygon points="126.8,474.66 129.0,473.26 133.0,472.36 138.0,472.16 140.5,472.46 141.1,473.96 141.1,476.96 140.5,478.46 138.0,478.76 133.0,478.56 129.0,477.66 126.8,476.26" fill="#FFC40F" stroke="#FFC40F" stroke-width="0.5" stroke-linejoin="round"/>
<circle cx="135.4" cy="475.5" r="1.15" fill="#000"/>
<text x="96" y="490.3" font-size="9.45" text-anchor="end" fill="#111" stroke="#111" stroke-width=".15">Hillock</text>
<line x1="98.1" x2="98.1" y1="480.7" y2="493.7" stroke="#8a8a8a" stroke-width="1.2"/>
<text x="98.9" y="486.7" font-size="9.6" fill="#000" stroke="#000" stroke-width=".12">N</text>
<polygon points="114.6,483.06 119.0,482.26 124.0,480.86 130.9,479.96 136.0,480.66 140.0,481.96 144.0,482.76 146.7,483.06 146.7,483.46 144.0,483.76 140.0,484.56 136.0,485.86 130.9,486.56 124.0,485.66 119.0,484.26 114.6,483.46" fill="#2C2F9F" stroke="#2C2F9F" stroke-width="0.5" stroke-linejoin="round"/>
<line x1="127.0" x2="145.5" y1="483.3" y2="483.3" stroke="#000" stroke-width="0.5" opacity=".7"/>
<circle cx="127.0" cy="483.3" r="0.95" fill="#000"/>
<circle cx="129.5" cy="483.3" r="0.95" fill="#000"/>
<circle cx="131.5" cy="483.3" r="0.95" fill="#000"/>
<circle cx="133.0" cy="483.3" r="0.95" fill="#000"/>
<circle cx="136.0" cy="483.3" r="0.95" fill="#000"/>
<circle cx="145.5" cy="483.3" r="0.95" fill="#000"/>
<text x="98.9" y="494.5" font-size="9.6" fill="#000" stroke="#000" stroke-width=".12">T</text>
<polygon points="115.9,489.07 117.5,487.87 122.0,487.47 127.0,487.87 132.0,488.77 136.0,489.87 139.0,490.67 139.0,491.47 136.0,492.27 132.0,493.37 127.0,494.27 122.0,494.67 117.5,494.27 115.9,493.07" fill="#2C2F9F" stroke="#2C2F9F" stroke-width="0.5" stroke-linejoin="round"/>
<line x1="124.5" x2="133.0" y1="491.1" y2="491.1" stroke="#000" stroke-width="0.5" opacity=".7"/>
<circle cx="124.5" cy="491.1" r="0.95" fill="#000"/>
<circle cx="127.0" cy="491.1" r="0.95" fill="#000"/>
<circle cx="129.0" cy="491.1" r="0.95" fill="#000"/>
<circle cx="131.0" cy="491.1" r="0.95" fill="#000"/>
<circle cx="133.0" cy="491.1" r="0.95" fill="#000"/>
<text x="96" y="505.9" font-size="9.45" text-anchor="end" fill="#111" stroke="#111" stroke-width=".15">Goblet</text>
<line x1="98.1" x2="98.1" y1="496.3" y2="509.3" stroke="#8a8a8a" stroke-width="1.2"/>
<text x="98.9" y="502.3" font-size="9.6" fill="#000" stroke="#000" stroke-width=".12">N</text>
<polygon points="126.8,498.68 131.0,497.88 136.0,496.58 142.3,495.48 147.0,496.18 152.0,497.28 157.0,498.08 162.6,498.73 162.6,499.03 157.0,499.68 152.0,500.48 147.0,501.58 142.3,502.28 136.0,501.18 131.0,499.88 126.8,499.08" fill="#F36D45" stroke="#F36D45" stroke-width="0.5" stroke-linejoin="round"/>
<line x1="138.5" x2="147.0" y1="498.9" y2="498.9" stroke="#000" stroke-width="0.5" opacity=".7"/>
<circle cx="138.5" cy="498.9" r="0.95" fill="#000"/>
<circle cx="140.5" cy="498.9" r="0.95" fill="#000"/>
<circle cx="142.5" cy="498.9" r="0.95" fill="#000"/>
<circle cx="144.0" cy="498.9" r="0.95" fill="#000"/>
<circle cx="147.0" cy="498.9" r="0.95" fill="#000"/>
<text x="98.9" y="510.1" font-size="9.6" fill="#000" stroke="#000" stroke-width=".12">T</text>
<polygon points="137.4,504.29 138.5,503.49 145.0,503.39 151.8,503.49 152.9,504.39 152.9,508.99 151.8,509.89 145.0,509.99 138.5,509.89 137.4,509.09" fill="#F36D45" stroke="#F36D45" stroke-width="0.5" stroke-linejoin="round"/>
<line x1="140.0" x2="146.0" y1="506.7" y2="506.7" stroke="#000" stroke-width="0.5" opacity=".7"/>
<circle cx="140.0" cy="506.7" r="0.95" fill="#000"/>
<circle cx="142.0" cy="506.7" r="0.95" fill="#000"/>
<circle cx="143.5" cy="506.7" r="0.95" fill="#000"/>
<circle cx="146.0" cy="506.7" r="0.95" fill="#000"/>
<text x="96" y="521.5" font-size="9.45" text-anchor="end" fill="#111" stroke="#111" stroke-width=".15">Duct</text>
<line x1="98.1" x2="98.1" y1="511.9" y2="524.9" stroke="#8a8a8a" stroke-width="1.2"/>
<text x="98.9" y="517.9" font-size="9.6" fill="#000" stroke="#000" stroke-width=".12">N</text>
<polygon points="126.0,514.35 132.0,514.00 138.0,513.20 144.0,511.90 150.0,511.10 155.0,511.50 159.0,512.70 161.8,513.90 161.8,515.10 159.0,516.30 155.0,517.50 150.0,517.90 144.0,517.10 138.0,515.80 132.0,515.00 126.0,514.65" fill="#F9A21C" stroke="#F9A21C" stroke-width="0.5" stroke-linejoin="round"/>
<line x1="141.0" x2="153.0" y1="514.5" y2="514.5" stroke="#000" stroke-width="0.5" opacity=".7"/>
<circle cx="141.0" cy="514.5" r="0.95" fill="#000"/>
<circle cx="146.0" cy="514.5" r="0.95" fill="#000"/>
<circle cx="148.0" cy="514.5" r="0.95" fill="#000"/>
<circle cx="150.0" cy="514.5" r="0.95" fill="#000"/>
<circle cx="152.0" cy="514.5" r="0.95" fill="#000"/>
<circle cx="153.0" cy="514.5" r="0.95" fill="#000"/>
<text x="98.9" y="525.8" font-size="9.6" fill="#000" stroke="#000" stroke-width=".12">T</text>
<polygon points="122.2,521.90 127.0,521.60 132.0,520.80 137.0,519.50 140.6,519.10 145.0,520.00 149.0,521.20 153.0,521.60 155.8,522.10 155.8,522.50 153.0,523.00 149.0,523.40 145.0,524.60 140.6,525.50 137.0,525.10 132.0,523.80 127.0,523.00 122.2,522.70" fill="#F9A21C" stroke="#F9A21C" stroke-width="0.5" stroke-linejoin="round"/>
<line x1="123.5" x2="143.0" y1="522.3" y2="522.3" stroke="#000" stroke-width="0.5" opacity=".7"/>
<circle cx="123.5" cy="522.3" r="0.95" fill="#000"/>
<circle cx="129.0" cy="522.3" r="0.95" fill="#000"/>
<circle cx="133.5" cy="522.3" r="0.95" fill="#000"/>
<circle cx="136.0" cy="522.3" r="0.95" fill="#000"/>
<circle cx="138.5" cy="522.3" r="0.95" fill="#000"/>
<circle cx="141.0" cy="522.3" r="0.95" fill="#000"/>
<circle cx="143.0" cy="522.3" r="0.95" fill="#000"/>
<text x="96" y="541.0" font-size="9.45" text-anchor="end" fill="#111" stroke="#111" stroke-width=".15">Deuterosomal</text>
<line x1="98.1" x2="98.1" y1="527.5" y2="548.3" stroke="#8a8a8a" stroke-width="1.2"/>
<text x="98.9" y="533.6" font-size="9.6" fill="#000" stroke="#000" stroke-width=".12">N</text>
<polygon points="111.3,527.91 113.0,526.81 118.0,526.51 124.0,527.11 132.0,527.61 140.0,528.31 148.0,529.21 154.8,529.91 154.8,530.31 148.0,531.01 140.0,531.91 132.0,532.61 124.0,533.11 118.0,533.71 113.0,533.41 111.3,532.31" fill="#7A5A1F" stroke="#7A5A1F" stroke-width="0.5" stroke-linejoin="round"/>
<line x1="122.0" x2="142.0" y1="530.1" y2="530.1" stroke="#000" stroke-width="0.5" opacity=".7"/>
<circle cx="122.0" cy="530.1" r="0.95" fill="#000"/>
<circle cx="127.0" cy="530.1" r="0.95" fill="#000"/>
<circle cx="129.5" cy="530.1" r="0.95" fill="#000"/>
<circle cx="132.0" cy="530.1" r="0.95" fill="#000"/>
<circle cx="135.0" cy="530.1" r="0.95" fill="#000"/>
<circle cx="139.0" cy="530.1" r="0.95" fill="#000"/>
<circle cx="142.0" cy="530.1" r="0.95" fill="#000"/>
<text x="98.9" y="541.4" font-size="9.6" fill="#000" stroke="#000" stroke-width=".12">T</text>
<polygon points="111.8,535.72 113.5,534.82 119.0,534.72 126.0,535.32 134.0,535.82 142.0,536.42 149.3,537.02 149.3,538.82 142.0,539.42 134.0,540.02 126.0,540.52 119.0,541.12 113.5,541.02 111.8,540.12" fill="#7A5A1F" stroke="#7A5A1F" stroke-width="0.5" stroke-linejoin="round"/>
<line x1="127.0" x2="139.5" y1="537.9" y2="537.9" stroke="#000" stroke-width="0.5" opacity=".7"/>
<circle cx="127.0" cy="537.9" r="0.95" fill="#000"/>
<circle cx="130.0" cy="537.9" r="0.95" fill="#000"/>
<circle cx="132.5" cy="537.9" r="0.95" fill="#000"/>
<circle cx="136.0" cy="537.9" r="0.95" fill="#000"/>
<circle cx="139.5" cy="537.9" r="0.95" fill="#000"/>
<text x="98.9" y="549.2" font-size="9.6" fill="#000" stroke="#000" stroke-width=".12">B</text>
<polygon points="112.1,543.73 114.0,543.23 120.0,543.33 125.0,544.43 128.0,544.63 131.0,543.33 134.9,542.23 139.0,543.13 143.0,544.33 146.7,545.33 146.7,546.13 143.0,547.13 139.0,548.33 134.9,549.23 131.0,548.13 128.0,546.83 125.0,547.03 120.0,548.13 114.0,548.23 112.1,547.73" fill="#7A5A1F" stroke="#7A5A1F" stroke-width="0.5" stroke-linejoin="round"/>
<circle cx="128.4" cy="545.7" r="1.15" fill="#000"/>
<text x="96" y="564.4" font-size="9.45" text-anchor="end" fill="#111" stroke="#111" stroke-width=".15">Club</text>
<line x1="98.1" x2="98.1" y1="550.9" y2="571.8" stroke="#8a8a8a" stroke-width="1.2"/>
<text x="98.9" y="557.0" font-size="9.6" fill="#000" stroke="#000" stroke-width=".12">N</text>
<polygon points="132.5,552.34 134.5,550.54 140.0,550.24 150.0,550.14 157.0,550.54 159.7,552.14 159.7,554.94 157.0,556.54 150.0,556.94 140.0,556.84 134.5,556.54 132.5,554.74" fill="#AA4FB6" stroke="#AA4FB6" stroke-width="0.5" stroke-linejoin="round"/>
<line x1="140.5" x2="152.5" y1="553.5" y2="553.5" stroke="#000" stroke-width="0.5" opacity=".7"/>
<circle cx="140.5" cy="553.5" r="0.95" fill="#000"/>
<circle cx="145.0" cy="553.5" r="0.95" fill="#000"/>
<circle cx="147.5" cy="553.5" r="0.95" fill="#000"/>
<circle cx="150.0" cy="553.5" r="0.95" fill="#000"/>
<circle cx="152.5" cy="553.5" r="0.95" fill="#000"/>
<text x="98.9" y="564.8" font-size="9.6" fill="#000" stroke="#000" stroke-width=".12">T</text>
<polygon points="129.2,561.04 134.0,560.14 140.0,558.84 148.0,558.04 154.0,558.74 160.0,560.14 165.6,561.14 165.6,561.54 160.0,562.54 154.0,563.94 148.0,564.64 140.0,563.84 134.0,562.54 129.2,561.64" fill="#AA4FB6" stroke="#AA4FB6" stroke-width="0.5" stroke-linejoin="round"/>
<line x1="145.0" x2="151.5" y1="561.3" y2="561.3" stroke="#000" stroke-width="0.5" opacity=".7"/>
<circle cx="145.0" cy="561.3" r="0.95" fill="#000"/>
<circle cx="147.5" cy="561.3" r="0.95" fill="#000"/>
<circle cx="149.5" cy="561.3" r="0.95" fill="#000"/>
<circle cx="151.5" cy="561.3" r="0.95" fill="#000"/>
<text x="98.9" y="572.6" font-size="9.6" fill="#000" stroke="#000" stroke-width=".12">B</text>
<polygon points="130.9,568.65 134.0,567.35 138.0,566.05 142.3,565.35 147.0,566.15 151.0,567.55 154.5,568.75 154.5,569.55 151.0,570.75 147.0,572.15 142.3,572.95 138.0,572.25 134.0,570.95 130.9,569.65" fill="#AA4FB6" stroke="#AA4FB6" stroke-width="0.5" stroke-linejoin="round"/>
<circle cx="142.6" cy="569.2" r="1.15" fill="#000"/>
<text x="96" y="587.9" font-size="9.45" text-anchor="end" fill="#111" stroke="#111" stroke-width=".15">Ciliated</text>
<line x1="98.1" x2="98.1" y1="574.4" y2="595.2" stroke="#8a8a8a" stroke-width="1.2"/>
<text x="98.9" y="580.4" font-size="9.6" fill="#000" stroke="#000" stroke-width=".12">N</text>
<linearGradient id="cg20" gradientUnits="userSpaceOnUse" x1="122" x2="139" y1="0" y2="0"><stop offset="0" stop-color="#20B3D1"/><stop offset="1" stop-color="#20B3D1" stop-opacity=".15"/></linearGradient>
<polygon points="112.1,576.46 115.0,574.76 117.8,573.36 120.5,574.76 123.0,575.96 127.0,576.46 133.0,576.71 139.0,576.86 139.0,577.06 133.0,577.21 127.0,577.46 123.0,577.96 120.5,579.16 117.8,580.56 115.0,579.16 112.1,577.46" fill="url(#cg20)" stroke="url(#cg20)" stroke-width="0.5" stroke-linejoin="round"/>
<circle cx="118.3" cy="577.0" r="1.15" fill="#000"/>
<text x="98.9" y="588.2" font-size="9.6" fill="#000" stroke="#000" stroke-width=".12">T</text>
<linearGradient id="cg21" gradientUnits="userSpaceOnUse" x1="122" x2="138.2" y1="0" y2="0"><stop offset="0" stop-color="#20B3D1"/><stop offset="1" stop-color="#20B3D1" stop-opacity=".15"/></linearGradient>
<polygon points="112.1,584.27 115.0,582.57 118.0,581.17 120.8,582.57 123.0,583.87 127.0,584.37 133.0,584.57 138.2,584.67 138.2,584.87 133.0,584.97 127.0,585.17 123.0,585.67 120.8,586.97 118.0,588.37 115.0,586.97 112.1,585.27" fill="url(#cg21)" stroke="url(#cg21)" stroke-width="0.5" stroke-linejoin="round"/>
<circle cx="119.0" cy="584.8" r="1.15" fill="#000"/>
<text x="98.9" y="596.0" font-size="9.6" fill="#000" stroke="#000" stroke-width=".12">B</text>
<linearGradient id="cg22" gradientUnits="userSpaceOnUse" x1="122" x2="145.5" y1="0" y2="0"><stop offset="0" stop-color="#20B3D1"/><stop offset="1" stop-color="#20B3D1" stop-opacity=".15"/></linearGradient>
<polygon points="112.4,592.18 115.0,590.88 117.8,589.48 120.0,590.88 122.0,591.98 128.0,592.33 138.0,592.43 145.5,592.50 145.5,592.66 138.0,592.73 128.0,592.83 122.0,593.18 120.0,594.28 117.8,595.68 115.0,594.28 112.4,592.98" fill="url(#cg22)" stroke="url(#cg22)" stroke-width="0.5" stroke-linejoin="round"/>
<circle cx="117.8" cy="592.6" r="1.15" fill="#000"/>
<text x="96" y="611.3" font-size="9.45" text-anchor="end" fill="#111" stroke="#111" stroke-width=".15">Basal</text>
<line x1="98.1" x2="98.1" y1="597.8" y2="618.6" stroke="#8a8a8a" stroke-width="1.2"/>
<text x="98.9" y="603.8" font-size="9.6" fill="#000" stroke="#000" stroke-width=".12">N</text>
<polygon points="113.0,599.98 118.0,598.98 124.0,597.58 130.9,596.78 137.0,597.58 142.0,598.88 148.3,600.08 148.3,600.68 142.0,601.88 137.0,603.18 130.9,603.98 124.0,603.18 118.0,601.78 113.0,600.78" fill="#6AA533" stroke="#6AA533" stroke-width="0.5" stroke-linejoin="round"/>
<line x1="127.8" x2="133.0" y1="600.4" y2="600.4" stroke="#000" stroke-width="0.5" opacity=".7"/>
<circle cx="127.8" cy="600.4" r="0.95" fill="#000"/>
<circle cx="130.0" cy="600.4" r="0.95" fill="#000"/>
<circle cx="131.5" cy="600.4" r="0.95" fill="#000"/>
<circle cx="133.0" cy="600.4" r="0.95" fill="#000"/>
<text x="98.9" y="611.6" font-size="9.6" fill="#000" stroke="#000" stroke-width=".12">T</text>
<polygon points="116.2,607.79 121.0,606.79 127.0,605.49 133.3,604.79 139.0,605.69 144.0,606.89 148.3,607.69 148.3,608.69 144.0,609.49 139.0,610.69 133.3,611.59 127.0,610.89 121.0,609.59 116.2,608.59" fill="#6AA533" stroke="#6AA533" stroke-width="0.5" stroke-linejoin="round"/>
<line x1="131.0" x2="136.5" y1="608.2" y2="608.2" stroke="#000" stroke-width="0.5" opacity=".7"/>
<circle cx="131.0" cy="608.2" r="0.95" fill="#000"/>
<circle cx="133.0" cy="608.2" r="0.95" fill="#000"/>
<circle cx="134.5" cy="608.2" r="0.95" fill="#000"/>
<circle cx="136.5" cy="608.2" r="0.95" fill="#000"/>
<text x="98.9" y="619.5" font-size="9.6" fill="#000" stroke="#000" stroke-width=".12">B</text>
<polygon points="118.7,614.40 120.3,615.80 122.0,615.80 123.5,614.60 126.8,613.00 129.5,614.40 131.5,614.80 133.0,615.20 133.0,616.80 131.5,617.20 129.5,617.60 126.8,619.00 123.5,617.40 122.0,616.20 120.3,616.20 118.7,617.60" fill="#6AA533" stroke="#6AA533" stroke-width="0.5" stroke-linejoin="round"/>
<circle cx="126.8" cy="616.0" r="1.15" fill="#000"/>
<polygon points="184.2,442.6 188.7,443.7 191,444.1 191,444.4 188.7,444.7 184.2,445.8" fill="#22A67A" opacity="0.5"/>
<polygon points="184.2,458.2 188.7,459.3 190,459.7 190,460.0 188.7,460.3 184.2,461.4" fill="#FFC40F" opacity="0.3"/>
<polygon points="184.2,481.7 188.7,482.8 224,483.1 224,483.4 188.7,483.8 184.2,484.9" fill="#2C2F9F" opacity="0.35"/>
<polygon points="184.2,489.5 188.7,490.6 207.5,490.9 207.5,491.2 188.7,491.6 184.2,492.7" fill="#2C2F9F" opacity="0.6"/>
<polygon points="184.2,497.3 188.7,498.4 190,498.7 190,499.0 188.7,499.4 184.2,500.5" fill="#F36D45" opacity="0.3"/>
<polygon points="184.2,598.8 188.7,599.9 191,600.2 191,600.5 188.7,600.9 184.2,602.0" fill="#6AA533" opacity="0.3"/>
<polygon points="184.2,606.6 188.7,607.7 195,608.0 195,608.3 188.7,608.7 184.2,609.8" fill="#6AA533" opacity="0.3"/>
<circle cx="185.7" cy="420.8" r="1.25" fill="#000"/>
<circle cx="185.7" cy="428.6" r="1.25" fill="#000"/>
<circle cx="185.7" cy="436.4" r="1.25" fill="#000"/>
<circle cx="185.7" cy="444.2" r="1.25" fill="#000"/>
<circle cx="185.7" cy="452.0" r="1.25" fill="#000"/>
<circle cx="185.7" cy="459.8" r="1.25" fill="#000"/>
<circle cx="185.7" cy="467.6" r="1.25" fill="#000"/>
<circle cx="185.7" cy="475.5" r="1.25" fill="#000"/>
<circle cx="185.7" cy="483.3" r="1.25" fill="#000"/>
<circle cx="185.7" cy="491.1" r="1.25" fill="#000"/>
<circle cx="185.7" cy="498.9" r="1.25" fill="#000"/>
<circle cx="185.7" cy="506.7" r="1.25" fill="#000"/>
<circle cx="185.7" cy="514.5" r="1.25" fill="#000"/>
<circle cx="185.7" cy="522.3" r="1.25" fill="#000"/>
<circle cx="185.7" cy="530.1" r="1.25" fill="#000"/>
<circle cx="185.7" cy="537.9" r="1.25" fill="#000"/>
<circle cx="185.7" cy="545.7" r="1.25" fill="#000"/>
<circle cx="185.7" cy="553.5" r="1.25" fill="#000"/>
<circle cx="185.7" cy="561.3" r="1.25" fill="#000"/>
<circle cx="185.7" cy="569.2" r="1.25" fill="#000"/>
<circle cx="185.7" cy="577.0" r="1.25" fill="#000"/>
<circle cx="185.7" cy="584.8" r="1.25" fill="#000"/>
<circle cx="185.7" cy="592.6" r="1.25" fill="#000"/>
<circle cx="185.7" cy="600.4" r="1.25" fill="#000"/>
<circle cx="185.7" cy="608.2" r="1.25" fill="#000"/>
<circle cx="185.7" cy="616.0" r="1.25" fill="#000"/>
<polygon points="255.2,419.2 259.7,420.3 261,420.7 261,420.9 259.7,421.3 255.2,422.4" fill="#F285C0" opacity="0.3"/>
<polygon points="255.2,442.6 259.7,443.7 262,444.1 262,444.4 259.7,444.7 255.2,445.8" fill="#22A67A" opacity="0.4"/>
<polygon points="255.2,458.2 259.7,459.3 269.5,459.7 269.5,460.0 259.7,460.3 255.2,461.4" fill="#FFC40F" opacity="0.35"/>
<polygon points="255.2,497.3 259.7,498.4 267,498.7 267,499.0 259.7,499.4 255.2,500.5" fill="#F36D45" opacity="0.35"/>
<polygon points="255.2,528.5 259.7,529.6 262,530.0 262,530.3 259.7,530.6 255.2,531.7" fill="#7A5A1F" opacity="0.25"/>
<polygon points="255.2,575.4 259.7,576.5 280,576.8 280,577.1 259.7,577.5 255.2,578.6" fill="#20B3D1" opacity="0.5"/>
<polygon points="255.2,583.2 259.7,584.3 272,584.6 272,584.9 259.7,585.3 255.2,586.4" fill="#20B3D1" opacity="0.45"/>
<polygon points="255.2,591.0 259.7,592.1 263.5,592.4 263.5,592.7 259.7,593.1 255.2,594.2" fill="#20B3D1" opacity="0.6"/>
<circle cx="256.7" cy="420.8" r="1.25" fill="#000"/>
<circle cx="256.7" cy="428.6" r="1.25" fill="#000"/>
<circle cx="256.7" cy="436.4" r="1.25" fill="#000"/>
<circle cx="256.7" cy="444.2" r="1.25" fill="#000"/>
<circle cx="256.7" cy="452.0" r="1.25" fill="#000"/>
<circle cx="256.7" cy="459.8" r="1.25" fill="#000"/>
<circle cx="256.7" cy="467.6" r="1.25" fill="#000"/>
<circle cx="256.7" cy="475.5" r="1.25" fill="#000"/>
<circle cx="256.7" cy="483.3" r="1.25" fill="#000"/>
<circle cx="256.7" cy="491.1" r="1.25" fill="#000"/>
<circle cx="256.7" cy="498.9" r="1.25" fill="#000"/>
<circle cx="256.7" cy="506.7" r="1.25" fill="#000"/>
<circle cx="256.7" cy="514.5" r="1.25" fill="#000"/>
<circle cx="256.7" cy="522.3" r="1.25" fill="#000"/>
<circle cx="256.7" cy="530.1" r="1.25" fill="#000"/>
<circle cx="256.7" cy="537.9" r="1.25" fill="#000"/>
<circle cx="256.7" cy="545.7" r="1.25" fill="#000"/>
<circle cx="256.7" cy="553.5" r="1.25" fill="#000"/>
<circle cx="256.7" cy="561.3" r="1.25" fill="#000"/>
<circle cx="256.7" cy="569.2" r="1.25" fill="#000"/>
<circle cx="256.7" cy="577.0" r="1.25" fill="#000"/>
<circle cx="256.7" cy="584.8" r="1.25" fill="#000"/>
<circle cx="256.7" cy="592.6" r="1.25" fill="#000"/>
<circle cx="256.7" cy="600.4" r="1.25" fill="#000"/>
<circle cx="256.7" cy="608.2" r="1.25" fill="#000"/>
<circle cx="256.7" cy="616.0" r="1.25" fill="#000"/>
<path d="M108.8 415.8V619.8H170.6" fill="none" stroke="#2b2b2b" stroke-width="1.7"/>
<text x="111.1" y="630.8" font-size="8.6" text-anchor="middle">0</text>
<text x="122.4" y="630.8" font-size="8.6" text-anchor="middle">1</text>
<text x="133.7" y="630.8" font-size="8.6" text-anchor="middle">2</text>
<text x="144.9" y="630.8" font-size="8.6" text-anchor="middle">3</text>
<text x="156.2" y="630.8" font-size="8.6" text-anchor="middle">4</text>
<text x="167.5" y="630.8" font-size="8.6" text-anchor="middle">5</text>
<text x="140.2" y="644.5" font-size="12.3" font-style="italic" text-anchor="middle">CXCL17</text>
<path d="M183.5 415.8V619.8H244.6" fill="none" stroke="#2b2b2b" stroke-width="1.7"/>
<text x="185.6" y="630.8" font-size="8.6" text-anchor="middle">0</text>
<text x="196.9" y="630.8" font-size="8.6" text-anchor="middle">1</text>
<text x="208.2" y="630.8" font-size="8.6" text-anchor="middle">2</text>
<text x="219.4" y="630.8" font-size="8.6" text-anchor="middle">3</text>
<text x="230.7" y="630.8" font-size="8.6" text-anchor="middle">4</text>
<text x="242.0" y="630.8" font-size="8.6" text-anchor="middle">5</text>
<text x="214.7" y="644.5" font-size="12.3" font-style="italic" text-anchor="middle">GPR15LG</text>
<path d="M254.0 415.8V619.8H315.2" fill="none" stroke="#2b2b2b" stroke-width="1.7"/>
<text x="256.5" y="630.8" font-size="8.6" text-anchor="middle">0</text>
<text x="267.8" y="630.8" font-size="8.6" text-anchor="middle">1</text>
<text x="279.1" y="630.8" font-size="8.6" text-anchor="middle">2</text>
<text x="290.3" y="630.8" font-size="8.6" text-anchor="middle">3</text>
<text x="301.6" y="630.8" font-size="8.6" text-anchor="middle">4</text>
<text x="312.9" y="630.8" font-size="8.6" text-anchor="middle">5</text>
<text x="285.6" y="644.5" font-size="12.3" font-style="italic" text-anchor="middle">CCL25</text>
</g>
</svg>
</body></html>
